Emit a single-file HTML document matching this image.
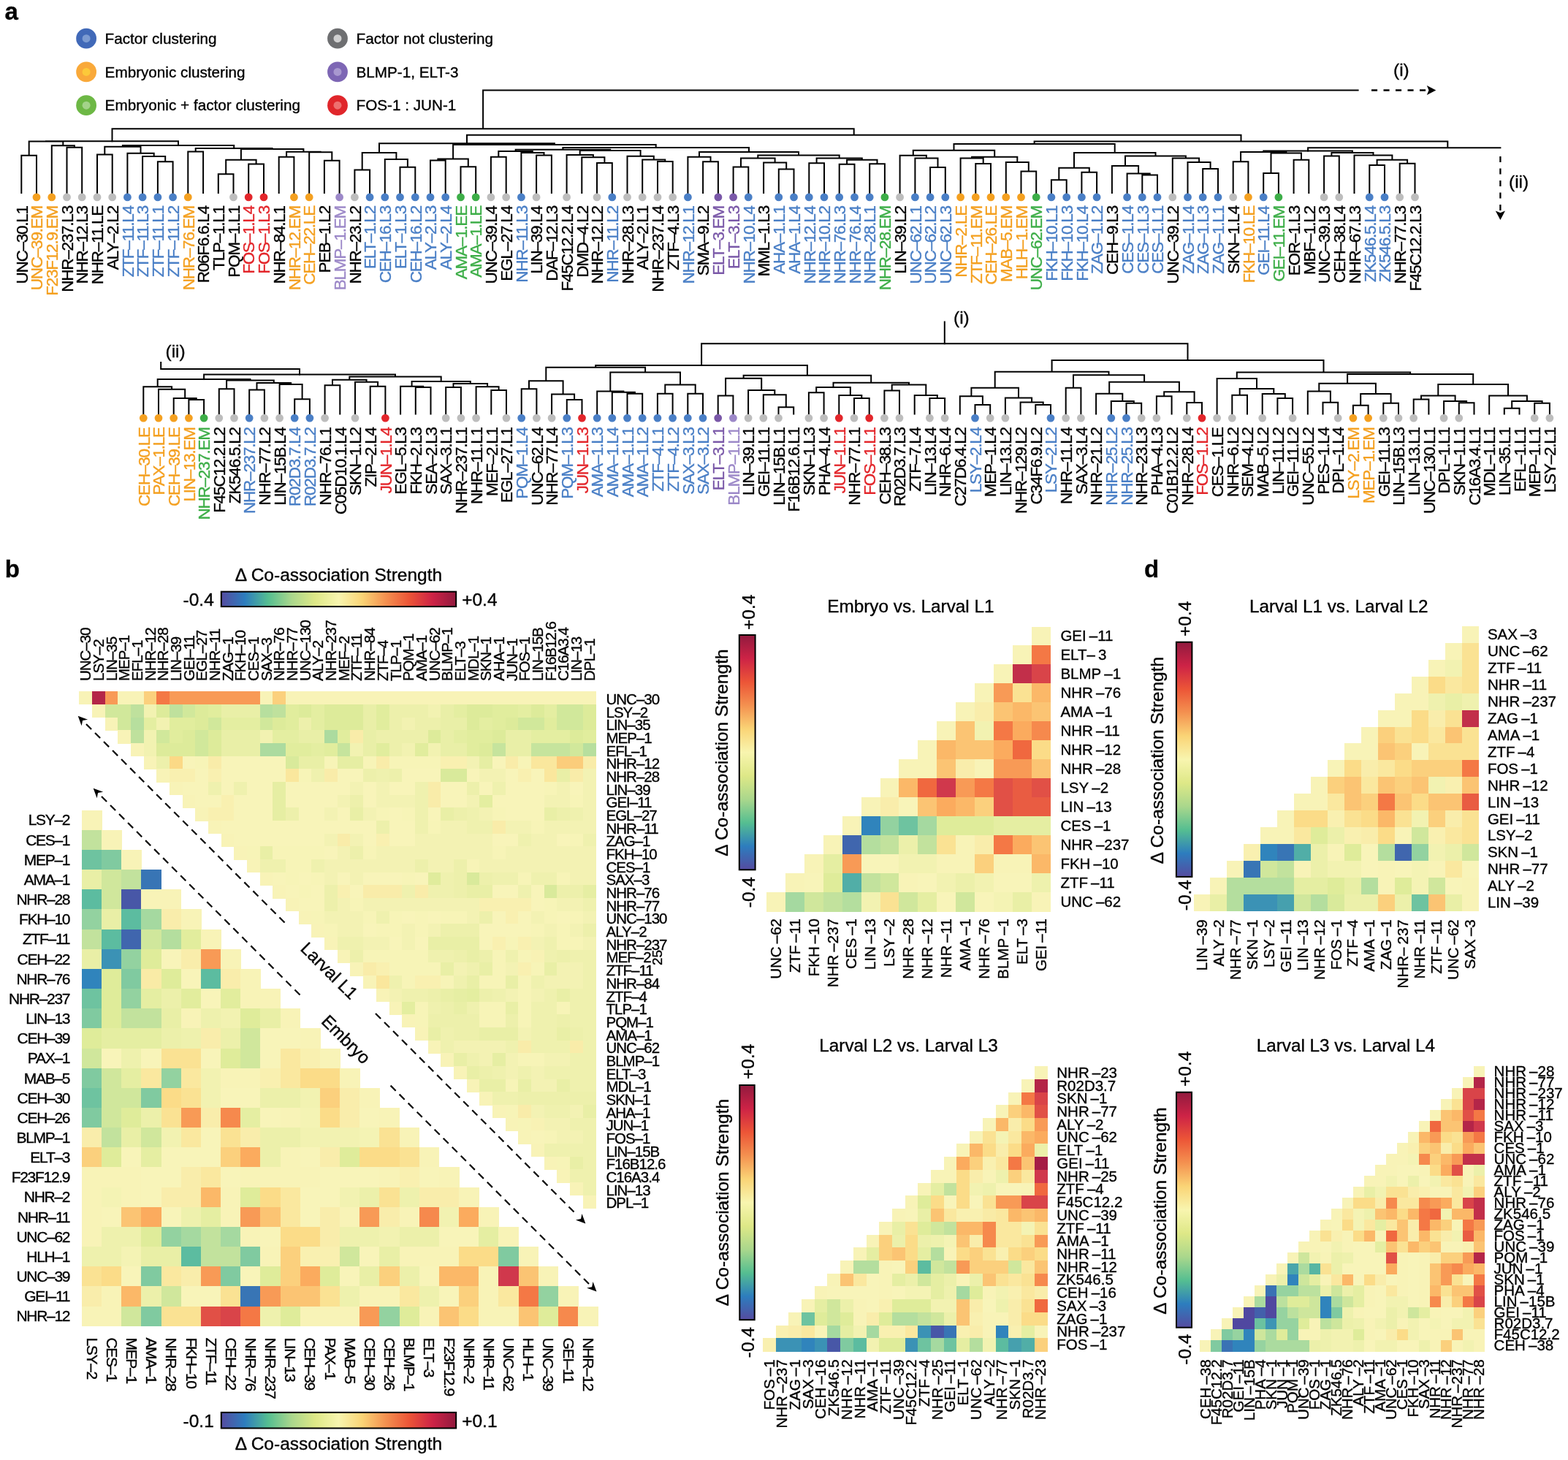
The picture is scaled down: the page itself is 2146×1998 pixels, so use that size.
<!DOCTYPE html>
<html><head><meta charset="utf-8"><title>Figure</title>
<style>html,body{margin:0;padding:0;background:#fff;} svg{display:block;} text{stroke:currentColor;stroke-width:0.35px;}</style>
</head><body>
<svg width="2146" height="1998" viewBox="0 0 2146 1998" font-family="'Liberation Sans', Arial, Helvetica, sans-serif">
<rect width="2146" height="1998" fill="#fff"/>
<defs><linearGradient id="gh" x1="0" x2="1" y1="0" y2="0"><stop offset="0.00" stop-color="#554ba0"/><stop offset="0.10" stop-color="#2d7dbe"/><stop offset="0.20" stop-color="#55be91"/><stop offset="0.30" stop-color="#aad78c"/><stop offset="0.40" stop-color="#dee887"/><stop offset="0.50" stop-color="#f8f5af"/><stop offset="0.60" stop-color="#fad476"/><stop offset="0.70" stop-color="#f49150"/><stop offset="0.80" stop-color="#ec5537"/><stop offset="0.90" stop-color="#cd2346"/><stop offset="1.00" stop-color="#911a3e"/></linearGradient>
<linearGradient id="gv" x1="0" x2="0" y1="1" y2="0"><stop offset="0.00" stop-color="#554ba0"/><stop offset="0.10" stop-color="#2d7dbe"/><stop offset="0.20" stop-color="#55be91"/><stop offset="0.30" stop-color="#aad78c"/><stop offset="0.40" stop-color="#dee887"/><stop offset="0.50" stop-color="#f8f5af"/><stop offset="0.60" stop-color="#fad476"/><stop offset="0.70" stop-color="#f49150"/><stop offset="0.80" stop-color="#ec5537"/><stop offset="0.90" stop-color="#cd2346"/><stop offset="1.00" stop-color="#911a3e"/></linearGradient>
</defs>
<text x="6.5" y="26.6" font-size="33" font-weight="bold">a</text>
<text x="6.8" y="790.4" font-size="33" font-weight="bold">b</text>
<text x="1566" y="790.4" font-size="33" font-weight="bold">d</text>
<circle cx="118.1" cy="52.7" r="13.9" fill="#4169B8"/><circle cx="118.1" cy="52.7" r="5.5" fill="#7C9BD2"/>
<text x="143.6" y="59.900000000000006" font-size="20.7">Factor clustering</text>
<circle cx="118.1" cy="98.4" r="13.9" fill="#F9A93A"/><circle cx="118.1" cy="98.4" r="5.5" fill="#FCC93A"/>
<text x="143.6" y="105.60000000000001" font-size="20.7">Embryonic clustering</text>
<circle cx="118.1" cy="144.2" r="13.9" fill="#6DB845"/><circle cx="118.1" cy="144.2" r="5.5" fill="#A3D38A"/>
<text x="143.6" y="151.39999999999998" font-size="20.7">Embryonic + factor clustering</text>
<circle cx="462" cy="52.7" r="13.9" fill="#6E6F71"/><circle cx="462" cy="52.7" r="5.5" fill="#D0D0D0"/>
<text x="487.5" y="59.900000000000006" font-size="20.7">Factor not clustering</text>
<circle cx="462" cy="98.4" r="13.9" fill="#7D66B4"/><circle cx="462" cy="98.4" r="5.5" fill="#A898CF"/>
<text x="487.5" y="105.60000000000001" font-size="20.7">BLMP-1, ELT-3</text>
<circle cx="462" cy="144.2" r="13.9" fill="#E0262B"/><circle cx="462" cy="144.2" r="5.5" fill="#EE7070"/>
<text x="487.5" y="151.39999999999998" font-size="20.7">FOS-1 : JUN-1</text>
<path d="M29.3,264.1V212.7H50.0V264.1M91.5,264.1V201.7H112.2V264.1M70.8,264.1V199.3H101.9V201.7M39.7,212.7V193.5H86.3V199.3M133.0,264.1V211.6H153.7V264.1M215.9,264.1V221.2H236.6V264.1M195.1,264.1V214.0H226.2V221.2M174.4,264.1V209.8H210.7V214.0M143.3,211.6V200.7H192.5V209.8M257.3,264.1V207.6H278.1V264.1M298.8,264.1V238.2H319.5V264.1M340.2,264.1V224.6H361.0V264.1M309.2,238.2V218.8H350.6V224.6M381.7,264.1V214.8H402.4V264.1M443.9,264.1V219.7H464.6V264.1M423.2,264.1V208.3H454.3V219.7M392.1,214.8V207.8H438.7V208.3M329.9,218.8V204.0H415.4V207.8M267.7,207.6V202.9H372.6V204.0M167.9,200.7V198.9H320.2V202.9M63.0,193.5V193.3H244.0V198.9M485.4,264.1V232.4H506.1V264.1M547.5,264.1V228.8H568.3V264.1M526.8,264.1V217.9H557.9V228.8M495.7,232.4V208.9H542.4V217.9M589.0,264.1V219.4H609.7V264.1M630.5,264.1V228.2H651.2V264.1M599.4,219.4V217.4H640.8V228.2M671.9,264.1V214.8H692.7V264.1M734.1,264.1V212.5H754.9V264.1M713.4,264.1V208.9H744.5V212.5M682.3,214.8V207.0H728.9V208.9M817.0,264.1V223.0H837.8V264.1M796.3,264.1V215.2H827.4V223.0M775.6,264.1V212.1H811.9V215.2M900.0,264.1V221.0H920.7V264.1M879.2,264.1V218.5H910.3V221.0M858.5,264.1V213.7H894.8V218.5M793.7,212.1V206.1H876.6V213.7M705.6,207.0V204.7H835.2V206.1M962.1,264.1V221.2H982.9V264.1M941.4,264.1V214.8H972.5V221.2M1003.6,264.1V228.4H1024.3V264.1M1065.8,264.1V231.5H1086.5V264.1M1045.1,264.1V222.4H1076.2V231.5M1014.0,228.4V216.5H1060.6V222.4M1107.3,264.1V223.3H1128.0V264.1M1148.7,264.1V224.8H1169.5V264.1M1190.2,264.1V224.2H1210.9V264.1M1159.1,224.8V218.8H1200.5V224.2M1117.6,223.3V216.6H1179.8V218.8M1037.3,216.5V212.5H1148.7V216.6M957.0,214.8V208.0H1093.0V212.5M770.4,204.7V202.0H1025.0V208.0M620.1,217.4V198.0H897.7V202.0M519.0,208.9V196.2H758.9V198.0M1273.1,264.1V229.1H1293.8V264.1M1252.4,264.1V216.6H1283.5V229.1M1231.6,264.1V212.8H1267.9V216.6M1335.3,264.1V223.9H1356.0V264.1M1314.6,264.1V216.6H1345.7V223.9M1397.5,264.1V234.4H1418.2V264.1M1376.8,264.1V222.1H1407.8V234.4M1330.1,216.6V214.8H1392.3V222.1M1249.8,212.8V205.8H1361.2V214.8M1438.9,264.1V246.3H1459.7V264.1M1480.4,264.1V235.7H1501.1V264.1M1449.3,246.3V229.7H1490.8V235.7M1563.3,264.1V239.6H1584.0V264.1M1542.6,264.1V237.5H1573.7V239.6M1521.9,264.1V227.0H1558.1V237.5M1646.2,264.1V231.1H1667.0V264.1M1625.5,264.1V222.1H1656.6V231.1M1604.8,264.1V216.6H1641.1V222.1M1540.0,227.0V213.4H1622.9V216.6M1470.0,229.7V208.9H1581.5V213.4M1305.5,205.8V197.1H1525.7V208.9M1687.7,264.1V221.2H1708.4V264.1M1729.2,264.1V236.9H1749.9V264.1M1770.6,264.1V218.8H1791.3V264.1M1739.5,236.9V209.4H1781.0V218.8M1698.1,221.2V208.0H1760.3V209.4M1812.1,264.1V213.4H1832.8V264.1M1874.3,264.1V226.1H1895.0V264.1M1915.7,264.1V223.7H1936.5V264.1M1884.6,226.1V218.8H1926.1V223.7M1853.5,264.1V212.5H1905.4V218.8M1822.4,213.4V208.9H1879.5V212.5M1729.2,208.0V206.5H1850.9V208.9" fill="none" stroke="#000" stroke-width="2.0" stroke-linejoin="miter" stroke-linecap="square"/>
<text transform="translate(37.5,282.1) rotate(-90)" text-anchor="end" font-size="22.5" letter-spacing="-1.25" fill="#000000" color="#000000">UNC–30.L1</text>
<circle cx="50.0" cy="269.9" r="5.4" fill="#F4A020"/>
<text transform="translate(58.2,282.1) rotate(-90)" text-anchor="end" font-size="22.5" letter-spacing="-1.25" fill="#F4A020" color="#F4A020">UNC–39.EM</text>
<circle cx="70.8" cy="269.9" r="5.4" fill="#F4A020"/>
<text transform="translate(79.0,282.1) rotate(-90)" text-anchor="end" font-size="22.5" letter-spacing="-1.25" fill="#F4A020" color="#F4A020">F23F12.9.EM</text>
<circle cx="91.5" cy="269.9" r="5.4" fill="#BDBDBD"/>
<text transform="translate(99.7,282.1) rotate(-90)" text-anchor="end" font-size="22.5" letter-spacing="-1.25" fill="#000000" color="#000000">NHR–237.L3</text>
<circle cx="112.2" cy="269.9" r="5.4" fill="#BDBDBD"/>
<text transform="translate(120.4,282.1) rotate(-90)" text-anchor="end" font-size="22.5" letter-spacing="-1.25" fill="#000000" color="#000000">NHR–12.L3</text>
<circle cx="133.0" cy="269.9" r="5.4" fill="#BDBDBD"/>
<text transform="translate(141.2,282.1) rotate(-90)" text-anchor="end" font-size="22.5" letter-spacing="-1.25" fill="#000000" color="#000000">NHR–11.LE</text>
<circle cx="153.7" cy="269.9" r="5.4" fill="#BDBDBD"/>
<text transform="translate(161.9,282.1) rotate(-90)" text-anchor="end" font-size="22.5" letter-spacing="-1.25" fill="#000000" color="#000000">ALY–2.L2</text>
<circle cx="174.4" cy="269.9" r="5.4" fill="#4A7FC6"/>
<text transform="translate(182.6,282.1) rotate(-90)" text-anchor="end" font-size="22.5" letter-spacing="-1.25" fill="#4A7FC6" color="#4A7FC6">ZTF–11.L4</text>
<circle cx="195.1" cy="269.9" r="5.4" fill="#4A7FC6"/>
<text transform="translate(203.3,282.1) rotate(-90)" text-anchor="end" font-size="22.5" letter-spacing="-1.25" fill="#4A7FC6" color="#4A7FC6">ZTF–11.L3</text>
<circle cx="215.9" cy="269.9" r="5.4" fill="#4A7FC6"/>
<text transform="translate(224.1,282.1) rotate(-90)" text-anchor="end" font-size="22.5" letter-spacing="-1.25" fill="#4A7FC6" color="#4A7FC6">ZTF–11.L1</text>
<circle cx="236.6" cy="269.9" r="5.4" fill="#4A7FC6"/>
<text transform="translate(244.8,282.1) rotate(-90)" text-anchor="end" font-size="22.5" letter-spacing="-1.25" fill="#4A7FC6" color="#4A7FC6">ZTF–11.L2</text>
<circle cx="257.3" cy="269.9" r="5.4" fill="#F4A020"/>
<text transform="translate(265.5,282.1) rotate(-90)" text-anchor="end" font-size="22.5" letter-spacing="-1.25" fill="#F4A020" color="#F4A020">NHR–76.EM</text>
<text transform="translate(286.3,282.1) rotate(-90)" text-anchor="end" font-size="22.5" letter-spacing="-1.25" fill="#000000" color="#000000">R06F6.6.L4</text>
<text transform="translate(307.0,282.1) rotate(-90)" text-anchor="end" font-size="22.5" letter-spacing="-1.25" fill="#000000" color="#000000">TLP–1.L1</text>
<circle cx="319.5" cy="269.9" r="5.4" fill="#BDBDBD"/>
<text transform="translate(327.7,282.1) rotate(-90)" text-anchor="end" font-size="22.5" letter-spacing="-1.25" fill="#000000" color="#000000">PQM–1.L1</text>
<circle cx="340.2" cy="269.9" r="5.4" fill="#E3262B"/>
<text transform="translate(348.4,282.1) rotate(-90)" text-anchor="end" font-size="22.5" letter-spacing="-1.25" fill="#E3262B" color="#E3262B">FOS–1.L4</text>
<circle cx="361.0" cy="269.9" r="5.4" fill="#E3262B"/>
<text transform="translate(369.2,282.1) rotate(-90)" text-anchor="end" font-size="22.5" letter-spacing="-1.25" fill="#E3262B" color="#E3262B">FOS–1.L3</text>
<text transform="translate(389.9,282.1) rotate(-90)" text-anchor="end" font-size="22.5" letter-spacing="-1.25" fill="#000000" color="#000000">NHR–84.L1</text>
<circle cx="402.4" cy="269.9" r="5.4" fill="#F4A020"/>
<text transform="translate(410.6,282.1) rotate(-90)" text-anchor="end" font-size="22.5" letter-spacing="-1.25" fill="#F4A020" color="#F4A020">NHR–12.EM</text>
<circle cx="423.2" cy="269.9" r="5.4" fill="#F4A020"/>
<text transform="translate(431.4,282.1) rotate(-90)" text-anchor="end" font-size="22.5" letter-spacing="-1.25" fill="#F4A020" color="#F4A020">CEH–22.LE</text>
<text transform="translate(452.1,282.1) rotate(-90)" text-anchor="end" font-size="22.5" letter-spacing="-1.25" fill="#000000" color="#000000">PEB–1.L2</text>
<circle cx="464.6" cy="269.9" r="5.4" fill="#9C88C8"/>
<text transform="translate(472.8,282.1) rotate(-90)" text-anchor="end" font-size="22.5" letter-spacing="-1.25" fill="#9C88C8" color="#9C88C8">BLMP–1.EM</text>
<circle cx="485.4" cy="269.9" r="5.4" fill="#BDBDBD"/>
<text transform="translate(493.6,282.1) rotate(-90)" text-anchor="end" font-size="22.5" letter-spacing="-1.25" fill="#000000" color="#000000">NHR–23.L2</text>
<circle cx="506.1" cy="269.9" r="5.4" fill="#4A7FC6"/>
<text transform="translate(514.3,282.1) rotate(-90)" text-anchor="end" font-size="22.5" letter-spacing="-1.25" fill="#4A7FC6" color="#4A7FC6">ELT–1.L2</text>
<circle cx="526.8" cy="269.9" r="5.4" fill="#4A7FC6"/>
<text transform="translate(535.0,282.1) rotate(-90)" text-anchor="end" font-size="22.5" letter-spacing="-1.25" fill="#4A7FC6" color="#4A7FC6">CEH–16.L3</text>
<circle cx="547.5" cy="269.9" r="5.4" fill="#4A7FC6"/>
<text transform="translate(555.8,282.1) rotate(-90)" text-anchor="end" font-size="22.5" letter-spacing="-1.25" fill="#4A7FC6" color="#4A7FC6">ELT–1.L3</text>
<circle cx="568.3" cy="269.9" r="5.4" fill="#4A7FC6"/>
<text transform="translate(576.5,282.1) rotate(-90)" text-anchor="end" font-size="22.5" letter-spacing="-1.25" fill="#4A7FC6" color="#4A7FC6">CEH–16.L2</text>
<circle cx="589.0" cy="269.9" r="5.4" fill="#4A7FC6"/>
<text transform="translate(597.2,282.1) rotate(-90)" text-anchor="end" font-size="22.5" letter-spacing="-1.25" fill="#4A7FC6" color="#4A7FC6">ALY–2.L3</text>
<circle cx="609.7" cy="269.9" r="5.4" fill="#4A7FC6"/>
<text transform="translate(617.9,282.1) rotate(-90)" text-anchor="end" font-size="22.5" letter-spacing="-1.25" fill="#4A7FC6" color="#4A7FC6">ALY–2.L4</text>
<circle cx="630.5" cy="269.9" r="5.4" fill="#3DAE48"/>
<text transform="translate(638.7,282.1) rotate(-90)" text-anchor="end" font-size="22.5" letter-spacing="-1.25" fill="#3DAE48" color="#3DAE48">AMA–1.EE</text>
<circle cx="651.2" cy="269.9" r="5.4" fill="#3DAE48"/>
<text transform="translate(659.4,282.1) rotate(-90)" text-anchor="end" font-size="22.5" letter-spacing="-1.25" fill="#3DAE48" color="#3DAE48">AMA–1.LE</text>
<circle cx="671.9" cy="269.9" r="5.4" fill="#BDBDBD"/>
<text transform="translate(680.1,282.1) rotate(-90)" text-anchor="end" font-size="22.5" letter-spacing="-1.25" fill="#000000" color="#000000">UNC–39.L4</text>
<circle cx="692.7" cy="269.9" r="5.4" fill="#BDBDBD"/>
<text transform="translate(700.9,282.1) rotate(-90)" text-anchor="end" font-size="22.5" letter-spacing="-1.25" fill="#000000" color="#000000">EGL–27.L4</text>
<circle cx="713.4" cy="269.9" r="5.4" fill="#4A7FC6"/>
<text transform="translate(721.6,282.1) rotate(-90)" text-anchor="end" font-size="22.5" letter-spacing="-1.25" fill="#4A7FC6" color="#4A7FC6">NHR–11.L3</text>
<circle cx="734.1" cy="269.9" r="5.4" fill="#BDBDBD"/>
<text transform="translate(742.3,282.1) rotate(-90)" text-anchor="end" font-size="22.5" letter-spacing="-1.25" fill="#000000" color="#000000">LIN–39.L4</text>
<text transform="translate(763.1,282.1) rotate(-90)" text-anchor="end" font-size="22.5" letter-spacing="-1.25" fill="#000000" color="#000000">DAF–12.L3</text>
<circle cx="775.6" cy="269.9" r="5.4" fill="#BDBDBD"/>
<text transform="translate(783.8,282.1) rotate(-90)" text-anchor="end" font-size="22.5" letter-spacing="-1.25" fill="#000000" color="#000000">F45C12.2.L4</text>
<text transform="translate(804.5,282.1) rotate(-90)" text-anchor="end" font-size="22.5" letter-spacing="-1.25" fill="#000000" color="#000000">DMD–4.L2</text>
<circle cx="817.0" cy="269.9" r="5.4" fill="#BDBDBD"/>
<text transform="translate(825.2,282.1) rotate(-90)" text-anchor="end" font-size="22.5" letter-spacing="-1.25" fill="#000000" color="#000000">NHR–12.L2</text>
<circle cx="837.8" cy="269.9" r="5.4" fill="#4A7FC6"/>
<text transform="translate(846.0,282.1) rotate(-90)" text-anchor="end" font-size="22.5" letter-spacing="-1.25" fill="#4A7FC6" color="#4A7FC6">NHR–11.L2</text>
<circle cx="858.5" cy="269.9" r="5.4" fill="#BDBDBD"/>
<text transform="translate(866.7,282.1) rotate(-90)" text-anchor="end" font-size="22.5" letter-spacing="-1.25" fill="#000000" color="#000000">NHR–28.L3</text>
<circle cx="879.2" cy="269.9" r="5.4" fill="#BDBDBD"/>
<text transform="translate(887.4,282.1) rotate(-90)" text-anchor="end" font-size="22.5" letter-spacing="-1.25" fill="#000000" color="#000000">ALY–2.L1</text>
<circle cx="900.0" cy="269.9" r="5.4" fill="#BDBDBD"/>
<text transform="translate(908.2,282.1) rotate(-90)" text-anchor="end" font-size="22.5" letter-spacing="-1.25" fill="#000000" color="#000000">NHR–237.L4</text>
<circle cx="920.7" cy="269.9" r="5.4" fill="#BDBDBD"/>
<text transform="translate(928.9,282.1) rotate(-90)" text-anchor="end" font-size="22.5" letter-spacing="-1.25" fill="#000000" color="#000000">ZTF–4.L3</text>
<circle cx="941.4" cy="269.9" r="5.4" fill="#4A7FC6"/>
<text transform="translate(949.6,282.1) rotate(-90)" text-anchor="end" font-size="22.5" letter-spacing="-1.25" fill="#4A7FC6" color="#4A7FC6">NHR–12.L1</text>
<text transform="translate(970.4,282.1) rotate(-90)" text-anchor="end" font-size="22.5" letter-spacing="-1.25" fill="#000000" color="#000000">SMA–9.L2</text>
<circle cx="982.9" cy="269.9" r="5.4" fill="#7A58A8"/>
<text transform="translate(991.1,282.1) rotate(-90)" text-anchor="end" font-size="22.5" letter-spacing="-1.25" fill="#7A58A8" color="#7A58A8">ELT–3.EM</text>
<circle cx="1003.6" cy="269.9" r="5.4" fill="#7A58A8"/>
<text transform="translate(1011.8,282.1) rotate(-90)" text-anchor="end" font-size="22.5" letter-spacing="-1.25" fill="#7A58A8" color="#7A58A8">ELT–3.L3</text>
<circle cx="1024.3" cy="269.9" r="5.4" fill="#4A7FC6"/>
<text transform="translate(1032.5,282.1) rotate(-90)" text-anchor="end" font-size="22.5" letter-spacing="-1.25" fill="#4A7FC6" color="#4A7FC6">NHR–10.L4</text>
<text transform="translate(1053.3,282.1) rotate(-90)" text-anchor="end" font-size="22.5" letter-spacing="-1.25" fill="#000000" color="#000000">MML–1.L3</text>
<circle cx="1065.8" cy="269.9" r="5.4" fill="#4A7FC6"/>
<text transform="translate(1074.0,282.1) rotate(-90)" text-anchor="end" font-size="22.5" letter-spacing="-1.25" fill="#4A7FC6" color="#4A7FC6">AHA–1.L1</text>
<circle cx="1086.5" cy="269.9" r="5.4" fill="#4A7FC6"/>
<text transform="translate(1094.7,282.1) rotate(-90)" text-anchor="end" font-size="22.5" letter-spacing="-1.25" fill="#4A7FC6" color="#4A7FC6">AHA–1.L4</text>
<circle cx="1107.3" cy="269.9" r="5.4" fill="#4A7FC6"/>
<text transform="translate(1115.5,282.1) rotate(-90)" text-anchor="end" font-size="22.5" letter-spacing="-1.25" fill="#4A7FC6" color="#4A7FC6">NHR–12.L4</text>
<circle cx="1128.0" cy="269.9" r="5.4" fill="#4A7FC6"/>
<text transform="translate(1136.2,282.1) rotate(-90)" text-anchor="end" font-size="22.5" letter-spacing="-1.25" fill="#4A7FC6" color="#4A7FC6">NHR–10.L2</text>
<circle cx="1148.7" cy="269.9" r="5.4" fill="#4A7FC6"/>
<text transform="translate(1156.9,282.1) rotate(-90)" text-anchor="end" font-size="22.5" letter-spacing="-1.25" fill="#4A7FC6" color="#4A7FC6">NHR–76.L3</text>
<circle cx="1169.5" cy="269.9" r="5.4" fill="#4A7FC6"/>
<text transform="translate(1177.7,282.1) rotate(-90)" text-anchor="end" font-size="22.5" letter-spacing="-1.25" fill="#4A7FC6" color="#4A7FC6">NHR–76.L4</text>
<circle cx="1190.2" cy="269.9" r="5.4" fill="#4A7FC6"/>
<text transform="translate(1198.4,282.1) rotate(-90)" text-anchor="end" font-size="22.5" letter-spacing="-1.25" fill="#4A7FC6" color="#4A7FC6">NHR–28.L1</text>
<circle cx="1210.9" cy="269.9" r="5.4" fill="#3DAE48"/>
<text transform="translate(1219.1,282.1) rotate(-90)" text-anchor="end" font-size="22.5" letter-spacing="-1.25" fill="#3DAE48" color="#3DAE48">NHR–28.EM</text>
<circle cx="1231.6" cy="269.9" r="5.4" fill="#BDBDBD"/>
<text transform="translate(1239.8,282.1) rotate(-90)" text-anchor="end" font-size="22.5" letter-spacing="-1.25" fill="#000000" color="#000000">LIN–39.L2</text>
<circle cx="1252.4" cy="269.9" r="5.4" fill="#4A7FC6"/>
<text transform="translate(1260.6,282.1) rotate(-90)" text-anchor="end" font-size="22.5" letter-spacing="-1.25" fill="#4A7FC6" color="#4A7FC6">UNC–62.L1</text>
<circle cx="1273.1" cy="269.9" r="5.4" fill="#4A7FC6"/>
<text transform="translate(1281.3,282.1) rotate(-90)" text-anchor="end" font-size="22.5" letter-spacing="-1.25" fill="#4A7FC6" color="#4A7FC6">UNC–62.L2</text>
<circle cx="1293.8" cy="269.9" r="5.4" fill="#4A7FC6"/>
<text transform="translate(1302.0,282.1) rotate(-90)" text-anchor="end" font-size="22.5" letter-spacing="-1.25" fill="#4A7FC6" color="#4A7FC6">UNC–62.L3</text>
<circle cx="1314.6" cy="269.9" r="5.4" fill="#F4A020"/>
<text transform="translate(1322.8,282.1) rotate(-90)" text-anchor="end" font-size="22.5" letter-spacing="-1.25" fill="#F4A020" color="#F4A020">NHR–2.LE</text>
<circle cx="1335.3" cy="269.9" r="5.4" fill="#F4A020"/>
<text transform="translate(1343.5,282.1) rotate(-90)" text-anchor="end" font-size="22.5" letter-spacing="-1.25" fill="#F4A020" color="#F4A020">ZTF–11.EM</text>
<circle cx="1356.0" cy="269.9" r="5.4" fill="#F4A020"/>
<text transform="translate(1364.2,282.1) rotate(-90)" text-anchor="end" font-size="22.5" letter-spacing="-1.25" fill="#F4A020" color="#F4A020">CEH–26.LE</text>
<circle cx="1376.8" cy="269.9" r="5.4" fill="#F4A020"/>
<text transform="translate(1385.0,282.1) rotate(-90)" text-anchor="end" font-size="22.5" letter-spacing="-1.25" fill="#F4A020" color="#F4A020">MAB–5.EM</text>
<circle cx="1397.5" cy="269.9" r="5.4" fill="#F4A020"/>
<text transform="translate(1405.7,282.1) rotate(-90)" text-anchor="end" font-size="22.5" letter-spacing="-1.25" fill="#F4A020" color="#F4A020">HLH–1.EM</text>
<circle cx="1418.2" cy="269.9" r="5.4" fill="#3DAE48"/>
<text transform="translate(1426.4,282.1) rotate(-90)" text-anchor="end" font-size="22.5" letter-spacing="-1.25" fill="#3DAE48" color="#3DAE48">UNC–62.EM</text>
<circle cx="1438.9" cy="269.9" r="5.4" fill="#4A7FC6"/>
<text transform="translate(1447.1,282.1) rotate(-90)" text-anchor="end" font-size="22.5" letter-spacing="-1.25" fill="#4A7FC6" color="#4A7FC6">FKH–10.L1</text>
<circle cx="1459.7" cy="269.9" r="5.4" fill="#4A7FC6"/>
<text transform="translate(1467.9,282.1) rotate(-90)" text-anchor="end" font-size="22.5" letter-spacing="-1.25" fill="#4A7FC6" color="#4A7FC6">FKH–10.L3</text>
<circle cx="1480.4" cy="269.9" r="5.4" fill="#4A7FC6"/>
<text transform="translate(1488.6,282.1) rotate(-90)" text-anchor="end" font-size="22.5" letter-spacing="-1.25" fill="#4A7FC6" color="#4A7FC6">FKH–10.L4</text>
<circle cx="1501.1" cy="269.9" r="5.4" fill="#4A7FC6"/>
<text transform="translate(1509.3,282.1) rotate(-90)" text-anchor="end" font-size="22.5" letter-spacing="-1.25" fill="#4A7FC6" color="#4A7FC6">ZAG–1.L2</text>
<text transform="translate(1530.1,282.1) rotate(-90)" text-anchor="end" font-size="22.5" letter-spacing="-1.25" fill="#000000" color="#000000">CEH–9.L3</text>
<circle cx="1542.6" cy="269.9" r="5.4" fill="#4A7FC6"/>
<text transform="translate(1550.8,282.1) rotate(-90)" text-anchor="end" font-size="22.5" letter-spacing="-1.25" fill="#4A7FC6" color="#4A7FC6">CES–1.L4</text>
<circle cx="1563.3" cy="269.9" r="5.4" fill="#4A7FC6"/>
<text transform="translate(1571.5,282.1) rotate(-90)" text-anchor="end" font-size="22.5" letter-spacing="-1.25" fill="#4A7FC6" color="#4A7FC6">CES–1.L3</text>
<circle cx="1584.0" cy="269.9" r="5.4" fill="#4A7FC6"/>
<text transform="translate(1592.2,282.1) rotate(-90)" text-anchor="end" font-size="22.5" letter-spacing="-1.25" fill="#4A7FC6" color="#4A7FC6">CES–1.L1</text>
<circle cx="1604.8" cy="269.9" r="5.4" fill="#BDBDBD"/>
<text transform="translate(1613.0,282.1) rotate(-90)" text-anchor="end" font-size="22.5" letter-spacing="-1.25" fill="#000000" color="#000000">UNC–39.L2</text>
<circle cx="1625.5" cy="269.9" r="5.4" fill="#4A7FC6"/>
<text transform="translate(1633.7,282.1) rotate(-90)" text-anchor="end" font-size="22.5" letter-spacing="-1.25" fill="#4A7FC6" color="#4A7FC6">ZAG–1.L4</text>
<circle cx="1646.2" cy="269.9" r="5.4" fill="#4A7FC6"/>
<text transform="translate(1654.4,282.1) rotate(-90)" text-anchor="end" font-size="22.5" letter-spacing="-1.25" fill="#4A7FC6" color="#4A7FC6">ZAG–1.L3</text>
<circle cx="1667.0" cy="269.9" r="5.4" fill="#4A7FC6"/>
<text transform="translate(1675.2,282.1) rotate(-90)" text-anchor="end" font-size="22.5" letter-spacing="-1.25" fill="#4A7FC6" color="#4A7FC6">ZAG–1.L1</text>
<circle cx="1687.7" cy="269.9" r="5.4" fill="#BDBDBD"/>
<text transform="translate(1695.9,282.1) rotate(-90)" text-anchor="end" font-size="22.5" letter-spacing="-1.25" fill="#000000" color="#000000">SKN–1.L4</text>
<circle cx="1708.4" cy="269.9" r="5.4" fill="#F4A020"/>
<text transform="translate(1716.6,282.1) rotate(-90)" text-anchor="end" font-size="22.5" letter-spacing="-1.25" fill="#F4A020" color="#F4A020">FKH–10.LE</text>
<circle cx="1729.2" cy="269.9" r="5.4" fill="#4A7FC6"/>
<text transform="translate(1737.4,282.1) rotate(-90)" text-anchor="end" font-size="22.5" letter-spacing="-1.25" fill="#4A7FC6" color="#4A7FC6">GEI–11.L4</text>
<circle cx="1749.9" cy="269.9" r="5.4" fill="#3DAE48"/>
<text transform="translate(1758.1,282.1) rotate(-90)" text-anchor="end" font-size="22.5" letter-spacing="-1.25" fill="#3DAE48" color="#3DAE48">GEI–11.EM</text>
<text transform="translate(1778.8,282.1) rotate(-90)" text-anchor="end" font-size="22.5" letter-spacing="-1.25" fill="#000000" color="#000000">EOR–1.L3</text>
<text transform="translate(1799.5,282.1) rotate(-90)" text-anchor="end" font-size="22.5" letter-spacing="-1.25" fill="#000000" color="#000000">MBF–1.L2</text>
<circle cx="1812.1" cy="269.9" r="5.4" fill="#BDBDBD"/>
<text transform="translate(1820.3,282.1) rotate(-90)" text-anchor="end" font-size="22.5" letter-spacing="-1.25" fill="#000000" color="#000000">UNC–39.L3</text>
<circle cx="1832.8" cy="269.9" r="5.4" fill="#BDBDBD"/>
<text transform="translate(1841.0,282.1) rotate(-90)" text-anchor="end" font-size="22.5" letter-spacing="-1.25" fill="#000000" color="#000000">CEH–38.L4</text>
<text transform="translate(1861.7,282.1) rotate(-90)" text-anchor="end" font-size="22.5" letter-spacing="-1.25" fill="#000000" color="#000000">NHR–67.L3</text>
<circle cx="1874.3" cy="269.9" r="5.4" fill="#4A7FC6"/>
<text transform="translate(1882.5,282.1) rotate(-90)" text-anchor="end" font-size="22.5" letter-spacing="-1.25" fill="#4A7FC6" color="#4A7FC6">ZK546.5.L4</text>
<circle cx="1895.0" cy="269.9" r="5.4" fill="#4A7FC6"/>
<text transform="translate(1903.2,282.1) rotate(-90)" text-anchor="end" font-size="22.5" letter-spacing="-1.25" fill="#4A7FC6" color="#4A7FC6">ZK546.5.L3</text>
<circle cx="1915.7" cy="269.9" r="5.4" fill="#BDBDBD"/>
<text transform="translate(1923.9,282.1) rotate(-90)" text-anchor="end" font-size="22.5" letter-spacing="-1.25" fill="#000000" color="#000000">NHR–77.L3</text>
<circle cx="1936.5" cy="269.9" r="5.4" fill="#BDBDBD"/>
<text transform="translate(1944.7,282.1) rotate(-90)" text-anchor="end" font-size="22.5" letter-spacing="-1.25" fill="#000000" color="#000000">F45C12.2.L3</text>
<path d="M1790.1,206.5V202.2M1790.8,202.2H2053.4M1415.6,197.1V193.5H1981.3V202.2M639.0,196.2V184.8H1698.5V193.5M153.5,193.3V176.3H1168.7V184.8M661.1,176.3V123.5H1858.6" fill="none" stroke="#000" stroke-width="2.0" stroke-linecap="square"/>
<path d="M1877,123.5H1953" stroke="#000" stroke-width="2.3" stroke-dasharray="8.1,8.4" fill="none"/>
<path d="M0,0 L-12.5,-6.6 L-9.8,0 L-12.5,6.6 Z" transform="translate(1965.3,123.5)" fill="#000"/>
<path d="M2053.4,214V289" stroke="#000" stroke-width="2.3" stroke-dasharray="8.1,8.4" fill="none"/>
<path d="M0,0 L-12.5,-6.6 L-9.8,0 L-12.5,6.6 Z" transform="translate(2053.4,301) rotate(90)" fill="#000"/>
<text x="1907" y="104" font-size="24.5">(i)</text>
<text x="2065" y="256.5" font-size="24.5">(ii)</text>
<path d="M258.4,566.5V547.1H279.1V566.5M237.7,566.5V545.0H268.7V547.1M217.0,566.5V532.7H253.2V545.0M196.3,566.5V529.2H235.1V532.7M299.8,566.5V532.2H320.5V566.5M341.2,566.5V533.5H361.9V566.5M403.2,566.5V546.3H423.9V566.5M382.6,566.5V525.9H413.6V546.3M351.5,533.5V524.0H398.1V525.9M310.1,532.2V520.5H374.8V524.0M215.7,529.2V519.1H342.5V520.5M444.6,566.5V527.3H465.3V566.5M506.7,566.5V528.7H527.4V566.5M486.0,566.5V522.7H517.1V528.7M455.0,527.3V519.7H501.6V522.7M568.8,566.5V530.0H589.5V566.5M548.1,566.5V528.7H579.2V530.0M610.2,566.5V530.0H630.9V566.5M672.3,566.5V534.1H693.0V566.5M651.6,566.5V529.2H682.6V534.1M620.5,530.0V525.1H667.1V529.2M563.6,528.7V521.9H643.8V525.1M478.3,519.7V515.6H603.7V521.9M279.1,519.1V512.4H541.0V515.6M713.7,566.5V532.2H734.4V566.5M775.8,566.5V546.9H796.5V566.5M755.1,566.5V539.5H786.1V546.9M724.0,532.2V521.3H770.6V539.5M858.5,566.5V538.7H879.2V566.5M837.8,566.5V536.8H868.9V538.7M817.2,566.5V535.4H853.4V536.8M899.9,566.5V538.7H920.6V566.5M941.3,566.5V538.7H962.0V566.5M910.3,538.7V526.5H951.7V538.7M835.3,535.4V509.6H931.0V526.5M747.3,521.3V502.8H883.1V509.6M982.7,566.5V541.4H1003.4V566.5M1065.5,566.5V557.2H1086.2V566.5M1044.8,566.5V540.3H1075.8V557.2M1024.1,566.5V534.1H1060.3V540.3M993.1,541.4V517.8H1042.2V534.1M1106.9,566.5V537.3H1127.6V566.5M1169.0,566.5V545.0H1189.7V566.5M1148.3,566.5V540.9H1179.3V545.0M1117.2,537.3V530.0H1163.8V540.9M1210.4,566.5V534.6H1231.0V566.5M1272.4,566.5V545.0H1293.1V566.5M1251.7,566.5V540.9H1282.8V545.0M1220.7,534.6V526.5H1267.3V540.9M1140.5,530.0V523.8H1244.0V526.5M1017.6,517.8V513.7H1192.2V523.8M815.2,502.8V500.1H1104.9V513.7M1334.5,566.5V553.9H1355.2V566.5M1313.8,566.5V542.2H1344.9V553.9M1417.3,566.5V553.9H1438.0V566.5M1396.6,566.5V550.4H1427.7V553.9M1375.9,566.5V544.4H1412.1V550.4M1329.4,542.2V530.8H1394.0V544.4M1458.7,566.5V530.8H1479.4V566.5M1541.5,566.5V551.7H1562.2V566.5M1520.8,566.5V549.0H1551.8V551.7M1500.1,566.5V538.7H1536.3V549.0M1624.3,566.5V550.9H1645.0V566.5M1582.9,566.5V542.2H1603.6V566.5M1593.2,542.2V536.3H1634.6V550.9M1518.2,538.7V522.7H1613.9V536.3M1469.0,530.8V513.2H1566.1V522.7M1361.7,530.8V508.8H1517.5V513.2M1686.3,566.5V540.7H1707.0V566.5M1748.4,566.5V544.9H1769.1V566.5M1727.7,566.5V539.1H1758.8V544.9M1696.7,540.7V532.0H1743.3V539.1M1665.6,566.5V518.0H1720.0V532.0M1810.5,566.5V550.8H1831.2V566.5M1789.8,566.5V535.6H1820.9V550.8M1851.9,566.5V554.8H1872.6V566.5M1893.3,566.5V551.7H1914.0V566.5M1862.2,554.8V539.1H1903.6V551.7M1805.3,535.6V524.8H1882.9V539.1M1934.7,566.5V546.6H1955.4V566.5M1996.8,566.5V551.3H2017.5V566.5M1976.1,566.5V548.9H2007.1V551.3M1945.0,546.6V541.4H1991.6V548.9M2058.8,566.5V558.8H2079.5V566.5M2100.2,566.5V551.7H2120.9V566.5M2069.2,558.8V548.9H2110.6V551.7M2038.2,566.5V541.4H2089.9V548.9M1968.3,541.4V526.0H2064.0V541.4M1844.1,524.8V511.9H2016.2V526.0M1692.8,518.0V509.5H1930.2V511.9M1439.6,508.8V493.0H1811.5V509.5M960.1,500.1V470.3H1625.5V493.0" fill="none" stroke="#000" stroke-width="2.0" stroke-linejoin="miter" stroke-linecap="square"/>
<circle cx="196.3" cy="572.1" r="5.4" fill="#F4A020"/>
<text transform="translate(204.5,585.3) rotate(-90)" text-anchor="end" font-size="22.5" letter-spacing="-1.25" fill="#F4A020" color="#F4A020">CEH–30.LE</text>
<circle cx="217.0" cy="572.1" r="5.4" fill="#F4A020"/>
<text transform="translate(225.2,585.3) rotate(-90)" text-anchor="end" font-size="22.5" letter-spacing="-1.25" fill="#F4A020" color="#F4A020">PAX–1.LE</text>
<circle cx="237.7" cy="572.1" r="5.4" fill="#F4A020"/>
<text transform="translate(245.9,585.3) rotate(-90)" text-anchor="end" font-size="22.5" letter-spacing="-1.25" fill="#F4A020" color="#F4A020">CEH–39.LE</text>
<circle cx="258.4" cy="572.1" r="5.4" fill="#F4A020"/>
<text transform="translate(266.6,585.3) rotate(-90)" text-anchor="end" font-size="22.5" letter-spacing="-1.25" fill="#F4A020" color="#F4A020">LIN–13.EM</text>
<circle cx="279.1" cy="572.1" r="5.4" fill="#3DAE48"/>
<text transform="translate(287.3,585.3) rotate(-90)" text-anchor="end" font-size="22.5" letter-spacing="-1.25" fill="#3DAE48" color="#3DAE48">NHR–237.EM</text>
<circle cx="299.8" cy="572.1" r="5.4" fill="#BDBDBD"/>
<text transform="translate(308.0,585.3) rotate(-90)" text-anchor="end" font-size="22.5" letter-spacing="-1.25" fill="#000000" color="#000000">F45C12.2.L2</text>
<circle cx="320.5" cy="572.1" r="5.4" fill="#BDBDBD"/>
<text transform="translate(328.7,585.3) rotate(-90)" text-anchor="end" font-size="22.5" letter-spacing="-1.25" fill="#000000" color="#000000">ZK546.5.L2</text>
<circle cx="341.2" cy="572.1" r="5.4" fill="#4A7FC6"/>
<text transform="translate(349.4,585.3) rotate(-90)" text-anchor="end" font-size="22.5" letter-spacing="-1.25" fill="#4A7FC6" color="#4A7FC6">NHR–237.L2</text>
<circle cx="361.9" cy="572.1" r="5.4" fill="#BDBDBD"/>
<text transform="translate(370.1,585.3) rotate(-90)" text-anchor="end" font-size="22.5" letter-spacing="-1.25" fill="#000000" color="#000000">NHR–77.L2</text>
<circle cx="382.6" cy="572.1" r="5.4" fill="#BDBDBD"/>
<text transform="translate(390.8,585.3) rotate(-90)" text-anchor="end" font-size="22.5" letter-spacing="-1.25" fill="#000000" color="#000000">LIN–15B.L4</text>
<circle cx="403.2" cy="572.1" r="5.4" fill="#4A7FC6"/>
<text transform="translate(411.4,585.3) rotate(-90)" text-anchor="end" font-size="22.5" letter-spacing="-1.25" fill="#4A7FC6" color="#4A7FC6">R02D3.7.L4</text>
<circle cx="423.9" cy="572.1" r="5.4" fill="#4A7FC6"/>
<text transform="translate(432.1,585.3) rotate(-90)" text-anchor="end" font-size="22.5" letter-spacing="-1.25" fill="#4A7FC6" color="#4A7FC6">R02D3.7.L2</text>
<circle cx="444.6" cy="572.1" r="5.4" fill="#BDBDBD"/>
<text transform="translate(452.8,585.3) rotate(-90)" text-anchor="end" font-size="22.5" letter-spacing="-1.25" fill="#000000" color="#000000">NHR–76.L1</text>
<text transform="translate(473.5,585.3) rotate(-90)" text-anchor="end" font-size="22.5" letter-spacing="-1.25" fill="#000000" color="#000000">C05D10.1.L4</text>
<circle cx="486.0" cy="572.1" r="5.4" fill="#BDBDBD"/>
<text transform="translate(494.2,585.3) rotate(-90)" text-anchor="end" font-size="22.5" letter-spacing="-1.25" fill="#000000" color="#000000">SKN–1.L2</text>
<text transform="translate(514.9,585.3) rotate(-90)" text-anchor="end" font-size="22.5" letter-spacing="-1.25" fill="#000000" color="#000000">ZIP–2.L4</text>
<circle cx="527.4" cy="572.1" r="5.4" fill="#E3262B"/>
<text transform="translate(535.6,585.3) rotate(-90)" text-anchor="end" font-size="22.5" letter-spacing="-1.25" fill="#E3262B" color="#E3262B">JUN–1.L4</text>
<text transform="translate(556.3,585.3) rotate(-90)" text-anchor="end" font-size="22.5" letter-spacing="-1.25" fill="#000000" color="#000000">EGL–5.L3</text>
<text transform="translate(577.0,585.3) rotate(-90)" text-anchor="end" font-size="22.5" letter-spacing="-1.25" fill="#000000" color="#000000">FKH–2.L3</text>
<text transform="translate(597.7,585.3) rotate(-90)" text-anchor="end" font-size="22.5" letter-spacing="-1.25" fill="#000000" color="#000000">SEA–2.L3</text>
<circle cx="610.2" cy="572.1" r="5.4" fill="#BDBDBD"/>
<text transform="translate(618.4,585.3) rotate(-90)" text-anchor="end" font-size="22.5" letter-spacing="-1.25" fill="#000000" color="#000000">SAX–3.L1</text>
<circle cx="630.9" cy="572.1" r="5.4" fill="#BDBDBD"/>
<text transform="translate(639.1,585.3) rotate(-90)" text-anchor="end" font-size="22.5" letter-spacing="-1.25" fill="#000000" color="#000000">NHR–237.L1</text>
<circle cx="651.6" cy="572.1" r="5.4" fill="#BDBDBD"/>
<text transform="translate(659.8,585.3) rotate(-90)" text-anchor="end" font-size="22.5" letter-spacing="-1.25" fill="#000000" color="#000000">NHR–11.L1</text>
<text transform="translate(680.5,585.3) rotate(-90)" text-anchor="end" font-size="22.5" letter-spacing="-1.25" fill="#000000" color="#000000">MEF–2.L1</text>
<circle cx="693.0" cy="572.1" r="5.4" fill="#BDBDBD"/>
<text transform="translate(701.2,585.3) rotate(-90)" text-anchor="end" font-size="22.5" letter-spacing="-1.25" fill="#000000" color="#000000">EGL–27.L1</text>
<circle cx="713.7" cy="572.1" r="5.4" fill="#4A7FC6"/>
<text transform="translate(721.9,585.3) rotate(-90)" text-anchor="end" font-size="22.5" letter-spacing="-1.25" fill="#4A7FC6" color="#4A7FC6">PQM–1.L4</text>
<circle cx="734.4" cy="572.1" r="5.4" fill="#BDBDBD"/>
<text transform="translate(742.6,585.3) rotate(-90)" text-anchor="end" font-size="22.5" letter-spacing="-1.25" fill="#000000" color="#000000">UNC–62.L4</text>
<circle cx="755.1" cy="572.1" r="5.4" fill="#BDBDBD"/>
<text transform="translate(763.3,585.3) rotate(-90)" text-anchor="end" font-size="22.5" letter-spacing="-1.25" fill="#000000" color="#000000">NHR–77.L4</text>
<circle cx="775.8" cy="572.1" r="5.4" fill="#4A7FC6"/>
<text transform="translate(784.0,585.3) rotate(-90)" text-anchor="end" font-size="22.5" letter-spacing="-1.25" fill="#4A7FC6" color="#4A7FC6">PQM–1.L3</text>
<circle cx="796.5" cy="572.1" r="5.4" fill="#E3262B"/>
<text transform="translate(804.7,585.3) rotate(-90)" text-anchor="end" font-size="22.5" letter-spacing="-1.25" fill="#E3262B" color="#E3262B">JUN–1.L3</text>
<circle cx="817.2" cy="572.1" r="5.4" fill="#4A7FC6"/>
<text transform="translate(825.4,585.3) rotate(-90)" text-anchor="end" font-size="22.5" letter-spacing="-1.25" fill="#4A7FC6" color="#4A7FC6">AMA–1.L3</text>
<circle cx="837.8" cy="572.1" r="5.4" fill="#4A7FC6"/>
<text transform="translate(846.0,585.3) rotate(-90)" text-anchor="end" font-size="22.5" letter-spacing="-1.25" fill="#4A7FC6" color="#4A7FC6">AMA–1.L4</text>
<circle cx="858.5" cy="572.1" r="5.4" fill="#4A7FC6"/>
<text transform="translate(866.7,585.3) rotate(-90)" text-anchor="end" font-size="22.5" letter-spacing="-1.25" fill="#4A7FC6" color="#4A7FC6">AMA–1.L1</text>
<circle cx="879.2" cy="572.1" r="5.4" fill="#4A7FC6"/>
<text transform="translate(887.4,585.3) rotate(-90)" text-anchor="end" font-size="22.5" letter-spacing="-1.25" fill="#4A7FC6" color="#4A7FC6">AMA–1.L2</text>
<circle cx="899.9" cy="572.1" r="5.4" fill="#4A7FC6"/>
<text transform="translate(908.1,585.3) rotate(-90)" text-anchor="end" font-size="22.5" letter-spacing="-1.25" fill="#4A7FC6" color="#4A7FC6">ZTF–4.L1</text>
<circle cx="920.6" cy="572.1" r="5.4" fill="#4A7FC6"/>
<text transform="translate(928.8,585.3) rotate(-90)" text-anchor="end" font-size="22.5" letter-spacing="-1.25" fill="#4A7FC6" color="#4A7FC6">ZTF–4.L2</text>
<circle cx="941.3" cy="572.1" r="5.4" fill="#4A7FC6"/>
<text transform="translate(949.5,585.3) rotate(-90)" text-anchor="end" font-size="22.5" letter-spacing="-1.25" fill="#4A7FC6" color="#4A7FC6">SAX–3.L3</text>
<circle cx="962.0" cy="572.1" r="5.4" fill="#4A7FC6"/>
<text transform="translate(970.2,585.3) rotate(-90)" text-anchor="end" font-size="22.5" letter-spacing="-1.25" fill="#4A7FC6" color="#4A7FC6">SAX–3.L2</text>
<circle cx="982.7" cy="572.1" r="5.4" fill="#7A58A8"/>
<text transform="translate(990.9,585.3) rotate(-90)" text-anchor="end" font-size="22.5" letter-spacing="-1.25" fill="#7A58A8" color="#7A58A8">ELT–3.L1</text>
<circle cx="1003.4" cy="572.1" r="5.4" fill="#9C88C8"/>
<text transform="translate(1011.6,585.3) rotate(-90)" text-anchor="end" font-size="22.5" letter-spacing="-1.25" fill="#9C88C8" color="#9C88C8">BLMP–1.L1</text>
<circle cx="1024.1" cy="572.1" r="5.4" fill="#BDBDBD"/>
<text transform="translate(1032.3,585.3) rotate(-90)" text-anchor="end" font-size="22.5" letter-spacing="-1.25" fill="#000000" color="#000000">LIN–39.L1</text>
<circle cx="1044.8" cy="572.1" r="5.4" fill="#BDBDBD"/>
<text transform="translate(1053.0,585.3) rotate(-90)" text-anchor="end" font-size="22.5" letter-spacing="-1.25" fill="#000000" color="#000000">GEI–11.L1</text>
<circle cx="1065.5" cy="572.1" r="5.4" fill="#BDBDBD"/>
<text transform="translate(1073.7,585.3) rotate(-90)" text-anchor="end" font-size="22.5" letter-spacing="-1.25" fill="#000000" color="#000000">LIN–15B.L1</text>
<text transform="translate(1094.4,585.3) rotate(-90)" text-anchor="end" font-size="22.5" letter-spacing="-1.25" fill="#000000" color="#000000">F16B12.6.L1</text>
<circle cx="1106.9" cy="572.1" r="5.4" fill="#BDBDBD"/>
<text transform="translate(1115.1,585.3) rotate(-90)" text-anchor="end" font-size="22.5" letter-spacing="-1.25" fill="#000000" color="#000000">SKN–1.L3</text>
<circle cx="1127.6" cy="572.1" r="5.4" fill="#BDBDBD"/>
<text transform="translate(1135.8,585.3) rotate(-90)" text-anchor="end" font-size="22.5" letter-spacing="-1.25" fill="#000000" color="#000000">PHA–4.L4</text>
<circle cx="1148.3" cy="572.1" r="5.4" fill="#E3262B"/>
<text transform="translate(1156.5,585.3) rotate(-90)" text-anchor="end" font-size="22.5" letter-spacing="-1.25" fill="#E3262B" color="#E3262B">JUN–1.L1</text>
<circle cx="1169.0" cy="572.1" r="5.4" fill="#BDBDBD"/>
<text transform="translate(1177.2,585.3) rotate(-90)" text-anchor="end" font-size="22.5" letter-spacing="-1.25" fill="#000000" color="#000000">NHR–77.L1</text>
<circle cx="1189.7" cy="572.1" r="5.4" fill="#E3262B"/>
<text transform="translate(1197.9,585.3) rotate(-90)" text-anchor="end" font-size="22.5" letter-spacing="-1.25" fill="#E3262B" color="#E3262B">FOS–1.L1</text>
<circle cx="1210.4" cy="572.1" r="5.4" fill="#BDBDBD"/>
<text transform="translate(1218.6,585.3) rotate(-90)" text-anchor="end" font-size="22.5" letter-spacing="-1.25" fill="#000000" color="#000000">CEH–38.L3</text>
<circle cx="1231.0" cy="572.1" r="5.4" fill="#BDBDBD"/>
<text transform="translate(1239.2,585.3) rotate(-90)" text-anchor="end" font-size="22.5" letter-spacing="-1.25" fill="#000000" color="#000000">R02D3.7.L3</text>
<text transform="translate(1259.9,585.3) rotate(-90)" text-anchor="end" font-size="22.5" letter-spacing="-1.25" fill="#000000" color="#000000">ZTF–7.L4</text>
<circle cx="1272.4" cy="572.1" r="5.4" fill="#BDBDBD"/>
<text transform="translate(1280.6,585.3) rotate(-90)" text-anchor="end" font-size="22.5" letter-spacing="-1.25" fill="#000000" color="#000000">LIN–13.L4</text>
<circle cx="1293.1" cy="572.1" r="5.4" fill="#BDBDBD"/>
<text transform="translate(1301.3,585.3) rotate(-90)" text-anchor="end" font-size="22.5" letter-spacing="-1.25" fill="#000000" color="#000000">NHR–6.L4</text>
<text transform="translate(1322.0,585.3) rotate(-90)" text-anchor="end" font-size="22.5" letter-spacing="-1.25" fill="#000000" color="#000000">C27D6.4.L2</text>
<circle cx="1334.5" cy="572.1" r="5.4" fill="#4A7FC6"/>
<text transform="translate(1342.7,585.3) rotate(-90)" text-anchor="end" font-size="22.5" letter-spacing="-1.25" fill="#4A7FC6" color="#4A7FC6">LSY–2.L4</text>
<circle cx="1355.2" cy="572.1" r="5.4" fill="#BDBDBD"/>
<text transform="translate(1363.4,585.3) rotate(-90)" text-anchor="end" font-size="22.5" letter-spacing="-1.25" fill="#000000" color="#000000">MEP–1.L4</text>
<circle cx="1375.9" cy="572.1" r="5.4" fill="#BDBDBD"/>
<text transform="translate(1384.1,585.3) rotate(-90)" text-anchor="end" font-size="22.5" letter-spacing="-1.25" fill="#000000" color="#000000">LIN–13.L2</text>
<text transform="translate(1404.8,585.3) rotate(-90)" text-anchor="end" font-size="22.5" letter-spacing="-1.25" fill="#000000" color="#000000">NHR–129.L2</text>
<text transform="translate(1425.5,585.3) rotate(-90)" text-anchor="end" font-size="22.5" letter-spacing="-1.25" fill="#000000" color="#000000">C34F6.9.L2</text>
<circle cx="1438.0" cy="572.1" r="5.4" fill="#4A7FC6"/>
<text transform="translate(1446.2,585.3) rotate(-90)" text-anchor="end" font-size="22.5" letter-spacing="-1.25" fill="#4A7FC6" color="#4A7FC6">LSY–2.L2</text>
<circle cx="1458.7" cy="572.1" r="5.4" fill="#BDBDBD"/>
<text transform="translate(1466.9,585.3) rotate(-90)" text-anchor="end" font-size="22.5" letter-spacing="-1.25" fill="#000000" color="#000000">NHR–11.L4</text>
<circle cx="1479.4" cy="572.1" r="5.4" fill="#BDBDBD"/>
<text transform="translate(1487.6,585.3) rotate(-90)" text-anchor="end" font-size="22.5" letter-spacing="-1.25" fill="#000000" color="#000000">SAX–3.L4</text>
<text transform="translate(1508.3,585.3) rotate(-90)" text-anchor="end" font-size="22.5" letter-spacing="-1.25" fill="#000000" color="#000000">NHR–21.L2</text>
<circle cx="1520.8" cy="572.1" r="5.4" fill="#4A7FC6"/>
<text transform="translate(1529.0,585.3) rotate(-90)" text-anchor="end" font-size="22.5" letter-spacing="-1.25" fill="#4A7FC6" color="#4A7FC6">NHR–25.L2</text>
<circle cx="1541.5" cy="572.1" r="5.4" fill="#4A7FC6"/>
<text transform="translate(1549.7,585.3) rotate(-90)" text-anchor="end" font-size="22.5" letter-spacing="-1.25" fill="#4A7FC6" color="#4A7FC6">NHR–25.L3</text>
<circle cx="1562.2" cy="572.1" r="5.4" fill="#BDBDBD"/>
<text transform="translate(1570.4,585.3) rotate(-90)" text-anchor="end" font-size="22.5" letter-spacing="-1.25" fill="#000000" color="#000000">NHR–23.L3</text>
<circle cx="1582.9" cy="572.1" r="5.4" fill="#BDBDBD"/>
<text transform="translate(1591.1,585.3) rotate(-90)" text-anchor="end" font-size="22.5" letter-spacing="-1.25" fill="#000000" color="#000000">PHA–4.L3</text>
<text transform="translate(1611.8,585.3) rotate(-90)" text-anchor="end" font-size="22.5" letter-spacing="-1.25" fill="#000000" color="#000000">C01B12.2.L2</text>
<circle cx="1624.3" cy="572.1" r="5.4" fill="#BDBDBD"/>
<text transform="translate(1632.5,585.3) rotate(-90)" text-anchor="end" font-size="22.5" letter-spacing="-1.25" fill="#000000" color="#000000">NHR–28.L4</text>
<circle cx="1645.0" cy="572.1" r="5.4" fill="#E3262B"/>
<text transform="translate(1653.2,585.3) rotate(-90)" text-anchor="end" font-size="22.5" letter-spacing="-1.25" fill="#E3262B" color="#E3262B">FOS–1.L2</text>
<circle cx="1665.6" cy="572.1" r="5.4" fill="#BDBDBD"/>
<text transform="translate(1673.8,585.3) rotate(-90)" text-anchor="end" font-size="22.5" letter-spacing="-1.25" fill="#000000" color="#000000">CES–1.LE</text>
<circle cx="1686.3" cy="572.1" r="5.4" fill="#BDBDBD"/>
<text transform="translate(1694.5,585.3) rotate(-90)" text-anchor="end" font-size="22.5" letter-spacing="-1.25" fill="#000000" color="#000000">NHR–6.L2</text>
<text transform="translate(1715.2,585.3) rotate(-90)" text-anchor="end" font-size="22.5" letter-spacing="-1.25" fill="#000000" color="#000000">SEM–4.L2</text>
<circle cx="1727.7" cy="572.1" r="5.4" fill="#BDBDBD"/>
<text transform="translate(1735.9,585.3) rotate(-90)" text-anchor="end" font-size="22.5" letter-spacing="-1.25" fill="#000000" color="#000000">MAB–5.L2</text>
<text transform="translate(1756.6,585.3) rotate(-90)" text-anchor="end" font-size="22.5" letter-spacing="-1.25" fill="#000000" color="#000000">LIN–11.L2</text>
<circle cx="1769.1" cy="572.1" r="5.4" fill="#BDBDBD"/>
<text transform="translate(1777.3,585.3) rotate(-90)" text-anchor="end" font-size="22.5" letter-spacing="-1.25" fill="#000000" color="#000000">GEI–11.L2</text>
<text transform="translate(1798.0,585.3) rotate(-90)" text-anchor="end" font-size="22.5" letter-spacing="-1.25" fill="#000000" color="#000000">UNC–55.L2</text>
<text transform="translate(1818.7,585.3) rotate(-90)" text-anchor="end" font-size="22.5" letter-spacing="-1.25" fill="#000000" color="#000000">PES–1.L4</text>
<circle cx="1831.2" cy="572.1" r="5.4" fill="#BDBDBD"/>
<text transform="translate(1839.4,585.3) rotate(-90)" text-anchor="end" font-size="22.5" letter-spacing="-1.25" fill="#000000" color="#000000">DPL–1.L4</text>
<circle cx="1851.9" cy="572.1" r="5.4" fill="#F4A020"/>
<text transform="translate(1860.1,585.3) rotate(-90)" text-anchor="end" font-size="22.5" letter-spacing="-1.25" fill="#F4A020" color="#F4A020">LSY–2.EM</text>
<circle cx="1872.6" cy="572.1" r="5.4" fill="#F4A020"/>
<text transform="translate(1880.8,585.3) rotate(-90)" text-anchor="end" font-size="22.5" letter-spacing="-1.25" fill="#F4A020" color="#F4A020">MEP–1.EM</text>
<circle cx="1893.3" cy="572.1" r="5.4" fill="#BDBDBD"/>
<text transform="translate(1901.5,585.3) rotate(-90)" text-anchor="end" font-size="22.5" letter-spacing="-1.25" fill="#000000" color="#000000">GEI–11.L3</text>
<circle cx="1914.0" cy="572.1" r="5.4" fill="#BDBDBD"/>
<text transform="translate(1922.2,585.3) rotate(-90)" text-anchor="end" font-size="22.5" letter-spacing="-1.25" fill="#000000" color="#000000">LIN–15B.L3</text>
<circle cx="1934.7" cy="572.1" r="5.4" fill="#BDBDBD"/>
<text transform="translate(1942.9,585.3) rotate(-90)" text-anchor="end" font-size="22.5" letter-spacing="-1.25" fill="#000000" color="#000000">LIN–13.L1</text>
<text transform="translate(1963.6,585.3) rotate(-90)" text-anchor="end" font-size="22.5" letter-spacing="-1.25" fill="#000000" color="#000000">UNC–130.L1</text>
<circle cx="1976.1" cy="572.1" r="5.4" fill="#BDBDBD"/>
<text transform="translate(1984.3,585.3) rotate(-90)" text-anchor="end" font-size="22.5" letter-spacing="-1.25" fill="#000000" color="#000000">DPL–1.L1</text>
<circle cx="1996.8" cy="572.1" r="5.4" fill="#BDBDBD"/>
<text transform="translate(2005.0,585.3) rotate(-90)" text-anchor="end" font-size="22.5" letter-spacing="-1.25" fill="#000000" color="#000000">SKN–1.L1</text>
<text transform="translate(2025.7,585.3) rotate(-90)" text-anchor="end" font-size="22.5" letter-spacing="-1.25" fill="#000000" color="#000000">C16A3.4.L1</text>
<text transform="translate(2046.4,585.3) rotate(-90)" text-anchor="end" font-size="22.5" letter-spacing="-1.25" fill="#000000" color="#000000">MDL–1.L1</text>
<text transform="translate(2067.0,585.3) rotate(-90)" text-anchor="end" font-size="22.5" letter-spacing="-1.25" fill="#000000" color="#000000">LIN–35.L1</text>
<text transform="translate(2087.7,585.3) rotate(-90)" text-anchor="end" font-size="22.5" letter-spacing="-1.25" fill="#000000" color="#000000">EFL–1.L1</text>
<circle cx="2100.2" cy="572.1" r="5.4" fill="#BDBDBD"/>
<text transform="translate(2108.4,585.3) rotate(-90)" text-anchor="end" font-size="22.5" letter-spacing="-1.25" fill="#000000" color="#000000">MEP–1.L1</text>
<circle cx="2120.9" cy="572.1" r="5.4" fill="#BDBDBD"/>
<text transform="translate(2129.1,585.3) rotate(-90)" text-anchor="end" font-size="22.5" letter-spacing="-1.25" fill="#000000" color="#000000">LSY–2.L1</text>
<path d="M410.0,512.4V505H220.2V496M1292.8,470.3V440.4" fill="none" stroke="#000" stroke-width="2.0" stroke-linecap="square"/>
<text x="226.5" y="488.5" font-size="24.5">(ii)</text>
<text x="1305" y="443" font-size="24.5">(i)</text>
<g shape-rendering="crispEdges"><rect x="108.20" y="946.20" width="18.28" height="18.28" fill="#f8f3b7"/><rect x="125.88" y="946.20" width="18.28" height="18.28" fill="#b42548"/><rect x="143.56" y="946.20" width="18.28" height="18.28" fill="#f89a56"/><rect x="161.24" y="946.20" width="18.28" height="18.28" fill="#f8f3b7"/><rect x="178.92" y="946.20" width="18.28" height="18.28" fill="#f8f3b7"/><rect x="196.60" y="946.20" width="18.28" height="18.28" fill="#fbd07d"/><rect x="214.28" y="946.20" width="18.28" height="18.28" fill="#f47845"/><rect x="231.96" y="946.20" width="18.28" height="18.28" fill="#f89a56"/><rect x="249.64" y="946.20" width="18.28" height="18.28" fill="#f89a56"/><rect x="267.32" y="946.20" width="18.28" height="18.28" fill="#f89a56"/><rect x="285.00" y="946.20" width="18.28" height="18.28" fill="#f89a56"/><rect x="302.68" y="946.20" width="18.28" height="18.28" fill="#f89a56"/><rect x="320.36" y="946.20" width="18.28" height="18.28" fill="#f89a56"/><rect x="338.04" y="946.20" width="18.28" height="18.28" fill="#f89a56"/><rect x="355.72" y="946.20" width="18.28" height="18.28" fill="#f8f3b7"/><rect x="373.40" y="946.20" width="18.28" height="18.28" fill="#fbd07d"/><rect x="391.08" y="946.20" width="18.28" height="18.28" fill="#f8f3b7"/><rect x="408.76" y="946.20" width="18.28" height="18.28" fill="#f8f3b7"/><rect x="426.44" y="946.20" width="18.28" height="18.28" fill="#f8f3b7"/><rect x="444.12" y="946.20" width="18.28" height="18.28" fill="#f8f3b7"/><rect x="461.80" y="946.20" width="18.28" height="18.28" fill="#f8f3b7"/><rect x="479.48" y="946.20" width="18.28" height="18.28" fill="#f8f3b7"/><rect x="497.16" y="946.20" width="18.28" height="18.28" fill="#f8f3b7"/><rect x="514.84" y="946.20" width="18.28" height="18.28" fill="#f8f3b7"/><rect x="532.52" y="946.20" width="18.28" height="18.28" fill="#f8f3b7"/><rect x="550.20" y="946.20" width="18.28" height="18.28" fill="#f8f3b7"/><rect x="567.88" y="946.20" width="18.28" height="18.28" fill="#f8f3b7"/><rect x="585.56" y="946.20" width="18.28" height="18.28" fill="#f8f3b7"/><rect x="603.24" y="946.20" width="18.28" height="18.28" fill="#f8f3b7"/><rect x="620.92" y="946.20" width="18.28" height="18.28" fill="#f8f3b7"/><rect x="638.60" y="946.20" width="18.28" height="18.28" fill="#f8f3b7"/><rect x="656.28" y="946.20" width="18.28" height="18.28" fill="#f8f3b7"/><rect x="673.96" y="946.20" width="18.28" height="18.28" fill="#f8f3b7"/><rect x="691.64" y="946.20" width="18.28" height="18.28" fill="#f8f3b7"/><rect x="709.32" y="946.20" width="18.28" height="18.28" fill="#f8f3b7"/><rect x="727.00" y="946.20" width="18.28" height="18.28" fill="#f8f3b7"/><rect x="744.68" y="946.20" width="18.28" height="18.28" fill="#f8f3b7"/><rect x="762.36" y="946.20" width="18.28" height="18.28" fill="#f8f3b7"/><rect x="780.04" y="946.20" width="18.28" height="18.28" fill="#f8f3b7"/><rect x="797.72" y="946.20" width="18.28" height="18.28" fill="#f8f3b7"/><rect x="125.88" y="963.88" width="18.28" height="18.28" fill="#f8f3b7"/><rect x="143.56" y="963.88" width="18.28" height="18.28" fill="#d1e89b"/><rect x="161.24" y="963.88" width="18.28" height="18.28" fill="#d1e89b"/><rect x="178.92" y="963.88" width="18.28" height="18.28" fill="#bfe19d"/><rect x="196.60" y="963.88" width="18.28" height="18.28" fill="#f2f2b1"/><rect x="214.28" y="963.88" width="18.28" height="18.28" fill="#ddeb9a"/><rect x="231.96" y="963.88" width="18.28" height="18.28" fill="#bfe19d"/><rect x="249.64" y="963.88" width="18.28" height="18.28" fill="#d1e89b"/><rect x="267.32" y="963.88" width="18.28" height="18.28" fill="#ddeb9a"/><rect x="285.00" y="963.88" width="18.28" height="18.28" fill="#e1ed9d"/><rect x="302.68" y="963.88" width="18.28" height="18.28" fill="#e9efa7"/><rect x="320.36" y="963.88" width="18.28" height="18.28" fill="#e9efa7"/><rect x="338.04" y="963.88" width="18.28" height="18.28" fill="#e9efa7"/><rect x="355.72" y="963.88" width="18.28" height="18.28" fill="#b7df9e"/><rect x="373.40" y="963.88" width="18.28" height="18.28" fill="#bfe19d"/><rect x="391.08" y="963.88" width="18.28" height="18.28" fill="#e1ed9d"/><rect x="408.76" y="963.88" width="18.28" height="18.28" fill="#ddeb9a"/><rect x="426.44" y="963.88" width="18.28" height="18.28" fill="#e4eea1"/><rect x="444.12" y="963.88" width="18.28" height="18.28" fill="#ddeb9a"/><rect x="461.80" y="963.88" width="18.28" height="18.28" fill="#ddeb9a"/><rect x="479.48" y="963.88" width="18.28" height="18.28" fill="#ddeb9a"/><rect x="497.16" y="963.88" width="18.28" height="18.28" fill="#e9efa7"/><rect x="514.84" y="963.88" width="18.28" height="18.28" fill="#e1ed9d"/><rect x="532.52" y="963.88" width="18.28" height="18.28" fill="#edf0ab"/><rect x="550.20" y="963.88" width="18.28" height="18.28" fill="#edf0ab"/><rect x="567.88" y="963.88" width="18.28" height="18.28" fill="#edf0ab"/><rect x="585.56" y="963.88" width="18.28" height="18.28" fill="#f2f2b1"/><rect x="603.24" y="963.88" width="18.28" height="18.28" fill="#e9efa7"/><rect x="620.92" y="963.88" width="18.28" height="18.28" fill="#e4eea1"/><rect x="638.60" y="963.88" width="18.28" height="18.28" fill="#ddeb9a"/><rect x="656.28" y="963.88" width="18.28" height="18.28" fill="#ddeb9a"/><rect x="673.96" y="963.88" width="18.28" height="18.28" fill="#e1ed9d"/><rect x="691.64" y="963.88" width="18.28" height="18.28" fill="#e1ed9d"/><rect x="709.32" y="963.88" width="18.28" height="18.28" fill="#e4eea1"/><rect x="727.00" y="963.88" width="18.28" height="18.28" fill="#ddeb9a"/><rect x="744.68" y="963.88" width="18.28" height="18.28" fill="#e4eea1"/><rect x="762.36" y="963.88" width="18.28" height="18.28" fill="#d1e89b"/><rect x="780.04" y="963.88" width="18.28" height="18.28" fill="#d1e89b"/><rect x="797.72" y="963.88" width="18.28" height="18.28" fill="#ddeb9a"/><rect x="143.56" y="981.56" width="18.28" height="18.28" fill="#f8f3b7"/><rect x="161.24" y="981.56" width="18.28" height="18.28" fill="#d1e89b"/><rect x="178.92" y="981.56" width="18.28" height="18.28" fill="#b7df9e"/><rect x="196.60" y="981.56" width="18.28" height="18.28" fill="#e4eea1"/><rect x="214.28" y="981.56" width="18.28" height="18.28" fill="#f2f2b1"/><rect x="231.96" y="981.56" width="18.28" height="18.28" fill="#e1ed9d"/><rect x="249.64" y="981.56" width="18.28" height="18.28" fill="#e1ed9d"/><rect x="267.32" y="981.56" width="18.28" height="18.28" fill="#ddeb9a"/><rect x="285.00" y="981.56" width="18.28" height="18.28" fill="#d1e89b"/><rect x="302.68" y="981.56" width="18.28" height="18.28" fill="#e4eea1"/><rect x="320.36" y="981.56" width="18.28" height="18.28" fill="#e4eea1"/><rect x="338.04" y="981.56" width="18.28" height="18.28" fill="#e4eea1"/><rect x="355.72" y="981.56" width="18.28" height="18.28" fill="#d1e89b"/><rect x="373.40" y="981.56" width="18.28" height="18.28" fill="#ddeb9a"/><rect x="391.08" y="981.56" width="18.28" height="18.28" fill="#e1ed9d"/><rect x="408.76" y="981.56" width="18.28" height="18.28" fill="#edf0ab"/><rect x="426.44" y="981.56" width="18.28" height="18.28" fill="#e4eea1"/><rect x="444.12" y="981.56" width="18.28" height="18.28" fill="#ddeb9a"/><rect x="461.80" y="981.56" width="18.28" height="18.28" fill="#ddeb9a"/><rect x="479.48" y="981.56" width="18.28" height="18.28" fill="#ddeb9a"/><rect x="497.16" y="981.56" width="18.28" height="18.28" fill="#e9efa7"/><rect x="514.84" y="981.56" width="18.28" height="18.28" fill="#e1ed9d"/><rect x="532.52" y="981.56" width="18.28" height="18.28" fill="#edf0ab"/><rect x="550.20" y="981.56" width="18.28" height="18.28" fill="#f2f2b1"/><rect x="567.88" y="981.56" width="18.28" height="18.28" fill="#edf0ab"/><rect x="585.56" y="981.56" width="18.28" height="18.28" fill="#edf0ab"/><rect x="603.24" y="981.56" width="18.28" height="18.28" fill="#e9efa7"/><rect x="620.92" y="981.56" width="18.28" height="18.28" fill="#e9efa7"/><rect x="638.60" y="981.56" width="18.28" height="18.28" fill="#ddeb9a"/><rect x="656.28" y="981.56" width="18.28" height="18.28" fill="#e4eea1"/><rect x="673.96" y="981.56" width="18.28" height="18.28" fill="#e1ed9d"/><rect x="691.64" y="981.56" width="18.28" height="18.28" fill="#ddeb9a"/><rect x="709.32" y="981.56" width="18.28" height="18.28" fill="#d1e89b"/><rect x="727.00" y="981.56" width="18.28" height="18.28" fill="#d1e89b"/><rect x="744.68" y="981.56" width="18.28" height="18.28" fill="#e1ed9d"/><rect x="762.36" y="981.56" width="18.28" height="18.28" fill="#d1e89b"/><rect x="780.04" y="981.56" width="18.28" height="18.28" fill="#d1e89b"/><rect x="797.72" y="981.56" width="18.28" height="18.28" fill="#ddeb9a"/><rect x="161.24" y="999.24" width="18.28" height="18.28" fill="#f8f3b7"/><rect x="178.92" y="999.24" width="18.28" height="18.28" fill="#bfe19d"/><rect x="196.60" y="999.24" width="18.28" height="18.28" fill="#f2f2b1"/><rect x="214.28" y="999.24" width="18.28" height="18.28" fill="#d1e89b"/><rect x="231.96" y="999.24" width="18.28" height="18.28" fill="#e1ed9d"/><rect x="249.64" y="999.24" width="18.28" height="18.28" fill="#ddeb9a"/><rect x="267.32" y="999.24" width="18.28" height="18.28" fill="#d1e89b"/><rect x="285.00" y="999.24" width="18.28" height="18.28" fill="#ddeb9a"/><rect x="302.68" y="999.24" width="18.28" height="18.28" fill="#e9efa7"/><rect x="320.36" y="999.24" width="18.28" height="18.28" fill="#e9efa7"/><rect x="338.04" y="999.24" width="18.28" height="18.28" fill="#e9efa7"/><rect x="355.72" y="999.24" width="18.28" height="18.28" fill="#f2f2b1"/><rect x="373.40" y="999.24" width="18.28" height="18.28" fill="#e4eea1"/><rect x="391.08" y="999.24" width="18.28" height="18.28" fill="#e4eea1"/><rect x="408.76" y="999.24" width="18.28" height="18.28" fill="#e9efa7"/><rect x="426.44" y="999.24" width="18.28" height="18.28" fill="#e9efa7"/><rect x="444.12" y="999.24" width="18.28" height="18.28" fill="#acdb9f"/><rect x="461.80" y="999.24" width="18.28" height="18.28" fill="#e1ed9d"/><rect x="479.48" y="999.24" width="18.28" height="18.28" fill="#f9eca9"/><rect x="497.16" y="999.24" width="18.28" height="18.28" fill="#e9efa7"/><rect x="514.84" y="999.24" width="18.28" height="18.28" fill="#edf0ab"/><rect x="532.52" y="999.24" width="18.28" height="18.28" fill="#edf0ab"/><rect x="550.20" y="999.24" width="18.28" height="18.28" fill="#edf0ab"/><rect x="567.88" y="999.24" width="18.28" height="18.28" fill="#edf0ab"/><rect x="585.56" y="999.24" width="18.28" height="18.28" fill="#ddeb9a"/><rect x="603.24" y="999.24" width="18.28" height="18.28" fill="#e9efa7"/><rect x="620.92" y="999.24" width="18.28" height="18.28" fill="#e4eea1"/><rect x="638.60" y="999.24" width="18.28" height="18.28" fill="#e1ed9d"/><rect x="656.28" y="999.24" width="18.28" height="18.28" fill="#e1ed9d"/><rect x="673.96" y="999.24" width="18.28" height="18.28" fill="#ddeb9a"/><rect x="691.64" y="999.24" width="18.28" height="18.28" fill="#e9efa7"/><rect x="709.32" y="999.24" width="18.28" height="18.28" fill="#e9efa7"/><rect x="727.00" y="999.24" width="18.28" height="18.28" fill="#e4eea1"/><rect x="744.68" y="999.24" width="18.28" height="18.28" fill="#e4eea1"/><rect x="762.36" y="999.24" width="18.28" height="18.28" fill="#e4eea1"/><rect x="780.04" y="999.24" width="18.28" height="18.28" fill="#ddeb9a"/><rect x="797.72" y="999.24" width="18.28" height="18.28" fill="#e1ed9d"/><rect x="178.92" y="1016.92" width="18.28" height="18.28" fill="#f8f3b7"/><rect x="196.60" y="1016.92" width="18.28" height="18.28" fill="#f2f2b1"/><rect x="214.28" y="1016.92" width="18.28" height="18.28" fill="#ddeb9a"/><rect x="231.96" y="1016.92" width="18.28" height="18.28" fill="#ddeb9a"/><rect x="249.64" y="1016.92" width="18.28" height="18.28" fill="#ddeb9a"/><rect x="267.32" y="1016.92" width="18.28" height="18.28" fill="#d1e89b"/><rect x="285.00" y="1016.92" width="18.28" height="18.28" fill="#ddeb9a"/><rect x="302.68" y="1016.92" width="18.28" height="18.28" fill="#e9efa7"/><rect x="320.36" y="1016.92" width="18.28" height="18.28" fill="#e9efa7"/><rect x="338.04" y="1016.92" width="18.28" height="18.28" fill="#e9efa7"/><rect x="355.72" y="1016.92" width="18.28" height="18.28" fill="#acdb9f"/><rect x="373.40" y="1016.92" width="18.28" height="18.28" fill="#acdb9f"/><rect x="391.08" y="1016.92" width="18.28" height="18.28" fill="#e1ed9d"/><rect x="408.76" y="1016.92" width="18.28" height="18.28" fill="#e1ed9d"/><rect x="426.44" y="1016.92" width="18.28" height="18.28" fill="#e4eea1"/><rect x="444.12" y="1016.92" width="18.28" height="18.28" fill="#e1ed9d"/><rect x="461.80" y="1016.92" width="18.28" height="18.28" fill="#c6e49d"/><rect x="479.48" y="1016.92" width="18.28" height="18.28" fill="#f2f2b1"/><rect x="497.16" y="1016.92" width="18.28" height="18.28" fill="#e9efa7"/><rect x="514.84" y="1016.92" width="18.28" height="18.28" fill="#e1ed9d"/><rect x="532.52" y="1016.92" width="18.28" height="18.28" fill="#edf0ab"/><rect x="550.20" y="1016.92" width="18.28" height="18.28" fill="#f2f2b1"/><rect x="567.88" y="1016.92" width="18.28" height="18.28" fill="#e1ed9d"/><rect x="585.56" y="1016.92" width="18.28" height="18.28" fill="#f2f2b1"/><rect x="603.24" y="1016.92" width="18.28" height="18.28" fill="#e9efa7"/><rect x="620.92" y="1016.92" width="18.28" height="18.28" fill="#e9efa7"/><rect x="638.60" y="1016.92" width="18.28" height="18.28" fill="#e1ed9d"/><rect x="656.28" y="1016.92" width="18.28" height="18.28" fill="#ddeb9a"/><rect x="673.96" y="1016.92" width="18.28" height="18.28" fill="#c6e49d"/><rect x="691.64" y="1016.92" width="18.28" height="18.28" fill="#e9efa7"/><rect x="709.32" y="1016.92" width="18.28" height="18.28" fill="#e9efa7"/><rect x="727.00" y="1016.92" width="18.28" height="18.28" fill="#c6e49d"/><rect x="744.68" y="1016.92" width="18.28" height="18.28" fill="#c6e49d"/><rect x="762.36" y="1016.92" width="18.28" height="18.28" fill="#c6e49d"/><rect x="780.04" y="1016.92" width="18.28" height="18.28" fill="#d1e89b"/><rect x="797.72" y="1016.92" width="18.28" height="18.28" fill="#b7df9e"/><rect x="196.60" y="1034.60" width="18.28" height="18.28" fill="#f8f3b7"/><rect x="214.28" y="1034.60" width="18.28" height="18.28" fill="#edf0ab"/><rect x="231.96" y="1034.60" width="18.28" height="18.28" fill="#fbd986"/><rect x="249.64" y="1034.60" width="18.28" height="18.28" fill="#f8f4b9"/><rect x="267.32" y="1034.60" width="18.28" height="18.28" fill="#f7f4b7"/><rect x="285.00" y="1034.60" width="18.28" height="18.28" fill="#f9eca9"/><rect x="302.68" y="1034.60" width="18.28" height="18.28" fill="#f8f4b9"/><rect x="320.36" y="1034.60" width="18.28" height="18.28" fill="#f8f4b9"/><rect x="338.04" y="1034.60" width="18.28" height="18.28" fill="#f8f4b9"/><rect x="355.72" y="1034.60" width="18.28" height="18.28" fill="#f8f4b9"/><rect x="373.40" y="1034.60" width="18.28" height="18.28" fill="#f8f4b9"/><rect x="391.08" y="1034.60" width="18.28" height="18.28" fill="#d9ea9b"/><rect x="408.76" y="1034.60" width="18.28" height="18.28" fill="#e9efa6"/><rect x="426.44" y="1034.60" width="18.28" height="18.28" fill="#e9efa6"/><rect x="444.12" y="1034.60" width="18.28" height="18.28" fill="#f7f4b7"/><rect x="461.80" y="1034.60" width="18.28" height="18.28" fill="#e6eea3"/><rect x="479.48" y="1034.60" width="18.28" height="18.28" fill="#e6eea3"/><rect x="497.16" y="1034.60" width="18.28" height="18.28" fill="#f7f4b7"/><rect x="514.84" y="1034.60" width="18.28" height="18.28" fill="#f9eca9"/><rect x="532.52" y="1034.60" width="18.28" height="18.28" fill="#f7f4b7"/><rect x="550.20" y="1034.60" width="18.28" height="18.28" fill="#f7f4b7"/><rect x="567.88" y="1034.60" width="18.28" height="18.28" fill="#f7f4b7"/><rect x="585.56" y="1034.60" width="18.28" height="18.28" fill="#f7f4b7"/><rect x="603.24" y="1034.60" width="18.28" height="18.28" fill="#f9f0b0"/><rect x="620.92" y="1034.60" width="18.28" height="18.28" fill="#f9f0b0"/><rect x="638.60" y="1034.60" width="18.28" height="18.28" fill="#f3f2b3"/><rect x="656.28" y="1034.60" width="18.28" height="18.28" fill="#e6eea3"/><rect x="673.96" y="1034.60" width="18.28" height="18.28" fill="#f8f4b9"/><rect x="691.64" y="1034.60" width="18.28" height="18.28" fill="#f9eca9"/><rect x="709.32" y="1034.60" width="18.28" height="18.28" fill="#f7f4b7"/><rect x="727.00" y="1034.60" width="18.28" height="18.28" fill="#fae79d"/><rect x="744.68" y="1034.60" width="18.28" height="18.28" fill="#fae79d"/><rect x="762.36" y="1034.60" width="18.28" height="18.28" fill="#fbcd7b"/><rect x="780.04" y="1034.60" width="18.28" height="18.28" fill="#fbcd7b"/><rect x="797.72" y="1034.60" width="18.28" height="18.28" fill="#f9eca9"/><rect x="214.28" y="1052.28" width="18.28" height="18.28" fill="#f8f3b7"/><rect x="231.96" y="1052.28" width="18.28" height="18.28" fill="#f9f0b0"/><rect x="249.64" y="1052.28" width="18.28" height="18.28" fill="#f9f0b0"/><rect x="267.32" y="1052.28" width="18.28" height="18.28" fill="#f8f4b9"/><rect x="285.00" y="1052.28" width="18.28" height="18.28" fill="#f9f0b0"/><rect x="302.68" y="1052.28" width="18.28" height="18.28" fill="#f8f4b9"/><rect x="320.36" y="1052.28" width="18.28" height="18.28" fill="#f8f4b9"/><rect x="338.04" y="1052.28" width="18.28" height="18.28" fill="#f8f4b9"/><rect x="355.72" y="1052.28" width="18.28" height="18.28" fill="#f8f4b9"/><rect x="373.40" y="1052.28" width="18.28" height="18.28" fill="#f8f4b9"/><rect x="391.08" y="1052.28" width="18.28" height="18.28" fill="#fae79d"/><rect x="408.76" y="1052.28" width="18.28" height="18.28" fill="#f7f4b7"/><rect x="426.44" y="1052.28" width="18.28" height="18.28" fill="#eff1ae"/><rect x="444.12" y="1052.28" width="18.28" height="18.28" fill="#f9eca9"/><rect x="461.80" y="1052.28" width="18.28" height="18.28" fill="#f8f4b9"/><rect x="479.48" y="1052.28" width="18.28" height="18.28" fill="#f8f4b9"/><rect x="497.16" y="1052.28" width="18.28" height="18.28" fill="#edf0ab"/><rect x="514.84" y="1052.28" width="18.28" height="18.28" fill="#eff1ae"/><rect x="532.52" y="1052.28" width="18.28" height="18.28" fill="#edf0ab"/><rect x="550.20" y="1052.28" width="18.28" height="18.28" fill="#f8f4b9"/><rect x="567.88" y="1052.28" width="18.28" height="18.28" fill="#f8f4b9"/><rect x="585.56" y="1052.28" width="18.28" height="18.28" fill="#f8f4b9"/><rect x="603.24" y="1052.28" width="18.28" height="18.28" fill="#d9ea9b"/><rect x="620.92" y="1052.28" width="18.28" height="18.28" fill="#d9ea9b"/><rect x="638.60" y="1052.28" width="18.28" height="18.28" fill="#f8f4b9"/><rect x="656.28" y="1052.28" width="18.28" height="18.28" fill="#f3f2b3"/><rect x="673.96" y="1052.28" width="18.28" height="18.28" fill="#f3f2b3"/><rect x="691.64" y="1052.28" width="18.28" height="18.28" fill="#f8f4b9"/><rect x="709.32" y="1052.28" width="18.28" height="18.28" fill="#f9f0b0"/><rect x="727.00" y="1052.28" width="18.28" height="18.28" fill="#f8f4b9"/><rect x="744.68" y="1052.28" width="18.28" height="18.28" fill="#fae79d"/><rect x="762.36" y="1052.28" width="18.28" height="18.28" fill="#e9efa6"/><rect x="780.04" y="1052.28" width="18.28" height="18.28" fill="#f9eca9"/><rect x="797.72" y="1052.28" width="18.28" height="18.28" fill="#f3f2b3"/><rect x="231.96" y="1069.96" width="18.28" height="18.28" fill="#f8f3b7"/><rect x="249.64" y="1069.96" width="18.28" height="18.28" fill="#f8f4b9"/><rect x="267.32" y="1069.96" width="18.28" height="18.28" fill="#f8f4b9"/><rect x="285.00" y="1069.96" width="18.28" height="18.28" fill="#eff1ae"/><rect x="302.68" y="1069.96" width="18.28" height="18.28" fill="#f8f4b9"/><rect x="320.36" y="1069.96" width="18.28" height="18.28" fill="#eff1ae"/><rect x="338.04" y="1069.96" width="18.28" height="18.28" fill="#f8f4b9"/><rect x="355.72" y="1069.96" width="18.28" height="18.28" fill="#f8f4b9"/><rect x="373.40" y="1069.96" width="18.28" height="18.28" fill="#e6eea3"/><rect x="391.08" y="1069.96" width="18.28" height="18.28" fill="#f8f4b9"/><rect x="408.76" y="1069.96" width="18.28" height="18.28" fill="#f8f4b9"/><rect x="426.44" y="1069.96" width="18.28" height="18.28" fill="#f8f4b9"/><rect x="444.12" y="1069.96" width="18.28" height="18.28" fill="#f8f4b9"/><rect x="461.80" y="1069.96" width="18.28" height="18.28" fill="#f8f4b9"/><rect x="479.48" y="1069.96" width="18.28" height="18.28" fill="#f3f2b3"/><rect x="497.16" y="1069.96" width="18.28" height="18.28" fill="#f8f4b9"/><rect x="514.84" y="1069.96" width="18.28" height="18.28" fill="#f3f2b3"/><rect x="532.52" y="1069.96" width="18.28" height="18.28" fill="#f8f4b9"/><rect x="550.20" y="1069.96" width="18.28" height="18.28" fill="#f8f4b9"/><rect x="567.88" y="1069.96" width="18.28" height="18.28" fill="#eff1ae"/><rect x="585.56" y="1069.96" width="18.28" height="18.28" fill="#f9eca9"/><rect x="603.24" y="1069.96" width="18.28" height="18.28" fill="#f8f4b9"/><rect x="620.92" y="1069.96" width="18.28" height="18.28" fill="#f8f4b9"/><rect x="638.60" y="1069.96" width="18.28" height="18.28" fill="#edf0ab"/><rect x="656.28" y="1069.96" width="18.28" height="18.28" fill="#f8f4b9"/><rect x="673.96" y="1069.96" width="18.28" height="18.28" fill="#eff1ae"/><rect x="691.64" y="1069.96" width="18.28" height="18.28" fill="#f8f4b9"/><rect x="709.32" y="1069.96" width="18.28" height="18.28" fill="#f8f4b9"/><rect x="727.00" y="1069.96" width="18.28" height="18.28" fill="#f8f4b9"/><rect x="744.68" y="1069.96" width="18.28" height="18.28" fill="#f7f4b7"/><rect x="762.36" y="1069.96" width="18.28" height="18.28" fill="#f3f2b3"/><rect x="780.04" y="1069.96" width="18.28" height="18.28" fill="#f8f4b9"/><rect x="797.72" y="1069.96" width="18.28" height="18.28" fill="#f3f2b3"/><rect x="249.64" y="1087.64" width="18.28" height="18.28" fill="#f8f3b7"/><rect x="267.32" y="1087.64" width="18.28" height="18.28" fill="#f8f4b9"/><rect x="285.00" y="1087.64" width="18.28" height="18.28" fill="#f8f4b9"/><rect x="302.68" y="1087.64" width="18.28" height="18.28" fill="#f9f0b0"/><rect x="320.36" y="1087.64" width="18.28" height="18.28" fill="#f8f4b9"/><rect x="338.04" y="1087.64" width="18.28" height="18.28" fill="#f8f4b9"/><rect x="355.72" y="1087.64" width="18.28" height="18.28" fill="#f8f4b9"/><rect x="373.40" y="1087.64" width="18.28" height="18.28" fill="#e6eea3"/><rect x="391.08" y="1087.64" width="18.28" height="18.28" fill="#f8f4b9"/><rect x="408.76" y="1087.64" width="18.28" height="18.28" fill="#f8f4b9"/><rect x="426.44" y="1087.64" width="18.28" height="18.28" fill="#f8f4b9"/><rect x="444.12" y="1087.64" width="18.28" height="18.28" fill="#f8f4b9"/><rect x="461.80" y="1087.64" width="18.28" height="18.28" fill="#f3f2b3"/><rect x="479.48" y="1087.64" width="18.28" height="18.28" fill="#edf0ab"/><rect x="497.16" y="1087.64" width="18.28" height="18.28" fill="#f8f4b9"/><rect x="514.84" y="1087.64" width="18.28" height="18.28" fill="#f3f2b3"/><rect x="532.52" y="1087.64" width="18.28" height="18.28" fill="#f3f2b3"/><rect x="550.20" y="1087.64" width="18.28" height="18.28" fill="#f3f2b3"/><rect x="567.88" y="1087.64" width="18.28" height="18.28" fill="#eff1ae"/><rect x="585.56" y="1087.64" width="18.28" height="18.28" fill="#f9eca9"/><rect x="603.24" y="1087.64" width="18.28" height="18.28" fill="#f8f4b9"/><rect x="620.92" y="1087.64" width="18.28" height="18.28" fill="#f8f4b9"/><rect x="638.60" y="1087.64" width="18.28" height="18.28" fill="#f3f2b3"/><rect x="656.28" y="1087.64" width="18.28" height="18.28" fill="#e4eea0"/><rect x="673.96" y="1087.64" width="18.28" height="18.28" fill="#f8f4b9"/><rect x="691.64" y="1087.64" width="18.28" height="18.28" fill="#f8f4b9"/><rect x="709.32" y="1087.64" width="18.28" height="18.28" fill="#f8f4b9"/><rect x="727.00" y="1087.64" width="18.28" height="18.28" fill="#f8f4b9"/><rect x="744.68" y="1087.64" width="18.28" height="18.28" fill="#f3f2b3"/><rect x="762.36" y="1087.64" width="18.28" height="18.28" fill="#f3f2b3"/><rect x="780.04" y="1087.64" width="18.28" height="18.28" fill="#f7f4b7"/><rect x="797.72" y="1087.64" width="18.28" height="18.28" fill="#f3f2b3"/><rect x="267.32" y="1105.32" width="18.28" height="18.28" fill="#f8f3b7"/><rect x="285.00" y="1105.32" width="18.28" height="18.28" fill="#f9f0b0"/><rect x="302.68" y="1105.32" width="18.28" height="18.28" fill="#f9f0b0"/><rect x="320.36" y="1105.32" width="18.28" height="18.28" fill="#f8f4b9"/><rect x="338.04" y="1105.32" width="18.28" height="18.28" fill="#f8f4b9"/><rect x="355.72" y="1105.32" width="18.28" height="18.28" fill="#f8f4b9"/><rect x="373.40" y="1105.32" width="18.28" height="18.28" fill="#e6eea3"/><rect x="391.08" y="1105.32" width="18.28" height="18.28" fill="#edf0ab"/><rect x="408.76" y="1105.32" width="18.28" height="18.28" fill="#f8f4b9"/><rect x="426.44" y="1105.32" width="18.28" height="18.28" fill="#f8f4b9"/><rect x="444.12" y="1105.32" width="18.28" height="18.28" fill="#f3f2b3"/><rect x="461.80" y="1105.32" width="18.28" height="18.28" fill="#f8f4b9"/><rect x="479.48" y="1105.32" width="18.28" height="18.28" fill="#e9efa6"/><rect x="497.16" y="1105.32" width="18.28" height="18.28" fill="#f3f2b3"/><rect x="514.84" y="1105.32" width="18.28" height="18.28" fill="#f7f4b7"/><rect x="532.52" y="1105.32" width="18.28" height="18.28" fill="#f8f4b9"/><rect x="550.20" y="1105.32" width="18.28" height="18.28" fill="#f7f4b7"/><rect x="567.88" y="1105.32" width="18.28" height="18.28" fill="#eff1ae"/><rect x="585.56" y="1105.32" width="18.28" height="18.28" fill="#f8f4b9"/><rect x="603.24" y="1105.32" width="18.28" height="18.28" fill="#e9efa6"/><rect x="620.92" y="1105.32" width="18.28" height="18.28" fill="#edf0ab"/><rect x="638.60" y="1105.32" width="18.28" height="18.28" fill="#eff1ae"/><rect x="656.28" y="1105.32" width="18.28" height="18.28" fill="#f3f2b3"/><rect x="673.96" y="1105.32" width="18.28" height="18.28" fill="#f7f4b7"/><rect x="691.64" y="1105.32" width="18.28" height="18.28" fill="#f8f4b9"/><rect x="709.32" y="1105.32" width="18.28" height="18.28" fill="#f8f4b9"/><rect x="727.00" y="1105.32" width="18.28" height="18.28" fill="#f8f4b9"/><rect x="744.68" y="1105.32" width="18.28" height="18.28" fill="#e9efa6"/><rect x="762.36" y="1105.32" width="18.28" height="18.28" fill="#edf0ab"/><rect x="780.04" y="1105.32" width="18.28" height="18.28" fill="#eff1ae"/><rect x="797.72" y="1105.32" width="18.28" height="18.28" fill="#f3f2b3"/><rect x="285.00" y="1123.00" width="18.28" height="18.28" fill="#f8f3b7"/><rect x="302.68" y="1123.00" width="18.28" height="18.28" fill="#f8f4b9"/><rect x="320.36" y="1123.00" width="18.28" height="18.28" fill="#f8f4b9"/><rect x="338.04" y="1123.00" width="18.28" height="18.28" fill="#f8f4b9"/><rect x="355.72" y="1123.00" width="18.28" height="18.28" fill="#f8f4b9"/><rect x="373.40" y="1123.00" width="18.28" height="18.28" fill="#f8f4b9"/><rect x="391.08" y="1123.00" width="18.28" height="18.28" fill="#f8f4b9"/><rect x="408.76" y="1123.00" width="18.28" height="18.28" fill="#f8f4b9"/><rect x="426.44" y="1123.00" width="18.28" height="18.28" fill="#f8f4b9"/><rect x="444.12" y="1123.00" width="18.28" height="18.28" fill="#f8f4b9"/><rect x="461.80" y="1123.00" width="18.28" height="18.28" fill="#f8f4b9"/><rect x="479.48" y="1123.00" width="18.28" height="18.28" fill="#f8f4b9"/><rect x="497.16" y="1123.00" width="18.28" height="18.28" fill="#f8f4b9"/><rect x="514.84" y="1123.00" width="18.28" height="18.28" fill="#edf0ab"/><rect x="532.52" y="1123.00" width="18.28" height="18.28" fill="#f8f4b9"/><rect x="550.20" y="1123.00" width="18.28" height="18.28" fill="#f8f4b9"/><rect x="567.88" y="1123.00" width="18.28" height="18.28" fill="#eff1ae"/><rect x="585.56" y="1123.00" width="18.28" height="18.28" fill="#f7f4b7"/><rect x="603.24" y="1123.00" width="18.28" height="18.28" fill="#f3f2b3"/><rect x="620.92" y="1123.00" width="18.28" height="18.28" fill="#f3f2b3"/><rect x="638.60" y="1123.00" width="18.28" height="18.28" fill="#eff1ae"/><rect x="656.28" y="1123.00" width="18.28" height="18.28" fill="#eff1ae"/><rect x="673.96" y="1123.00" width="18.28" height="18.28" fill="#f9eca9"/><rect x="691.64" y="1123.00" width="18.28" height="18.28" fill="#f3f2b3"/><rect x="709.32" y="1123.00" width="18.28" height="18.28" fill="#f3f2b3"/><rect x="727.00" y="1123.00" width="18.28" height="18.28" fill="#f7f4b7"/><rect x="744.68" y="1123.00" width="18.28" height="18.28" fill="#f3f2b3"/><rect x="762.36" y="1123.00" width="18.28" height="18.28" fill="#f3f2b3"/><rect x="780.04" y="1123.00" width="18.28" height="18.28" fill="#f3f2b3"/><rect x="797.72" y="1123.00" width="18.28" height="18.28" fill="#f3f2b3"/><rect x="302.68" y="1140.68" width="18.28" height="18.28" fill="#f8f3b7"/><rect x="320.36" y="1140.68" width="18.28" height="18.28" fill="#f8f4b9"/><rect x="338.04" y="1140.68" width="18.28" height="18.28" fill="#f8f4b9"/><rect x="355.72" y="1140.68" width="18.28" height="18.28" fill="#f8f4b9"/><rect x="373.40" y="1140.68" width="18.28" height="18.28" fill="#f8f4b9"/><rect x="391.08" y="1140.68" width="18.28" height="18.28" fill="#f8f4b9"/><rect x="408.76" y="1140.68" width="18.28" height="18.28" fill="#f8f4b9"/><rect x="426.44" y="1140.68" width="18.28" height="18.28" fill="#f8f4b9"/><rect x="444.12" y="1140.68" width="18.28" height="18.28" fill="#f3f2b3"/><rect x="461.80" y="1140.68" width="18.28" height="18.28" fill="#f9eca9"/><rect x="479.48" y="1140.68" width="18.28" height="18.28" fill="#f3f2b3"/><rect x="497.16" y="1140.68" width="18.28" height="18.28" fill="#f8f4b9"/><rect x="514.84" y="1140.68" width="18.28" height="18.28" fill="#f9f0b0"/><rect x="532.52" y="1140.68" width="18.28" height="18.28" fill="#f8f4b9"/><rect x="550.20" y="1140.68" width="18.28" height="18.28" fill="#f8f4b9"/><rect x="567.88" y="1140.68" width="18.28" height="18.28" fill="#f3f2b3"/><rect x="585.56" y="1140.68" width="18.28" height="18.28" fill="#f3f2b3"/><rect x="603.24" y="1140.68" width="18.28" height="18.28" fill="#f3f2b3"/><rect x="620.92" y="1140.68" width="18.28" height="18.28" fill="#f3f2b3"/><rect x="638.60" y="1140.68" width="18.28" height="18.28" fill="#f3f2b3"/><rect x="656.28" y="1140.68" width="18.28" height="18.28" fill="#f3f2b3"/><rect x="673.96" y="1140.68" width="18.28" height="18.28" fill="#f8f4b9"/><rect x="691.64" y="1140.68" width="18.28" height="18.28" fill="#f8f4b9"/><rect x="709.32" y="1140.68" width="18.28" height="18.28" fill="#eff1ae"/><rect x="727.00" y="1140.68" width="18.28" height="18.28" fill="#f3f2b3"/><rect x="744.68" y="1140.68" width="18.28" height="18.28" fill="#f3f2b3"/><rect x="762.36" y="1140.68" width="18.28" height="18.28" fill="#f8f4b9"/><rect x="780.04" y="1140.68" width="18.28" height="18.28" fill="#f7f4b7"/><rect x="797.72" y="1140.68" width="18.28" height="18.28" fill="#eff1ae"/><rect x="320.36" y="1158.36" width="18.28" height="18.28" fill="#f8f3b7"/><rect x="338.04" y="1158.36" width="18.28" height="18.28" fill="#f7f4b7"/><rect x="355.72" y="1158.36" width="18.28" height="18.28" fill="#e9efa6"/><rect x="373.40" y="1158.36" width="18.28" height="18.28" fill="#f7f4b7"/><rect x="391.08" y="1158.36" width="18.28" height="18.28" fill="#f7f4b7"/><rect x="408.76" y="1158.36" width="18.28" height="18.28" fill="#f7f4b7"/><rect x="426.44" y="1158.36" width="18.28" height="18.28" fill="#f7f4b7"/><rect x="444.12" y="1158.36" width="18.28" height="18.28" fill="#f8f4b9"/><rect x="461.80" y="1158.36" width="18.28" height="18.28" fill="#f3f2b3"/><rect x="479.48" y="1158.36" width="18.28" height="18.28" fill="#edf0ab"/><rect x="497.16" y="1158.36" width="18.28" height="18.28" fill="#f7f4b7"/><rect x="514.84" y="1158.36" width="18.28" height="18.28" fill="#f3f2b3"/><rect x="532.52" y="1158.36" width="18.28" height="18.28" fill="#f3f2b3"/><rect x="550.20" y="1158.36" width="18.28" height="18.28" fill="#f3f2b3"/><rect x="567.88" y="1158.36" width="18.28" height="18.28" fill="#f3f2b3"/><rect x="585.56" y="1158.36" width="18.28" height="18.28" fill="#f3f2b3"/><rect x="603.24" y="1158.36" width="18.28" height="18.28" fill="#f3f2b3"/><rect x="620.92" y="1158.36" width="18.28" height="18.28" fill="#f3f2b3"/><rect x="638.60" y="1158.36" width="18.28" height="18.28" fill="#f3f2b3"/><rect x="656.28" y="1158.36" width="18.28" height="18.28" fill="#f3f2b3"/><rect x="673.96" y="1158.36" width="18.28" height="18.28" fill="#f7f4b7"/><rect x="691.64" y="1158.36" width="18.28" height="18.28" fill="#f3f2b3"/><rect x="709.32" y="1158.36" width="18.28" height="18.28" fill="#f3f2b3"/><rect x="727.00" y="1158.36" width="18.28" height="18.28" fill="#f3f2b3"/><rect x="744.68" y="1158.36" width="18.28" height="18.28" fill="#f3f2b3"/><rect x="762.36" y="1158.36" width="18.28" height="18.28" fill="#f3f2b3"/><rect x="780.04" y="1158.36" width="18.28" height="18.28" fill="#f3f2b3"/><rect x="797.72" y="1158.36" width="18.28" height="18.28" fill="#f3f2b3"/><rect x="338.04" y="1176.04" width="18.28" height="18.28" fill="#f8f3b7"/><rect x="355.72" y="1176.04" width="18.28" height="18.28" fill="#eff1ae"/><rect x="373.40" y="1176.04" width="18.28" height="18.28" fill="#eff1ae"/><rect x="391.08" y="1176.04" width="18.28" height="18.28" fill="#f7f4b7"/><rect x="408.76" y="1176.04" width="18.28" height="18.28" fill="#f7f4b7"/><rect x="426.44" y="1176.04" width="18.28" height="18.28" fill="#eff1ae"/><rect x="444.12" y="1176.04" width="18.28" height="18.28" fill="#f3f2b3"/><rect x="461.80" y="1176.04" width="18.28" height="18.28" fill="#f3f2b3"/><rect x="479.48" y="1176.04" width="18.28" height="18.28" fill="#f3f2b3"/><rect x="497.16" y="1176.04" width="18.28" height="18.28" fill="#f3f2b3"/><rect x="514.84" y="1176.04" width="18.28" height="18.28" fill="#f3f2b3"/><rect x="532.52" y="1176.04" width="18.28" height="18.28" fill="#f3f2b3"/><rect x="550.20" y="1176.04" width="18.28" height="18.28" fill="#f3f2b3"/><rect x="567.88" y="1176.04" width="18.28" height="18.28" fill="#edf0ab"/><rect x="585.56" y="1176.04" width="18.28" height="18.28" fill="#f3f2b3"/><rect x="603.24" y="1176.04" width="18.28" height="18.28" fill="#f3f2b3"/><rect x="620.92" y="1176.04" width="18.28" height="18.28" fill="#edf0ab"/><rect x="638.60" y="1176.04" width="18.28" height="18.28" fill="#f7f4b7"/><rect x="656.28" y="1176.04" width="18.28" height="18.28" fill="#f3f2b3"/><rect x="673.96" y="1176.04" width="18.28" height="18.28" fill="#f3f2b3"/><rect x="691.64" y="1176.04" width="18.28" height="18.28" fill="#f3f2b3"/><rect x="709.32" y="1176.04" width="18.28" height="18.28" fill="#f3f2b3"/><rect x="727.00" y="1176.04" width="18.28" height="18.28" fill="#f3f2b3"/><rect x="744.68" y="1176.04" width="18.28" height="18.28" fill="#f3f2b3"/><rect x="762.36" y="1176.04" width="18.28" height="18.28" fill="#f3f2b3"/><rect x="780.04" y="1176.04" width="18.28" height="18.28" fill="#f3f2b3"/><rect x="797.72" y="1176.04" width="18.28" height="18.28" fill="#f3f2b3"/><rect x="355.72" y="1193.72" width="18.28" height="18.28" fill="#f8f3b7"/><rect x="373.40" y="1193.72" width="18.28" height="18.28" fill="#f8f4b9"/><rect x="391.08" y="1193.72" width="18.28" height="18.28" fill="#f7f4b7"/><rect x="408.76" y="1193.72" width="18.28" height="18.28" fill="#f8f4b9"/><rect x="426.44" y="1193.72" width="18.28" height="18.28" fill="#f7f4b7"/><rect x="444.12" y="1193.72" width="18.28" height="18.28" fill="#f3f2b3"/><rect x="461.80" y="1193.72" width="18.28" height="18.28" fill="#f8f4b9"/><rect x="479.48" y="1193.72" width="18.28" height="18.28" fill="#f3f2b3"/><rect x="497.16" y="1193.72" width="18.28" height="18.28" fill="#f8f4b9"/><rect x="514.84" y="1193.72" width="18.28" height="18.28" fill="#f8f4b9"/><rect x="532.52" y="1193.72" width="18.28" height="18.28" fill="#f8f4b9"/><rect x="550.20" y="1193.72" width="18.28" height="18.28" fill="#f7f4b7"/><rect x="567.88" y="1193.72" width="18.28" height="18.28" fill="#f8f4b9"/><rect x="585.56" y="1193.72" width="18.28" height="18.28" fill="#e0ec9c"/><rect x="603.24" y="1193.72" width="18.28" height="18.28" fill="#eff1ae"/><rect x="620.92" y="1193.72" width="18.28" height="18.28" fill="#edf0ab"/><rect x="638.60" y="1193.72" width="18.28" height="18.28" fill="#d9ea9b"/><rect x="656.28" y="1193.72" width="18.28" height="18.28" fill="#edf0ab"/><rect x="673.96" y="1193.72" width="18.28" height="18.28" fill="#eff1ae"/><rect x="691.64" y="1193.72" width="18.28" height="18.28" fill="#eff1ae"/><rect x="709.32" y="1193.72" width="18.28" height="18.28" fill="#f7f4b7"/><rect x="727.00" y="1193.72" width="18.28" height="18.28" fill="#eff1ae"/><rect x="744.68" y="1193.72" width="18.28" height="18.28" fill="#eff1ae"/><rect x="762.36" y="1193.72" width="18.28" height="18.28" fill="#f7f4b7"/><rect x="780.04" y="1193.72" width="18.28" height="18.28" fill="#f3f2b3"/><rect x="797.72" y="1193.72" width="18.28" height="18.28" fill="#f3f2b3"/><rect x="373.40" y="1211.40" width="18.28" height="18.28" fill="#f8f3b7"/><rect x="391.08" y="1211.40" width="18.28" height="18.28" fill="#f8f4b9"/><rect x="408.76" y="1211.40" width="18.28" height="18.28" fill="#f7f4b7"/><rect x="426.44" y="1211.40" width="18.28" height="18.28" fill="#f8f4b9"/><rect x="444.12" y="1211.40" width="18.28" height="18.28" fill="#edf0ab"/><rect x="461.80" y="1211.40" width="18.28" height="18.28" fill="#f9f0b0"/><rect x="479.48" y="1211.40" width="18.28" height="18.28" fill="#f8f4b9"/><rect x="497.16" y="1211.40" width="18.28" height="18.28" fill="#f9eca9"/><rect x="514.84" y="1211.40" width="18.28" height="18.28" fill="#f9eca9"/><rect x="532.52" y="1211.40" width="18.28" height="18.28" fill="#f9eca9"/><rect x="550.20" y="1211.40" width="18.28" height="18.28" fill="#eff1ae"/><rect x="567.88" y="1211.40" width="18.28" height="18.28" fill="#f9eca9"/><rect x="585.56" y="1211.40" width="18.28" height="18.28" fill="#eff1ae"/><rect x="603.24" y="1211.40" width="18.28" height="18.28" fill="#eff1ae"/><rect x="620.92" y="1211.40" width="18.28" height="18.28" fill="#edf0ab"/><rect x="638.60" y="1211.40" width="18.28" height="18.28" fill="#e9efa6"/><rect x="656.28" y="1211.40" width="18.28" height="18.28" fill="#e9efa6"/><rect x="673.96" y="1211.40" width="18.28" height="18.28" fill="#f8f4b9"/><rect x="691.64" y="1211.40" width="18.28" height="18.28" fill="#f8f4b9"/><rect x="709.32" y="1211.40" width="18.28" height="18.28" fill="#eff1ae"/><rect x="727.00" y="1211.40" width="18.28" height="18.28" fill="#f8f4b9"/><rect x="744.68" y="1211.40" width="18.28" height="18.28" fill="#d9ea9b"/><rect x="762.36" y="1211.40" width="18.28" height="18.28" fill="#edf0ab"/><rect x="780.04" y="1211.40" width="18.28" height="18.28" fill="#edf0ab"/><rect x="797.72" y="1211.40" width="18.28" height="18.28" fill="#e6eea3"/><rect x="391.08" y="1229.08" width="18.28" height="18.28" fill="#f8f3b7"/><rect x="408.76" y="1229.08" width="18.28" height="18.28" fill="#f8f4b9"/><rect x="426.44" y="1229.08" width="18.28" height="18.28" fill="#f8f4b9"/><rect x="444.12" y="1229.08" width="18.28" height="18.28" fill="#edf0ab"/><rect x="461.80" y="1229.08" width="18.28" height="18.28" fill="#f3f2b3"/><rect x="479.48" y="1229.08" width="18.28" height="18.28" fill="#f7f4b7"/><rect x="497.16" y="1229.08" width="18.28" height="18.28" fill="#f3f2b3"/><rect x="514.84" y="1229.08" width="18.28" height="18.28" fill="#f3f2b3"/><rect x="532.52" y="1229.08" width="18.28" height="18.28" fill="#f3f2b3"/><rect x="550.20" y="1229.08" width="18.28" height="18.28" fill="#f3f2b3"/><rect x="567.88" y="1229.08" width="18.28" height="18.28" fill="#f3f2b3"/><rect x="585.56" y="1229.08" width="18.28" height="18.28" fill="#f3f2b3"/><rect x="603.24" y="1229.08" width="18.28" height="18.28" fill="#f3f2b3"/><rect x="620.92" y="1229.08" width="18.28" height="18.28" fill="#f3f2b3"/><rect x="638.60" y="1229.08" width="18.28" height="18.28" fill="#f3f2b3"/><rect x="656.28" y="1229.08" width="18.28" height="18.28" fill="#f9f0b0"/><rect x="673.96" y="1229.08" width="18.28" height="18.28" fill="#f9f0b0"/><rect x="691.64" y="1229.08" width="18.28" height="18.28" fill="#f9f0b0"/><rect x="709.32" y="1229.08" width="18.28" height="18.28" fill="#f9f0b0"/><rect x="727.00" y="1229.08" width="18.28" height="18.28" fill="#f8f4b9"/><rect x="744.68" y="1229.08" width="18.28" height="18.28" fill="#f7f4b7"/><rect x="762.36" y="1229.08" width="18.28" height="18.28" fill="#f3f2b3"/><rect x="780.04" y="1229.08" width="18.28" height="18.28" fill="#f3f2b3"/><rect x="797.72" y="1229.08" width="18.28" height="18.28" fill="#eff1ae"/><rect x="408.76" y="1246.76" width="18.28" height="18.28" fill="#f8f3b7"/><rect x="426.44" y="1246.76" width="18.28" height="18.28" fill="#f7f4b7"/><rect x="444.12" y="1246.76" width="18.28" height="18.28" fill="#f3f2b3"/><rect x="461.80" y="1246.76" width="18.28" height="18.28" fill="#f3f2b3"/><rect x="479.48" y="1246.76" width="18.28" height="18.28" fill="#f3f2b3"/><rect x="497.16" y="1246.76" width="18.28" height="18.28" fill="#f7f4b7"/><rect x="514.84" y="1246.76" width="18.28" height="18.28" fill="#eff1ae"/><rect x="532.52" y="1246.76" width="18.28" height="18.28" fill="#f7f4b7"/><rect x="550.20" y="1246.76" width="18.28" height="18.28" fill="#f8f4b9"/><rect x="567.88" y="1246.76" width="18.28" height="18.28" fill="#f7f4b7"/><rect x="585.56" y="1246.76" width="18.28" height="18.28" fill="#f8f4b9"/><rect x="603.24" y="1246.76" width="18.28" height="18.28" fill="#f7f4b7"/><rect x="620.92" y="1246.76" width="18.28" height="18.28" fill="#f7f4b7"/><rect x="638.60" y="1246.76" width="18.28" height="18.28" fill="#f3f2b3"/><rect x="656.28" y="1246.76" width="18.28" height="18.28" fill="#edf0ab"/><rect x="673.96" y="1246.76" width="18.28" height="18.28" fill="#f8f4b9"/><rect x="691.64" y="1246.76" width="18.28" height="18.28" fill="#f9f0b0"/><rect x="709.32" y="1246.76" width="18.28" height="18.28" fill="#f8f4b9"/><rect x="727.00" y="1246.76" width="18.28" height="18.28" fill="#f3f2b3"/><rect x="744.68" y="1246.76" width="18.28" height="18.28" fill="#f7f4b7"/><rect x="762.36" y="1246.76" width="18.28" height="18.28" fill="#f8f4b9"/><rect x="780.04" y="1246.76" width="18.28" height="18.28" fill="#f7f4b7"/><rect x="797.72" y="1246.76" width="18.28" height="18.28" fill="#f3f2b3"/><rect x="426.44" y="1264.44" width="18.28" height="18.28" fill="#f8f3b7"/><rect x="444.12" y="1264.44" width="18.28" height="18.28" fill="#f7f4b7"/><rect x="461.80" y="1264.44" width="18.28" height="18.28" fill="#f3f2b3"/><rect x="479.48" y="1264.44" width="18.28" height="18.28" fill="#f3f2b3"/><rect x="497.16" y="1264.44" width="18.28" height="18.28" fill="#f8f4b9"/><rect x="514.84" y="1264.44" width="18.28" height="18.28" fill="#f7f4b7"/><rect x="532.52" y="1264.44" width="18.28" height="18.28" fill="#f7f4b7"/><rect x="550.20" y="1264.44" width="18.28" height="18.28" fill="#f3f2b3"/><rect x="567.88" y="1264.44" width="18.28" height="18.28" fill="#f7f4b7"/><rect x="585.56" y="1264.44" width="18.28" height="18.28" fill="#f3f2b3"/><rect x="603.24" y="1264.44" width="18.28" height="18.28" fill="#edf0ab"/><rect x="620.92" y="1264.44" width="18.28" height="18.28" fill="#edf0ab"/><rect x="638.60" y="1264.44" width="18.28" height="18.28" fill="#edf0ab"/><rect x="656.28" y="1264.44" width="18.28" height="18.28" fill="#f8f4b9"/><rect x="673.96" y="1264.44" width="18.28" height="18.28" fill="#f8f4b9"/><rect x="691.64" y="1264.44" width="18.28" height="18.28" fill="#f8f4b9"/><rect x="709.32" y="1264.44" width="18.28" height="18.28" fill="#f8f4b9"/><rect x="727.00" y="1264.44" width="18.28" height="18.28" fill="#f7f4b7"/><rect x="744.68" y="1264.44" width="18.28" height="18.28" fill="#f3f2b3"/><rect x="762.36" y="1264.44" width="18.28" height="18.28" fill="#f7f4b7"/><rect x="780.04" y="1264.44" width="18.28" height="18.28" fill="#f3f2b3"/><rect x="797.72" y="1264.44" width="18.28" height="18.28" fill="#edf0ab"/><rect x="444.12" y="1282.12" width="18.28" height="18.28" fill="#f8f3b7"/><rect x="461.80" y="1282.12" width="18.28" height="18.28" fill="#eff1ae"/><rect x="479.48" y="1282.12" width="18.28" height="18.28" fill="#eff1ae"/><rect x="497.16" y="1282.12" width="18.28" height="18.28" fill="#f3f2b3"/><rect x="514.84" y="1282.12" width="18.28" height="18.28" fill="#f3f2b3"/><rect x="532.52" y="1282.12" width="18.28" height="18.28" fill="#f8f4b9"/><rect x="550.20" y="1282.12" width="18.28" height="18.28" fill="#f3f2b3"/><rect x="567.88" y="1282.12" width="18.28" height="18.28" fill="#f8f4b9"/><rect x="585.56" y="1282.12" width="18.28" height="18.28" fill="#e9efa6"/><rect x="603.24" y="1282.12" width="18.28" height="18.28" fill="#e9efa6"/><rect x="620.92" y="1282.12" width="18.28" height="18.28" fill="#e9efa6"/><rect x="638.60" y="1282.12" width="18.28" height="18.28" fill="#e9efa6"/><rect x="656.28" y="1282.12" width="18.28" height="18.28" fill="#f8f4b9"/><rect x="673.96" y="1282.12" width="18.28" height="18.28" fill="#f9f0b0"/><rect x="691.64" y="1282.12" width="18.28" height="18.28" fill="#f7f4b7"/><rect x="709.32" y="1282.12" width="18.28" height="18.28" fill="#f9f0b0"/><rect x="727.00" y="1282.12" width="18.28" height="18.28" fill="#f3f2b3"/><rect x="744.68" y="1282.12" width="18.28" height="18.28" fill="#eff1ae"/><rect x="762.36" y="1282.12" width="18.28" height="18.28" fill="#f7f4b7"/><rect x="780.04" y="1282.12" width="18.28" height="18.28" fill="#f7f4b7"/><rect x="797.72" y="1282.12" width="18.28" height="18.28" fill="#f3f2b3"/><rect x="461.80" y="1299.80" width="18.28" height="18.28" fill="#f8f3b7"/><rect x="479.48" y="1299.80" width="18.28" height="18.28" fill="#edf0ab"/><rect x="497.16" y="1299.80" width="18.28" height="18.28" fill="#f7f4b7"/><rect x="514.84" y="1299.80" width="18.28" height="18.28" fill="#f7f4b7"/><rect x="532.52" y="1299.80" width="18.28" height="18.28" fill="#f7f4b7"/><rect x="550.20" y="1299.80" width="18.28" height="18.28" fill="#f7f4b7"/><rect x="567.88" y="1299.80" width="18.28" height="18.28" fill="#f7f4b7"/><rect x="585.56" y="1299.80" width="18.28" height="18.28" fill="#eff1ae"/><rect x="603.24" y="1299.80" width="18.28" height="18.28" fill="#eff1ae"/><rect x="620.92" y="1299.80" width="18.28" height="18.28" fill="#edf0ab"/><rect x="638.60" y="1299.80" width="18.28" height="18.28" fill="#e9efa6"/><rect x="656.28" y="1299.80" width="18.28" height="18.28" fill="#edf0ab"/><rect x="673.96" y="1299.80" width="18.28" height="18.28" fill="#f7f4b7"/><rect x="691.64" y="1299.80" width="18.28" height="18.28" fill="#eff1ae"/><rect x="709.32" y="1299.80" width="18.28" height="18.28" fill="#f7f4b7"/><rect x="727.00" y="1299.80" width="18.28" height="18.28" fill="#f8f2b4"/><rect x="744.68" y="1299.80" width="18.28" height="18.28" fill="#eff1ae"/><rect x="762.36" y="1299.80" width="18.28" height="18.28" fill="#edf0ab"/><rect x="780.04" y="1299.80" width="18.28" height="18.28" fill="#eff1ae"/><rect x="797.72" y="1299.80" width="18.28" height="18.28" fill="#eff1ae"/><rect x="479.48" y="1317.48" width="18.28" height="18.28" fill="#f8f3b7"/><rect x="497.16" y="1317.48" width="18.28" height="18.28" fill="#f9eca9"/><rect x="514.84" y="1317.48" width="18.28" height="18.28" fill="#f9f0b0"/><rect x="532.52" y="1317.48" width="18.28" height="18.28" fill="#f7f4b7"/><rect x="550.20" y="1317.48" width="18.28" height="18.28" fill="#f7f4b7"/><rect x="567.88" y="1317.48" width="18.28" height="18.28" fill="#f7f4b7"/><rect x="585.56" y="1317.48" width="18.28" height="18.28" fill="#f7f4b7"/><rect x="603.24" y="1317.48" width="18.28" height="18.28" fill="#e9efa6"/><rect x="620.92" y="1317.48" width="18.28" height="18.28" fill="#f3f2b3"/><rect x="638.60" y="1317.48" width="18.28" height="18.28" fill="#eff1ae"/><rect x="656.28" y="1317.48" width="18.28" height="18.28" fill="#e9efa6"/><rect x="673.96" y="1317.48" width="18.28" height="18.28" fill="#f7f4b7"/><rect x="691.64" y="1317.48" width="18.28" height="18.28" fill="#f3f2b3"/><rect x="709.32" y="1317.48" width="18.28" height="18.28" fill="#f9f0b0"/><rect x="727.00" y="1317.48" width="18.28" height="18.28" fill="#f7f4b7"/><rect x="744.68" y="1317.48" width="18.28" height="18.28" fill="#e9efa6"/><rect x="762.36" y="1317.48" width="18.28" height="18.28" fill="#f3f2b3"/><rect x="780.04" y="1317.48" width="18.28" height="18.28" fill="#f3f2b3"/><rect x="797.72" y="1317.48" width="18.28" height="18.28" fill="#eff1ae"/><rect x="497.16" y="1335.16" width="18.28" height="18.28" fill="#f8f3b7"/><rect x="514.84" y="1335.16" width="18.28" height="18.28" fill="#fae79d"/><rect x="532.52" y="1335.16" width="18.28" height="18.28" fill="#eff1ae"/><rect x="550.20" y="1335.16" width="18.28" height="18.28" fill="#f7f4b7"/><rect x="567.88" y="1335.16" width="18.28" height="18.28" fill="#f9f0b0"/><rect x="585.56" y="1335.16" width="18.28" height="18.28" fill="#f9f0b0"/><rect x="603.24" y="1335.16" width="18.28" height="18.28" fill="#f7f4b7"/><rect x="620.92" y="1335.16" width="18.28" height="18.28" fill="#eff1ae"/><rect x="638.60" y="1335.16" width="18.28" height="18.28" fill="#e9efa6"/><rect x="656.28" y="1335.16" width="18.28" height="18.28" fill="#f7f4b7"/><rect x="673.96" y="1335.16" width="18.28" height="18.28" fill="#f7f4b7"/><rect x="691.64" y="1335.16" width="18.28" height="18.28" fill="#e9efa6"/><rect x="709.32" y="1335.16" width="18.28" height="18.28" fill="#f7f4b7"/><rect x="727.00" y="1335.16" width="18.28" height="18.28" fill="#eff1ae"/><rect x="744.68" y="1335.16" width="18.28" height="18.28" fill="#f3f2b3"/><rect x="762.36" y="1335.16" width="18.28" height="18.28" fill="#f3f2b3"/><rect x="780.04" y="1335.16" width="18.28" height="18.28" fill="#f3f2b3"/><rect x="797.72" y="1335.16" width="18.28" height="18.28" fill="#eff1ae"/><rect x="514.84" y="1352.84" width="18.28" height="18.28" fill="#f8f3b7"/><rect x="532.52" y="1352.84" width="18.28" height="18.28" fill="#f3f2b3"/><rect x="550.20" y="1352.84" width="18.28" height="18.28" fill="#eff1ae"/><rect x="567.88" y="1352.84" width="18.28" height="18.28" fill="#eff1ae"/><rect x="585.56" y="1352.84" width="18.28" height="18.28" fill="#edf0ab"/><rect x="603.24" y="1352.84" width="18.28" height="18.28" fill="#e9efa6"/><rect x="620.92" y="1352.84" width="18.28" height="18.28" fill="#e6eea3"/><rect x="638.60" y="1352.84" width="18.28" height="18.28" fill="#e4eea0"/><rect x="656.28" y="1352.84" width="18.28" height="18.28" fill="#edf0ab"/><rect x="673.96" y="1352.84" width="18.28" height="18.28" fill="#eff1ae"/><rect x="691.64" y="1352.84" width="18.28" height="18.28" fill="#f3f2b3"/><rect x="709.32" y="1352.84" width="18.28" height="18.28" fill="#f7f4b7"/><rect x="727.00" y="1352.84" width="18.28" height="18.28" fill="#f3f2b3"/><rect x="744.68" y="1352.84" width="18.28" height="18.28" fill="#eff1ae"/><rect x="762.36" y="1352.84" width="18.28" height="18.28" fill="#e9efa6"/><rect x="780.04" y="1352.84" width="18.28" height="18.28" fill="#eff1ae"/><rect x="797.72" y="1352.84" width="18.28" height="18.28" fill="#eff1ae"/><rect x="532.52" y="1370.52" width="18.28" height="18.28" fill="#f8f3b7"/><rect x="550.20" y="1370.52" width="18.28" height="18.28" fill="#e4eea0"/><rect x="567.88" y="1370.52" width="18.28" height="18.28" fill="#f7f4b7"/><rect x="585.56" y="1370.52" width="18.28" height="18.28" fill="#eff1ae"/><rect x="603.24" y="1370.52" width="18.28" height="18.28" fill="#edf0ab"/><rect x="620.92" y="1370.52" width="18.28" height="18.28" fill="#e9efa6"/><rect x="638.60" y="1370.52" width="18.28" height="18.28" fill="#eff1ae"/><rect x="656.28" y="1370.52" width="18.28" height="18.28" fill="#f7f4b7"/><rect x="673.96" y="1370.52" width="18.28" height="18.28" fill="#f7f4b7"/><rect x="691.64" y="1370.52" width="18.28" height="18.28" fill="#e9efa6"/><rect x="709.32" y="1370.52" width="18.28" height="18.28" fill="#f7f4b7"/><rect x="727.00" y="1370.52" width="18.28" height="18.28" fill="#eff1ae"/><rect x="744.68" y="1370.52" width="18.28" height="18.28" fill="#eff1ae"/><rect x="762.36" y="1370.52" width="18.28" height="18.28" fill="#f7f4b7"/><rect x="780.04" y="1370.52" width="18.28" height="18.28" fill="#eff1ae"/><rect x="797.72" y="1370.52" width="18.28" height="18.28" fill="#eff1ae"/><rect x="550.20" y="1388.20" width="18.28" height="18.28" fill="#f8f3b7"/><rect x="567.88" y="1388.20" width="18.28" height="18.28" fill="#f7f4b7"/><rect x="585.56" y="1388.20" width="18.28" height="18.28" fill="#edf0ab"/><rect x="603.24" y="1388.20" width="18.28" height="18.28" fill="#edf0ab"/><rect x="620.92" y="1388.20" width="18.28" height="18.28" fill="#edf0ab"/><rect x="638.60" y="1388.20" width="18.28" height="18.28" fill="#edf0ab"/><rect x="656.28" y="1388.20" width="18.28" height="18.28" fill="#f7f4b7"/><rect x="673.96" y="1388.20" width="18.28" height="18.28" fill="#f7f4b7"/><rect x="691.64" y="1388.20" width="18.28" height="18.28" fill="#edf0ab"/><rect x="709.32" y="1388.20" width="18.28" height="18.28" fill="#f7f4b7"/><rect x="727.00" y="1388.20" width="18.28" height="18.28" fill="#eff1ae"/><rect x="744.68" y="1388.20" width="18.28" height="18.28" fill="#eff1ae"/><rect x="762.36" y="1388.20" width="18.28" height="18.28" fill="#edf0ab"/><rect x="780.04" y="1388.20" width="18.28" height="18.28" fill="#eff1ae"/><rect x="797.72" y="1388.20" width="18.28" height="18.28" fill="#eff1ae"/><rect x="567.88" y="1405.88" width="18.28" height="18.28" fill="#f8f3b7"/><rect x="585.56" y="1405.88" width="18.28" height="18.28" fill="#e9efa6"/><rect x="603.24" y="1405.88" width="18.28" height="18.28" fill="#eff1ae"/><rect x="620.92" y="1405.88" width="18.28" height="18.28" fill="#edf0ab"/><rect x="638.60" y="1405.88" width="18.28" height="18.28" fill="#edf0ab"/><rect x="656.28" y="1405.88" width="18.28" height="18.28" fill="#e9efa6"/><rect x="673.96" y="1405.88" width="18.28" height="18.28" fill="#e9efa6"/><rect x="691.64" y="1405.88" width="18.28" height="18.28" fill="#e9efa6"/><rect x="709.32" y="1405.88" width="18.28" height="18.28" fill="#f3f2b3"/><rect x="727.00" y="1405.88" width="18.28" height="18.28" fill="#eff1ae"/><rect x="744.68" y="1405.88" width="18.28" height="18.28" fill="#eff1ae"/><rect x="762.36" y="1405.88" width="18.28" height="18.28" fill="#e9efa6"/><rect x="780.04" y="1405.88" width="18.28" height="18.28" fill="#edf0ab"/><rect x="797.72" y="1405.88" width="18.28" height="18.28" fill="#eff1ae"/><rect x="585.56" y="1423.56" width="18.28" height="18.28" fill="#f8f3b7"/><rect x="603.24" y="1423.56" width="18.28" height="18.28" fill="#eff1ae"/><rect x="620.92" y="1423.56" width="18.28" height="18.28" fill="#f3f2b3"/><rect x="638.60" y="1423.56" width="18.28" height="18.28" fill="#f3f2b3"/><rect x="656.28" y="1423.56" width="18.28" height="18.28" fill="#f3f2b3"/><rect x="673.96" y="1423.56" width="18.28" height="18.28" fill="#f3f2b3"/><rect x="691.64" y="1423.56" width="18.28" height="18.28" fill="#eff1ae"/><rect x="709.32" y="1423.56" width="18.28" height="18.28" fill="#f9eca9"/><rect x="727.00" y="1423.56" width="18.28" height="18.28" fill="#eff1ae"/><rect x="744.68" y="1423.56" width="18.28" height="18.28" fill="#eff1ae"/><rect x="762.36" y="1423.56" width="18.28" height="18.28" fill="#eff1ae"/><rect x="780.04" y="1423.56" width="18.28" height="18.28" fill="#f9eca9"/><rect x="797.72" y="1423.56" width="18.28" height="18.28" fill="#eff1ae"/><rect x="603.24" y="1441.24" width="18.28" height="18.28" fill="#f8f3b7"/><rect x="620.92" y="1441.24" width="18.28" height="18.28" fill="#e9efa6"/><rect x="638.60" y="1441.24" width="18.28" height="18.28" fill="#eff1ae"/><rect x="656.28" y="1441.24" width="18.28" height="18.28" fill="#f3f2b3"/><rect x="673.96" y="1441.24" width="18.28" height="18.28" fill="#e6eea3"/><rect x="691.64" y="1441.24" width="18.28" height="18.28" fill="#f3f2b3"/><rect x="709.32" y="1441.24" width="18.28" height="18.28" fill="#f7f4b7"/><rect x="727.00" y="1441.24" width="18.28" height="18.28" fill="#f7f4b7"/><rect x="744.68" y="1441.24" width="18.28" height="18.28" fill="#f3f2b3"/><rect x="762.36" y="1441.24" width="18.28" height="18.28" fill="#f3f2b3"/><rect x="780.04" y="1441.24" width="18.28" height="18.28" fill="#eff1ae"/><rect x="797.72" y="1441.24" width="18.28" height="18.28" fill="#eff1ae"/><rect x="620.92" y="1458.92" width="18.28" height="18.28" fill="#f8f3b7"/><rect x="638.60" y="1458.92" width="18.28" height="18.28" fill="#e9efa6"/><rect x="656.28" y="1458.92" width="18.28" height="18.28" fill="#edf0ab"/><rect x="673.96" y="1458.92" width="18.28" height="18.28" fill="#eff1ae"/><rect x="691.64" y="1458.92" width="18.28" height="18.28" fill="#f3f2b3"/><rect x="709.32" y="1458.92" width="18.28" height="18.28" fill="#eff1ae"/><rect x="727.00" y="1458.92" width="18.28" height="18.28" fill="#f3f2b3"/><rect x="744.68" y="1458.92" width="18.28" height="18.28" fill="#eff1ae"/><rect x="762.36" y="1458.92" width="18.28" height="18.28" fill="#eff1ae"/><rect x="780.04" y="1458.92" width="18.28" height="18.28" fill="#eff1ae"/><rect x="797.72" y="1458.92" width="18.28" height="18.28" fill="#eff1ae"/><rect x="638.60" y="1476.60" width="18.28" height="18.28" fill="#f8f3b7"/><rect x="656.28" y="1476.60" width="18.28" height="18.28" fill="#e9efa6"/><rect x="673.96" y="1476.60" width="18.28" height="18.28" fill="#e9efa6"/><rect x="691.64" y="1476.60" width="18.28" height="18.28" fill="#f7f4b7"/><rect x="709.32" y="1476.60" width="18.28" height="18.28" fill="#e9efa6"/><rect x="727.00" y="1476.60" width="18.28" height="18.28" fill="#f3f2b3"/><rect x="744.68" y="1476.60" width="18.28" height="18.28" fill="#f3f2b3"/><rect x="762.36" y="1476.60" width="18.28" height="18.28" fill="#e9efa6"/><rect x="780.04" y="1476.60" width="18.28" height="18.28" fill="#eff1ae"/><rect x="797.72" y="1476.60" width="18.28" height="18.28" fill="#eff1ae"/><rect x="656.28" y="1494.28" width="18.28" height="18.28" fill="#f8f3b7"/><rect x="673.96" y="1494.28" width="18.28" height="18.28" fill="#eff1ae"/><rect x="691.64" y="1494.28" width="18.28" height="18.28" fill="#eff1ae"/><rect x="709.32" y="1494.28" width="18.28" height="18.28" fill="#edf0ab"/><rect x="727.00" y="1494.28" width="18.28" height="18.28" fill="#edf0ab"/><rect x="744.68" y="1494.28" width="18.28" height="18.28" fill="#edf0ab"/><rect x="762.36" y="1494.28" width="18.28" height="18.28" fill="#edf0ab"/><rect x="780.04" y="1494.28" width="18.28" height="18.28" fill="#edf0ab"/><rect x="797.72" y="1494.28" width="18.28" height="18.28" fill="#edf0ab"/><rect x="673.96" y="1511.96" width="18.28" height="18.28" fill="#f8f3b7"/><rect x="691.64" y="1511.96" width="18.28" height="18.28" fill="#f7f4b7"/><rect x="709.32" y="1511.96" width="18.28" height="18.28" fill="#f9eca9"/><rect x="727.00" y="1511.96" width="18.28" height="18.28" fill="#f3f2b3"/><rect x="744.68" y="1511.96" width="18.28" height="18.28" fill="#eff1ae"/><rect x="762.36" y="1511.96" width="18.28" height="18.28" fill="#eff1ae"/><rect x="780.04" y="1511.96" width="18.28" height="18.28" fill="#f3f2b3"/><rect x="797.72" y="1511.96" width="18.28" height="18.28" fill="#e9efa6"/><rect x="691.64" y="1529.64" width="18.28" height="18.28" fill="#f8f3b7"/><rect x="709.32" y="1529.64" width="18.28" height="18.28" fill="#f7f4b7"/><rect x="727.00" y="1529.64" width="18.28" height="18.28" fill="#f8f2b4"/><rect x="744.68" y="1529.64" width="18.28" height="18.28" fill="#f3f2b3"/><rect x="762.36" y="1529.64" width="18.28" height="18.28" fill="#f3f2b3"/><rect x="780.04" y="1529.64" width="18.28" height="18.28" fill="#eff1ae"/><rect x="797.72" y="1529.64" width="18.28" height="18.28" fill="#eff1ae"/><rect x="709.32" y="1547.32" width="18.28" height="18.28" fill="#f8f3b7"/><rect x="727.00" y="1547.32" width="18.28" height="18.28" fill="#f8f4b9"/><rect x="744.68" y="1547.32" width="18.28" height="18.28" fill="#f7f4b7"/><rect x="762.36" y="1547.32" width="18.28" height="18.28" fill="#f3f2b3"/><rect x="780.04" y="1547.32" width="18.28" height="18.28" fill="#f3f2b3"/><rect x="797.72" y="1547.32" width="18.28" height="18.28" fill="#eff1ae"/><rect x="727.00" y="1565.00" width="18.28" height="18.28" fill="#f8f3b7"/><rect x="744.68" y="1565.00" width="18.28" height="18.28" fill="#eff1ae"/><rect x="762.36" y="1565.00" width="18.28" height="18.28" fill="#eff1ae"/><rect x="780.04" y="1565.00" width="18.28" height="18.28" fill="#eff1ae"/><rect x="797.72" y="1565.00" width="18.28" height="18.28" fill="#eff1ae"/><rect x="744.68" y="1582.68" width="18.28" height="18.28" fill="#f8f3b7"/><rect x="762.36" y="1582.68" width="18.28" height="18.28" fill="#f7f4b7"/><rect x="780.04" y="1582.68" width="18.28" height="18.28" fill="#e9efa6"/><rect x="797.72" y="1582.68" width="18.28" height="18.28" fill="#eff1ae"/><rect x="762.36" y="1600.36" width="18.28" height="18.28" fill="#f8f3b7"/><rect x="780.04" y="1600.36" width="18.28" height="18.28" fill="#eff1ae"/><rect x="797.72" y="1600.36" width="18.28" height="18.28" fill="#eff1ae"/><rect x="780.04" y="1618.04" width="18.28" height="18.28" fill="#f8f3b7"/><rect x="797.72" y="1618.04" width="18.28" height="18.28" fill="#eff1ae"/><rect x="797.72" y="1635.72" width="18.28" height="18.28" fill="#f8f3b7"/></g>
<text x="829.5" y="963.8" font-size="20.5" letter-spacing="-1">UNC–30</text>
<text transform="translate(124.1,932) rotate(-90)" font-size="20.5" letter-spacing="-1">UNC–30</text>
<text x="829.5" y="981.5" font-size="20.5" letter-spacing="-1">LSY–2</text>
<text transform="translate(141.8,932) rotate(-90)" font-size="20.5" letter-spacing="-1">LSY–2</text>
<text x="829.5" y="999.2" font-size="20.5" letter-spacing="-1">LIN–35</text>
<text transform="translate(159.5,932) rotate(-90)" font-size="20.5" letter-spacing="-1">LIN–35</text>
<text x="829.5" y="1016.9" font-size="20.5" letter-spacing="-1">MEP–1</text>
<text transform="translate(177.2,932) rotate(-90)" font-size="20.5" letter-spacing="-1">MEP–1</text>
<text x="829.5" y="1034.6" font-size="20.5" letter-spacing="-1">EFL–1</text>
<text transform="translate(194.9,932) rotate(-90)" font-size="20.5" letter-spacing="-1">EFL–1</text>
<text x="829.5" y="1052.2" font-size="20.5" letter-spacing="-1">NHR–12</text>
<text transform="translate(212.5,932) rotate(-90)" font-size="20.5" letter-spacing="-1">NHR–12</text>
<text x="829.5" y="1069.9" font-size="20.5" letter-spacing="-1">NHR–28</text>
<text transform="translate(230.2,932) rotate(-90)" font-size="20.5" letter-spacing="-1">NHR–28</text>
<text x="829.5" y="1087.6" font-size="20.5" letter-spacing="-1">LIN–39</text>
<text transform="translate(247.9,932) rotate(-90)" font-size="20.5" letter-spacing="-1">LIN–39</text>
<text x="829.5" y="1105.3" font-size="20.5" letter-spacing="-1">GEI–11</text>
<text transform="translate(265.6,932) rotate(-90)" font-size="20.5" letter-spacing="-1">GEI–11</text>
<text x="829.5" y="1123.0" font-size="20.5" letter-spacing="-1">EGL–27</text>
<text transform="translate(283.3,932) rotate(-90)" font-size="20.5" letter-spacing="-1">EGL–27</text>
<text x="829.5" y="1140.6" font-size="20.5" letter-spacing="-1">NHR–11</text>
<text transform="translate(300.9,932) rotate(-90)" font-size="20.5" letter-spacing="-1">NHR–11</text>
<text x="829.5" y="1158.3" font-size="20.5" letter-spacing="-1">ZAG–1</text>
<text transform="translate(318.6,932) rotate(-90)" font-size="20.5" letter-spacing="-1">ZAG–1</text>
<text x="829.5" y="1176.0" font-size="20.5" letter-spacing="-1">FKH–10</text>
<text transform="translate(336.3,932) rotate(-90)" font-size="20.5" letter-spacing="-1">FKH–10</text>
<text x="829.5" y="1193.7" font-size="20.5" letter-spacing="-1">CES–1</text>
<text transform="translate(354.0,932) rotate(-90)" font-size="20.5" letter-spacing="-1">CES–1</text>
<text x="829.5" y="1211.4" font-size="20.5" letter-spacing="-1">SAX–3</text>
<text transform="translate(371.7,932) rotate(-90)" font-size="20.5" letter-spacing="-1">SAX–3</text>
<text x="829.5" y="1229.0" font-size="20.5" letter-spacing="-1">NHR–76</text>
<text transform="translate(389.3,932) rotate(-90)" font-size="20.5" letter-spacing="-1">NHR–76</text>
<text x="829.5" y="1246.7" font-size="20.5" letter-spacing="-1">NHR–77</text>
<text transform="translate(407.0,932) rotate(-90)" font-size="20.5" letter-spacing="-1">NHR–77</text>
<text x="829.5" y="1264.4" font-size="20.5" letter-spacing="-1">UNC–130</text>
<text transform="translate(424.7,932) rotate(-90)" font-size="20.5" letter-spacing="-1">UNC–130</text>
<text x="829.5" y="1282.1" font-size="20.5" letter-spacing="-1">ALY–2</text>
<text transform="translate(442.4,932) rotate(-90)" font-size="20.5" letter-spacing="-1">ALY–2</text>
<text x="829.5" y="1299.8" font-size="20.5" letter-spacing="-1">NHR–237</text>
<text transform="translate(460.1,932) rotate(-90)" font-size="20.5" letter-spacing="-1">NHR–237</text>
<text x="829.5" y="1317.4" font-size="20.5" letter-spacing="-1">MEF–2</text>
<text transform="translate(477.7,932) rotate(-90)" font-size="20.5" letter-spacing="-1">MEF–2</text>
<text x="829.5" y="1335.1" font-size="20.5" letter-spacing="-1">ZTF–11</text>
<text transform="translate(495.4,932) rotate(-90)" font-size="20.5" letter-spacing="-1">ZTF–11</text>
<text x="829.5" y="1352.8" font-size="20.5" letter-spacing="-1">NHR–84</text>
<text transform="translate(513.1,932) rotate(-90)" font-size="20.5" letter-spacing="-1">NHR–84</text>
<text x="829.5" y="1370.5" font-size="20.5" letter-spacing="-1">ZTF–4</text>
<text transform="translate(530.8,932) rotate(-90)" font-size="20.5" letter-spacing="-1">ZTF–4</text>
<text x="829.5" y="1388.2" font-size="20.5" letter-spacing="-1">TLP–1</text>
<text transform="translate(548.5,932) rotate(-90)" font-size="20.5" letter-spacing="-1">TLP–1</text>
<text x="829.5" y="1405.8" font-size="20.5" letter-spacing="-1">PQM–1</text>
<text transform="translate(566.1,932) rotate(-90)" font-size="20.5" letter-spacing="-1">PQM–1</text>
<text x="829.5" y="1423.5" font-size="20.5" letter-spacing="-1">AMA–1</text>
<text transform="translate(583.8,932) rotate(-90)" font-size="20.5" letter-spacing="-1">AMA–1</text>
<text x="829.5" y="1441.2" font-size="20.5" letter-spacing="-1">UNC–62</text>
<text transform="translate(601.5,932) rotate(-90)" font-size="20.5" letter-spacing="-1">UNC–62</text>
<text x="829.5" y="1458.9" font-size="20.5" letter-spacing="-1">BLMP–1</text>
<text transform="translate(619.2,932) rotate(-90)" font-size="20.5" letter-spacing="-1">BLMP–1</text>
<text x="829.5" y="1476.6" font-size="20.5" letter-spacing="-1">ELT–3</text>
<text transform="translate(636.9,932) rotate(-90)" font-size="20.5" letter-spacing="-1">ELT–3</text>
<text x="829.5" y="1494.2" font-size="20.5" letter-spacing="-1">MDL–1</text>
<text transform="translate(654.5,932) rotate(-90)" font-size="20.5" letter-spacing="-1">MDL–1</text>
<text x="829.5" y="1511.9" font-size="20.5" letter-spacing="-1">SKN–1</text>
<text transform="translate(672.2,932) rotate(-90)" font-size="20.5" letter-spacing="-1">SKN–1</text>
<text x="829.5" y="1529.6" font-size="20.5" letter-spacing="-1">AHA–1</text>
<text transform="translate(689.9,932) rotate(-90)" font-size="20.5" letter-spacing="-1">AHA–1</text>
<text x="829.5" y="1547.3" font-size="20.5" letter-spacing="-1">JUN–1</text>
<text transform="translate(707.6,932) rotate(-90)" font-size="20.5" letter-spacing="-1">JUN–1</text>
<text x="829.5" y="1565.0" font-size="20.5" letter-spacing="-1">FOS–1</text>
<text transform="translate(725.3,932) rotate(-90)" font-size="20.5" letter-spacing="-1">FOS–1</text>
<text x="829.5" y="1582.6" font-size="20.5" letter-spacing="-1">LIN–15B</text>
<text transform="translate(742.9,932) rotate(-90)" font-size="20.5" letter-spacing="-1">LIN–15B</text>
<text x="829.5" y="1600.3" font-size="20.5" letter-spacing="-1">F16B12.6</text>
<text transform="translate(760.6,932) rotate(-90)" font-size="20.5" letter-spacing="-1">F16B12.6</text>
<text x="829.5" y="1618.0" font-size="20.5" letter-spacing="-1">C16A3.4</text>
<text transform="translate(778.3,932) rotate(-90)" font-size="20.5" letter-spacing="-1">C16A3.4</text>
<text x="829.5" y="1635.7" font-size="20.5" letter-spacing="-1">LIN–13</text>
<text transform="translate(796.0,932) rotate(-90)" font-size="20.5" letter-spacing="-1">LIN–13</text>
<text x="829.5" y="1653.4" font-size="20.5" letter-spacing="-1">DPL–1</text>
<text transform="translate(813.7,932) rotate(-90)" font-size="20.5" letter-spacing="-1">DPL–1</text>
<text transform="translate(905.8,1321) rotate(-90)" font-size="19">25</text>
<g shape-rendering="crispEdges"><rect x="112.00" y="1108.60" width="27.76" height="27.76" fill="#f8f3b7"/><rect x="112.00" y="1135.76" width="27.76" height="27.76" fill="#c2e29d"/><rect x="139.16" y="1135.76" width="27.76" height="27.76" fill="#f8f3b7"/><rect x="112.00" y="1162.92" width="27.76" height="27.76" fill="#6ec3a0"/><rect x="139.16" y="1162.92" width="27.76" height="27.76" fill="#80caa0"/><rect x="166.32" y="1162.92" width="27.76" height="27.76" fill="#f8f3b7"/><rect x="112.00" y="1190.08" width="27.76" height="27.76" fill="#e9efa6"/><rect x="139.16" y="1190.08" width="27.76" height="27.76" fill="#d0e79c"/><rect x="166.32" y="1190.08" width="27.76" height="27.76" fill="#c2e29d"/><rect x="193.48" y="1190.08" width="27.76" height="27.76" fill="#3875b5"/><rect x="112.00" y="1217.24" width="27.76" height="27.76" fill="#5cbca0"/><rect x="139.16" y="1217.24" width="27.76" height="27.76" fill="#d0e79c"/><rect x="166.32" y="1217.24" width="27.76" height="27.76" fill="#4857a7"/><rect x="193.48" y="1217.24" width="27.76" height="27.76" fill="#f8f3b7"/><rect x="220.64" y="1217.24" width="27.76" height="27.76" fill="#f8f3b7"/><rect x="112.00" y="1244.40" width="27.76" height="27.76" fill="#93d2a0"/><rect x="139.16" y="1244.40" width="27.76" height="27.76" fill="#e9efa6"/><rect x="166.32" y="1244.40" width="27.76" height="27.76" fill="#5cbca0"/><rect x="193.48" y="1244.40" width="27.76" height="27.76" fill="#a5d9a0"/><rect x="220.64" y="1244.40" width="27.76" height="27.76" fill="#f9edab"/><rect x="247.80" y="1244.40" width="27.76" height="27.76" fill="#f8f3b7"/><rect x="112.00" y="1271.56" width="27.76" height="27.76" fill="#c2e29d"/><rect x="139.16" y="1271.56" width="27.76" height="27.76" fill="#5cbca0"/><rect x="166.32" y="1271.56" width="27.76" height="27.76" fill="#4066ae"/><rect x="193.48" y="1271.56" width="27.76" height="27.76" fill="#d0e79c"/><rect x="220.64" y="1271.56" width="27.76" height="27.76" fill="#b4de9e"/><rect x="247.80" y="1271.56" width="27.76" height="27.76" fill="#e2ed9d"/><rect x="274.96" y="1271.56" width="27.76" height="27.76" fill="#f8f3b7"/><rect x="112.00" y="1298.72" width="27.76" height="27.76" fill="#e9efa6"/><rect x="139.16" y="1298.72" width="27.76" height="27.76" fill="#3b92b5"/><rect x="166.32" y="1298.72" width="27.76" height="27.76" fill="#93d2a0"/><rect x="193.48" y="1298.72" width="27.76" height="27.76" fill="#dfec9a"/><rect x="220.64" y="1298.72" width="27.76" height="27.76" fill="#f8f4b9"/><rect x="247.80" y="1298.72" width="27.76" height="27.76" fill="#f9edab"/><rect x="274.96" y="1298.72" width="27.76" height="27.76" fill="#f89a56"/><rect x="302.12" y="1298.72" width="27.76" height="27.76" fill="#f8f3b7"/><rect x="112.00" y="1325.88" width="27.76" height="27.76" fill="#3084bc"/><rect x="139.16" y="1325.88" width="27.76" height="27.76" fill="#dfec9a"/><rect x="166.32" y="1325.88" width="27.76" height="27.76" fill="#80caa0"/><rect x="193.48" y="1325.88" width="27.76" height="27.76" fill="#f9eba6"/><rect x="220.64" y="1325.88" width="27.76" height="27.76" fill="#dfec9a"/><rect x="247.80" y="1325.88" width="27.76" height="27.76" fill="#f8f4b9"/><rect x="274.96" y="1325.88" width="27.76" height="27.76" fill="#5cbca0"/><rect x="302.12" y="1325.88" width="27.76" height="27.76" fill="#f9edab"/><rect x="329.28" y="1325.88" width="27.76" height="27.76" fill="#f8f3b7"/><rect x="112.00" y="1353.04" width="27.76" height="27.76" fill="#6ec3a0"/><rect x="139.16" y="1353.04" width="27.76" height="27.76" fill="#dfec9a"/><rect x="166.32" y="1353.04" width="27.76" height="27.76" fill="#93d2a0"/><rect x="193.48" y="1353.04" width="27.76" height="27.76" fill="#e5eea2"/><rect x="220.64" y="1353.04" width="27.76" height="27.76" fill="#ecf0aa"/><rect x="247.80" y="1353.04" width="27.76" height="27.76" fill="#e2ed9d"/><rect x="274.96" y="1353.04" width="27.76" height="27.76" fill="#f8f4b9"/><rect x="302.12" y="1353.04" width="27.76" height="27.76" fill="#e2ed9d"/><rect x="329.28" y="1353.04" width="27.76" height="27.76" fill="#f8f3b7"/><rect x="356.44" y="1353.04" width="27.76" height="27.76" fill="#f8f3b7"/><rect x="112.00" y="1380.20" width="27.76" height="27.76" fill="#80caa0"/><rect x="139.16" y="1380.20" width="27.76" height="27.76" fill="#dfec9a"/><rect x="166.32" y="1380.20" width="27.76" height="27.76" fill="#c2e29d"/><rect x="193.48" y="1380.20" width="27.76" height="27.76" fill="#c2e29d"/><rect x="220.64" y="1380.20" width="27.76" height="27.76" fill="#e9efa6"/><rect x="247.80" y="1380.20" width="27.76" height="27.76" fill="#f8f3b7"/><rect x="274.96" y="1380.20" width="27.76" height="27.76" fill="#eef1ad"/><rect x="302.12" y="1380.20" width="27.76" height="27.76" fill="#f2f2b1"/><rect x="329.28" y="1380.20" width="27.76" height="27.76" fill="#dfec9a"/><rect x="356.44" y="1380.20" width="27.76" height="27.76" fill="#e9efa6"/><rect x="383.60" y="1380.20" width="27.76" height="27.76" fill="#f8f3b7"/><rect x="112.00" y="1407.36" width="27.76" height="27.76" fill="#dfec9a"/><rect x="139.16" y="1407.36" width="27.76" height="27.76" fill="#e5eea2"/><rect x="166.32" y="1407.36" width="27.76" height="27.76" fill="#e5eea2"/><rect x="193.48" y="1407.36" width="27.76" height="27.76" fill="#e5eea2"/><rect x="220.64" y="1407.36" width="27.76" height="27.76" fill="#ecf0aa"/><rect x="247.80" y="1407.36" width="27.76" height="27.76" fill="#eef1ad"/><rect x="274.96" y="1407.36" width="27.76" height="27.76" fill="#f9edab"/><rect x="302.12" y="1407.36" width="27.76" height="27.76" fill="#ecf0aa"/><rect x="329.28" y="1407.36" width="27.76" height="27.76" fill="#d0e79c"/><rect x="356.44" y="1407.36" width="27.76" height="27.76" fill="#f8f4b9"/><rect x="383.60" y="1407.36" width="27.76" height="27.76" fill="#f8f4b9"/><rect x="410.76" y="1407.36" width="27.76" height="27.76" fill="#f8f3b7"/><rect x="112.00" y="1434.52" width="27.76" height="27.76" fill="#d0e79c"/><rect x="139.16" y="1434.52" width="27.76" height="27.76" fill="#f8f4b9"/><rect x="166.32" y="1434.52" width="27.76" height="27.76" fill="#eef1ad"/><rect x="193.48" y="1434.52" width="27.76" height="27.76" fill="#f8f4b9"/><rect x="220.64" y="1434.52" width="27.76" height="27.76" fill="#fae293"/><rect x="247.80" y="1434.52" width="27.76" height="27.76" fill="#fae293"/><rect x="274.96" y="1434.52" width="27.76" height="27.76" fill="#f8f4b9"/><rect x="302.12" y="1434.52" width="27.76" height="27.76" fill="#dfec9a"/><rect x="329.28" y="1434.52" width="27.76" height="27.76" fill="#d0e79c"/><rect x="356.44" y="1434.52" width="27.76" height="27.76" fill="#f8f4b9"/><rect x="383.60" y="1434.52" width="27.76" height="27.76" fill="#fae89f"/><rect x="410.76" y="1434.52" width="27.76" height="27.76" fill="#f9f0b0"/><rect x="437.92" y="1434.52" width="27.76" height="27.76" fill="#f8f3b7"/><rect x="112.00" y="1461.68" width="27.76" height="27.76" fill="#80caa0"/><rect x="139.16" y="1461.68" width="27.76" height="27.76" fill="#d0e79c"/><rect x="166.32" y="1461.68" width="27.76" height="27.76" fill="#e5eea2"/><rect x="193.48" y="1461.68" width="27.76" height="27.76" fill="#fae89f"/><rect x="220.64" y="1461.68" width="27.76" height="27.76" fill="#93d2a0"/><rect x="247.80" y="1461.68" width="27.76" height="27.76" fill="#fae89f"/><rect x="274.96" y="1461.68" width="27.76" height="27.76" fill="#f2f2b1"/><rect x="302.12" y="1461.68" width="27.76" height="27.76" fill="#f8f3b7"/><rect x="329.28" y="1461.68" width="27.76" height="27.76" fill="#f8f3b7"/><rect x="356.44" y="1461.68" width="27.76" height="27.76" fill="#f9f0b0"/><rect x="383.60" y="1461.68" width="27.76" height="27.76" fill="#fae89f"/><rect x="410.76" y="1461.68" width="27.76" height="27.76" fill="#fbdc88"/><rect x="437.92" y="1461.68" width="27.76" height="27.76" fill="#fbdc88"/><rect x="465.08" y="1461.68" width="27.76" height="27.76" fill="#f8f3b7"/><rect x="112.00" y="1488.84" width="27.76" height="27.76" fill="#6ec3a0"/><rect x="139.16" y="1488.84" width="27.76" height="27.76" fill="#d0e79c"/><rect x="166.32" y="1488.84" width="27.76" height="27.76" fill="#d0e79c"/><rect x="193.48" y="1488.84" width="27.76" height="27.76" fill="#80caa0"/><rect x="220.64" y="1488.84" width="27.76" height="27.76" fill="#fbdc88"/><rect x="247.80" y="1488.84" width="27.76" height="27.76" fill="#fae293"/><rect x="274.96" y="1488.84" width="27.76" height="27.76" fill="#f2f2b1"/><rect x="302.12" y="1488.84" width="27.76" height="27.76" fill="#f8f4b9"/><rect x="329.28" y="1488.84" width="27.76" height="27.76" fill="#f8f4b9"/><rect x="356.44" y="1488.84" width="27.76" height="27.76" fill="#ecf0aa"/><rect x="383.60" y="1488.84" width="27.76" height="27.76" fill="#ecf0aa"/><rect x="410.76" y="1488.84" width="27.76" height="27.76" fill="#f2f2b1"/><rect x="437.92" y="1488.84" width="27.76" height="27.76" fill="#fbd07d"/><rect x="465.08" y="1488.84" width="27.76" height="27.76" fill="#f9edab"/><rect x="492.24" y="1488.84" width="27.76" height="27.76" fill="#f8f3b7"/><rect x="112.00" y="1516.00" width="27.76" height="27.76" fill="#80caa0"/><rect x="139.16" y="1516.00" width="27.76" height="27.76" fill="#d0e79c"/><rect x="166.32" y="1516.00" width="27.76" height="27.76" fill="#dfec9a"/><rect x="193.48" y="1516.00" width="27.76" height="27.76" fill="#ecf0aa"/><rect x="220.64" y="1516.00" width="27.76" height="27.76" fill="#fae293"/><rect x="247.80" y="1516.00" width="27.76" height="27.76" fill="#f89a56"/><rect x="274.96" y="1516.00" width="27.76" height="27.76" fill="#f9edab"/><rect x="302.12" y="1516.00" width="27.76" height="27.76" fill="#f6894d"/><rect x="329.28" y="1516.00" width="27.76" height="27.76" fill="#e5eea2"/><rect x="356.44" y="1516.00" width="27.76" height="27.76" fill="#f8f4b9"/><rect x="383.60" y="1516.00" width="27.76" height="27.76" fill="#f8f3b7"/><rect x="410.76" y="1516.00" width="27.76" height="27.76" fill="#f4f3b4"/><rect x="437.92" y="1516.00" width="27.76" height="27.76" fill="#fbdc88"/><rect x="465.08" y="1516.00" width="27.76" height="27.76" fill="#f9edab"/><rect x="492.24" y="1516.00" width="27.76" height="27.76" fill="#f8f4b9"/><rect x="519.40" y="1516.00" width="27.76" height="27.76" fill="#f8f3b7"/><rect x="112.00" y="1543.16" width="27.76" height="27.76" fill="#f9edab"/><rect x="139.16" y="1543.16" width="27.76" height="27.76" fill="#c2e29d"/><rect x="166.32" y="1543.16" width="27.76" height="27.76" fill="#e9efa6"/><rect x="193.48" y="1543.16" width="27.76" height="27.76" fill="#d0e79c"/><rect x="220.64" y="1543.16" width="27.76" height="27.76" fill="#f2f2b1"/><rect x="247.80" y="1543.16" width="27.76" height="27.76" fill="#fae89f"/><rect x="274.96" y="1543.16" width="27.76" height="27.76" fill="#f8f4b9"/><rect x="302.12" y="1543.16" width="27.76" height="27.76" fill="#fae293"/><rect x="329.28" y="1543.16" width="27.76" height="27.76" fill="#f9edab"/><rect x="356.44" y="1543.16" width="27.76" height="27.76" fill="#ecf0aa"/><rect x="383.60" y="1543.16" width="27.76" height="27.76" fill="#ecf0aa"/><rect x="410.76" y="1543.16" width="27.76" height="27.76" fill="#f2f2b1"/><rect x="437.92" y="1543.16" width="27.76" height="27.76" fill="#f2f2b1"/><rect x="465.08" y="1543.16" width="27.76" height="27.76" fill="#f2f2b1"/><rect x="492.24" y="1543.16" width="27.76" height="27.76" fill="#f4f3b4"/><rect x="519.40" y="1543.16" width="27.76" height="27.76" fill="#fae293"/><rect x="546.56" y="1543.16" width="27.76" height="27.76" fill="#f8f3b7"/><rect x="112.00" y="1570.32" width="27.76" height="27.76" fill="#fbd07d"/><rect x="139.16" y="1570.32" width="27.76" height="27.76" fill="#dfec9a"/><rect x="166.32" y="1570.32" width="27.76" height="27.76" fill="#f8f4b9"/><rect x="193.48" y="1570.32" width="27.76" height="27.76" fill="#e5eea2"/><rect x="220.64" y="1570.32" width="27.76" height="27.76" fill="#f8f4b9"/><rect x="247.80" y="1570.32" width="27.76" height="27.76" fill="#f8f4b9"/><rect x="274.96" y="1570.32" width="27.76" height="27.76" fill="#f8f4b9"/><rect x="302.12" y="1570.32" width="27.76" height="27.76" fill="#fbd07d"/><rect x="329.28" y="1570.32" width="27.76" height="27.76" fill="#fbab5e"/><rect x="356.44" y="1570.32" width="27.76" height="27.76" fill="#ecf0aa"/><rect x="383.60" y="1570.32" width="27.76" height="27.76" fill="#f8f3b7"/><rect x="410.76" y="1570.32" width="27.76" height="27.76" fill="#f8f4b9"/><rect x="437.92" y="1570.32" width="27.76" height="27.76" fill="#f9edab"/><rect x="465.08" y="1570.32" width="27.76" height="27.76" fill="#dfec9a"/><rect x="492.24" y="1570.32" width="27.76" height="27.76" fill="#fbdc88"/><rect x="519.40" y="1570.32" width="27.76" height="27.76" fill="#fbdc88"/><rect x="546.56" y="1570.32" width="27.76" height="27.76" fill="#fae293"/><rect x="573.72" y="1570.32" width="27.76" height="27.76" fill="#f8f3b7"/><rect x="112.00" y="1597.48" width="27.76" height="27.76" fill="#f8f3b7"/><rect x="139.16" y="1597.48" width="27.76" height="27.76" fill="#f8f3b7"/><rect x="166.32" y="1597.48" width="27.76" height="27.76" fill="#f8f3b7"/><rect x="193.48" y="1597.48" width="27.76" height="27.76" fill="#f8f4b9"/><rect x="220.64" y="1597.48" width="27.76" height="27.76" fill="#f8f4b9"/><rect x="247.80" y="1597.48" width="27.76" height="27.76" fill="#f9edab"/><rect x="274.96" y="1597.48" width="27.76" height="27.76" fill="#fae89f"/><rect x="302.12" y="1597.48" width="27.76" height="27.76" fill="#f8f4b9"/><rect x="329.28" y="1597.48" width="27.76" height="27.76" fill="#f8f3b7"/><rect x="356.44" y="1597.48" width="27.76" height="27.76" fill="#f8f3b7"/><rect x="383.60" y="1597.48" width="27.76" height="27.76" fill="#f8f3b7"/><rect x="410.76" y="1597.48" width="27.76" height="27.76" fill="#f8f3b7"/><rect x="437.92" y="1597.48" width="27.76" height="27.76" fill="#f8f4b9"/><rect x="465.08" y="1597.48" width="27.76" height="27.76" fill="#f8f4b9"/><rect x="492.24" y="1597.48" width="27.76" height="27.76" fill="#f8f4b9"/><rect x="519.40" y="1597.48" width="27.76" height="27.76" fill="#f8f3b7"/><rect x="546.56" y="1597.48" width="27.76" height="27.76" fill="#f9f0b0"/><rect x="573.72" y="1597.48" width="27.76" height="27.76" fill="#f8f4b9"/><rect x="600.88" y="1597.48" width="27.76" height="27.76" fill="#f8f3b7"/><rect x="112.00" y="1624.64" width="27.76" height="27.76" fill="#f8f3b7"/><rect x="139.16" y="1624.64" width="27.76" height="27.76" fill="#f4f3b4"/><rect x="166.32" y="1624.64" width="27.76" height="27.76" fill="#f8f3b7"/><rect x="193.48" y="1624.64" width="27.76" height="27.76" fill="#f8f4b9"/><rect x="220.64" y="1624.64" width="27.76" height="27.76" fill="#f9edab"/><rect x="247.80" y="1624.64" width="27.76" height="27.76" fill="#f9edab"/><rect x="274.96" y="1624.64" width="27.76" height="27.76" fill="#fbb868"/><rect x="302.12" y="1624.64" width="27.76" height="27.76" fill="#f8f3b7"/><rect x="329.28" y="1624.64" width="27.76" height="27.76" fill="#dfec9a"/><rect x="356.44" y="1624.64" width="27.76" height="27.76" fill="#fbdc88"/><rect x="383.60" y="1624.64" width="27.76" height="27.76" fill="#fae89f"/><rect x="410.76" y="1624.64" width="27.76" height="27.76" fill="#f8f4b9"/><rect x="437.92" y="1624.64" width="27.76" height="27.76" fill="#f8f4b9"/><rect x="465.08" y="1624.64" width="27.76" height="27.76" fill="#f2f2b1"/><rect x="492.24" y="1624.64" width="27.76" height="27.76" fill="#ecf0aa"/><rect x="519.40" y="1624.64" width="27.76" height="27.76" fill="#fae293"/><rect x="546.56" y="1624.64" width="27.76" height="27.76" fill="#eef1ad"/><rect x="573.72" y="1624.64" width="27.76" height="27.76" fill="#f9edab"/><rect x="600.88" y="1624.64" width="27.76" height="27.76" fill="#f9edab"/><rect x="628.04" y="1624.64" width="27.76" height="27.76" fill="#f8f3b7"/><rect x="112.00" y="1651.80" width="27.76" height="27.76" fill="#f8f3b7"/><rect x="139.16" y="1651.80" width="27.76" height="27.76" fill="#f8f4b9"/><rect x="166.32" y="1651.80" width="27.76" height="27.76" fill="#fbc473"/><rect x="193.48" y="1651.80" width="27.76" height="27.76" fill="#fbab5e"/><rect x="220.64" y="1651.80" width="27.76" height="27.76" fill="#f8f4b9"/><rect x="247.80" y="1651.80" width="27.76" height="27.76" fill="#eef1ad"/><rect x="274.96" y="1651.80" width="27.76" height="27.76" fill="#e5eea2"/><rect x="302.12" y="1651.80" width="27.76" height="27.76" fill="#f8f3b7"/><rect x="329.28" y="1651.80" width="27.76" height="27.76" fill="#f89a56"/><rect x="356.44" y="1651.80" width="27.76" height="27.76" fill="#fbc473"/><rect x="383.60" y="1651.80" width="27.76" height="27.76" fill="#fae89f"/><rect x="410.76" y="1651.80" width="27.76" height="27.76" fill="#f8f4b9"/><rect x="437.92" y="1651.80" width="27.76" height="27.76" fill="#f9edab"/><rect x="465.08" y="1651.80" width="27.76" height="27.76" fill="#f8f3b7"/><rect x="492.24" y="1651.80" width="27.76" height="27.76" fill="#f89a56"/><rect x="519.40" y="1651.80" width="27.76" height="27.76" fill="#f9edab"/><rect x="546.56" y="1651.80" width="27.76" height="27.76" fill="#f8f3b7"/><rect x="573.72" y="1651.80" width="27.76" height="27.76" fill="#f6894d"/><rect x="600.88" y="1651.80" width="27.76" height="27.76" fill="#f2f2b1"/><rect x="628.04" y="1651.80" width="27.76" height="27.76" fill="#fbab5e"/><rect x="655.20" y="1651.80" width="27.76" height="27.76" fill="#f8f3b7"/><rect x="112.00" y="1678.96" width="27.76" height="27.76" fill="#f8f3b7"/><rect x="139.16" y="1678.96" width="27.76" height="27.76" fill="#eef1ad"/><rect x="166.32" y="1678.96" width="27.76" height="27.76" fill="#eef1ad"/><rect x="193.48" y="1678.96" width="27.76" height="27.76" fill="#dfec9a"/><rect x="220.64" y="1678.96" width="27.76" height="27.76" fill="#93d2a0"/><rect x="247.80" y="1678.96" width="27.76" height="27.76" fill="#a5d9a0"/><rect x="274.96" y="1678.96" width="27.76" height="27.76" fill="#c2e29d"/><rect x="302.12" y="1678.96" width="27.76" height="27.76" fill="#a5d9a0"/><rect x="329.28" y="1678.96" width="27.76" height="27.76" fill="#f8f3b7"/><rect x="356.44" y="1678.96" width="27.76" height="27.76" fill="#f8f4b9"/><rect x="383.60" y="1678.96" width="27.76" height="27.76" fill="#fbdc88"/><rect x="410.76" y="1678.96" width="27.76" height="27.76" fill="#fbdc88"/><rect x="437.92" y="1678.96" width="27.76" height="27.76" fill="#f9edab"/><rect x="465.08" y="1678.96" width="27.76" height="27.76" fill="#eef1ad"/><rect x="492.24" y="1678.96" width="27.76" height="27.76" fill="#eef1ad"/><rect x="519.40" y="1678.96" width="27.76" height="27.76" fill="#f2f2b1"/><rect x="546.56" y="1678.96" width="27.76" height="27.76" fill="#ecf0aa"/><rect x="573.72" y="1678.96" width="27.76" height="27.76" fill="#ecf0aa"/><rect x="600.88" y="1678.96" width="27.76" height="27.76" fill="#f8f4b9"/><rect x="628.04" y="1678.96" width="27.76" height="27.76" fill="#f8f4b9"/><rect x="655.20" y="1678.96" width="27.76" height="27.76" fill="#e5eea2"/><rect x="682.36" y="1678.96" width="27.76" height="27.76" fill="#f8f3b7"/><rect x="112.00" y="1706.12" width="27.76" height="27.76" fill="#eef1ad"/><rect x="139.16" y="1706.12" width="27.76" height="27.76" fill="#eef1ad"/><rect x="166.32" y="1706.12" width="27.76" height="27.76" fill="#f4f3b4"/><rect x="193.48" y="1706.12" width="27.76" height="27.76" fill="#e9efa6"/><rect x="220.64" y="1706.12" width="27.76" height="27.76" fill="#e9efa6"/><rect x="247.80" y="1706.12" width="27.76" height="27.76" fill="#5cbca0"/><rect x="274.96" y="1706.12" width="27.76" height="27.76" fill="#c2e29d"/><rect x="302.12" y="1706.12" width="27.76" height="27.76" fill="#c2e29d"/><rect x="329.28" y="1706.12" width="27.76" height="27.76" fill="#80caa0"/><rect x="356.44" y="1706.12" width="27.76" height="27.76" fill="#f8f3b7"/><rect x="383.60" y="1706.12" width="27.76" height="27.76" fill="#fbd07d"/><rect x="410.76" y="1706.12" width="27.76" height="27.76" fill="#f9f0b0"/><rect x="437.92" y="1706.12" width="27.76" height="27.76" fill="#f9f0b0"/><rect x="465.08" y="1706.12" width="27.76" height="27.76" fill="#d0e79c"/><rect x="492.24" y="1706.12" width="27.76" height="27.76" fill="#f8f4b9"/><rect x="519.40" y="1706.12" width="27.76" height="27.76" fill="#e9efa6"/><rect x="546.56" y="1706.12" width="27.76" height="27.76" fill="#f8f3b7"/><rect x="573.72" y="1706.12" width="27.76" height="27.76" fill="#f8f3b7"/><rect x="600.88" y="1706.12" width="27.76" height="27.76" fill="#f8f3b7"/><rect x="628.04" y="1706.12" width="27.76" height="27.76" fill="#fbdc88"/><rect x="655.20" y="1706.12" width="27.76" height="27.76" fill="#fbdc88"/><rect x="682.36" y="1706.12" width="27.76" height="27.76" fill="#80caa0"/><rect x="709.52" y="1706.12" width="27.76" height="27.76" fill="#f8f3b7"/><rect x="112.00" y="1733.28" width="27.76" height="27.76" fill="#fae293"/><rect x="139.16" y="1733.28" width="27.76" height="27.76" fill="#fbdc88"/><rect x="166.32" y="1733.28" width="27.76" height="27.76" fill="#f8f4b9"/><rect x="193.48" y="1733.28" width="27.76" height="27.76" fill="#80caa0"/><rect x="220.64" y="1733.28" width="27.76" height="27.76" fill="#fae89f"/><rect x="247.80" y="1733.28" width="27.76" height="27.76" fill="#f9edab"/><rect x="274.96" y="1733.28" width="27.76" height="27.76" fill="#f89a56"/><rect x="302.12" y="1733.28" width="27.76" height="27.76" fill="#80caa0"/><rect x="329.28" y="1733.28" width="27.76" height="27.76" fill="#f8f4b9"/><rect x="356.44" y="1733.28" width="27.76" height="27.76" fill="#dfec9a"/><rect x="383.60" y="1733.28" width="27.76" height="27.76" fill="#fbd07d"/><rect x="410.76" y="1733.28" width="27.76" height="27.76" fill="#fbab5e"/><rect x="437.92" y="1733.28" width="27.76" height="27.76" fill="#dfec9a"/><rect x="465.08" y="1733.28" width="27.76" height="27.76" fill="#f8f4b9"/><rect x="492.24" y="1733.28" width="27.76" height="27.76" fill="#e9efa6"/><rect x="519.40" y="1733.28" width="27.76" height="27.76" fill="#fbd07d"/><rect x="546.56" y="1733.28" width="27.76" height="27.76" fill="#ecf0aa"/><rect x="573.72" y="1733.28" width="27.76" height="27.76" fill="#f8f4b9"/><rect x="600.88" y="1733.28" width="27.76" height="27.76" fill="#fbb868"/><rect x="628.04" y="1733.28" width="27.76" height="27.76" fill="#fbb868"/><rect x="655.20" y="1733.28" width="27.76" height="27.76" fill="#f8f3b7"/><rect x="682.36" y="1733.28" width="27.76" height="27.76" fill="#d0384c"/><rect x="709.52" y="1733.28" width="27.76" height="27.76" fill="#fbc473"/><rect x="736.68" y="1733.28" width="27.76" height="27.76" fill="#f8f3b7"/><rect x="112.00" y="1760.44" width="27.76" height="27.76" fill="#f9edab"/><rect x="139.16" y="1760.44" width="27.76" height="27.76" fill="#f8f3b7"/><rect x="166.32" y="1760.44" width="27.76" height="27.76" fill="#fbb868"/><rect x="193.48" y="1760.44" width="27.76" height="27.76" fill="#ecf0aa"/><rect x="220.64" y="1760.44" width="27.76" height="27.76" fill="#d0e79c"/><rect x="247.80" y="1760.44" width="27.76" height="27.76" fill="#f8f4b9"/><rect x="274.96" y="1760.44" width="27.76" height="27.76" fill="#f8f4b9"/><rect x="302.12" y="1760.44" width="27.76" height="27.76" fill="#fae293"/><rect x="329.28" y="1760.44" width="27.76" height="27.76" fill="#3875b5"/><rect x="356.44" y="1760.44" width="27.76" height="27.76" fill="#f89a56"/><rect x="383.60" y="1760.44" width="27.76" height="27.76" fill="#fbc473"/><rect x="410.76" y="1760.44" width="27.76" height="27.76" fill="#fbc473"/><rect x="437.92" y="1760.44" width="27.76" height="27.76" fill="#fae293"/><rect x="465.08" y="1760.44" width="27.76" height="27.76" fill="#eef1ad"/><rect x="492.24" y="1760.44" width="27.76" height="27.76" fill="#f8f3b7"/><rect x="519.40" y="1760.44" width="27.76" height="27.76" fill="#f8f3b7"/><rect x="546.56" y="1760.44" width="27.76" height="27.76" fill="#fae89f"/><rect x="573.72" y="1760.44" width="27.76" height="27.76" fill="#eef1ad"/><rect x="600.88" y="1760.44" width="27.76" height="27.76" fill="#f8f4b9"/><rect x="628.04" y="1760.44" width="27.76" height="27.76" fill="#fbd07d"/><rect x="655.20" y="1760.44" width="27.76" height="27.76" fill="#f8f3b7"/><rect x="682.36" y="1760.44" width="27.76" height="27.76" fill="#fae89f"/><rect x="709.52" y="1760.44" width="27.76" height="27.76" fill="#f47845"/><rect x="736.68" y="1760.44" width="27.76" height="27.76" fill="#93d2a0"/><rect x="763.84" y="1760.44" width="27.76" height="27.76" fill="#f8f3b7"/><rect x="112.00" y="1787.60" width="27.76" height="27.76" fill="#f8f3b7"/><rect x="139.16" y="1787.60" width="27.76" height="27.76" fill="#f8f3b7"/><rect x="166.32" y="1787.60" width="27.76" height="27.76" fill="#d0e79c"/><rect x="193.48" y="1787.60" width="27.76" height="27.76" fill="#80caa0"/><rect x="220.64" y="1787.60" width="27.76" height="27.76" fill="#fae293"/><rect x="247.80" y="1787.60" width="27.76" height="27.76" fill="#fae293"/><rect x="274.96" y="1787.60" width="27.76" height="27.76" fill="#e15046"/><rect x="302.12" y="1787.60" width="27.76" height="27.76" fill="#d94449"/><rect x="329.28" y="1787.60" width="27.76" height="27.76" fill="#f47845"/><rect x="356.44" y="1787.60" width="27.76" height="27.76" fill="#eef1ad"/><rect x="383.60" y="1787.60" width="27.76" height="27.76" fill="#dfec9a"/><rect x="410.76" y="1787.60" width="27.76" height="27.76" fill="#f8f3b7"/><rect x="437.92" y="1787.60" width="27.76" height="27.76" fill="#f8f3b7"/><rect x="465.08" y="1787.60" width="27.76" height="27.76" fill="#f8f3b7"/><rect x="492.24" y="1787.60" width="27.76" height="27.76" fill="#f89a56"/><rect x="519.40" y="1787.60" width="27.76" height="27.76" fill="#93d2a0"/><rect x="546.56" y="1787.60" width="27.76" height="27.76" fill="#dfec9a"/><rect x="573.72" y="1787.60" width="27.76" height="27.76" fill="#f8f3b7"/><rect x="600.88" y="1787.60" width="27.76" height="27.76" fill="#fbc473"/><rect x="628.04" y="1787.60" width="27.76" height="27.76" fill="#fbdc88"/><rect x="655.20" y="1787.60" width="27.76" height="27.76" fill="#f8f3b7"/><rect x="682.36" y="1787.60" width="27.76" height="27.76" fill="#f8f3b7"/><rect x="709.52" y="1787.60" width="27.76" height="27.76" fill="#fbc473"/><rect x="736.68" y="1787.60" width="27.76" height="27.76" fill="#dfec9a"/><rect x="763.84" y="1787.60" width="27.76" height="27.76" fill="#f6894d"/><rect x="791.00" y="1787.60" width="27.76" height="27.76" fill="#f8f3b7"/></g>
<text x="95.2" y="1129.4" font-size="21" letter-spacing="-1.3" text-anchor="end">LSY–2</text>
<text transform="translate(118.7,1830.4) rotate(90)" font-size="21" letter-spacing="-1.3">LSY–2</text>
<text x="95.2" y="1156.5" font-size="21" letter-spacing="-1.3" text-anchor="end">CES–1</text>
<text transform="translate(145.8,1830.4) rotate(90)" font-size="21" letter-spacing="-1.3">CES–1</text>
<text x="95.2" y="1183.7" font-size="21" letter-spacing="-1.3" text-anchor="end">MEP–1</text>
<text transform="translate(173.0,1830.4) rotate(90)" font-size="21" letter-spacing="-1.3">MEP–1</text>
<text x="95.2" y="1210.9" font-size="21" letter-spacing="-1.3" text-anchor="end">AMA–1</text>
<text transform="translate(200.2,1830.4) rotate(90)" font-size="21" letter-spacing="-1.3">AMA–1</text>
<text x="95.2" y="1238.0" font-size="21" letter-spacing="-1.3" text-anchor="end">NHR–28</text>
<text transform="translate(227.3,1830.4) rotate(90)" font-size="21" letter-spacing="-1.3">NHR–28</text>
<text x="95.2" y="1265.2" font-size="21" letter-spacing="-1.3" text-anchor="end">FKH–10</text>
<text transform="translate(254.5,1830.4) rotate(90)" font-size="21" letter-spacing="-1.3">FKH–10</text>
<text x="95.2" y="1292.3" font-size="21" letter-spacing="-1.3" text-anchor="end">ZTF–11</text>
<text transform="translate(281.6,1830.4) rotate(90)" font-size="21" letter-spacing="-1.3">ZTF–11</text>
<text x="95.2" y="1319.5" font-size="21" letter-spacing="-1.3" text-anchor="end">CEH–22</text>
<text transform="translate(308.8,1830.4) rotate(90)" font-size="21" letter-spacing="-1.3">CEH–22</text>
<text x="95.2" y="1346.7" font-size="21" letter-spacing="-1.3" text-anchor="end">NHR–76</text>
<text transform="translate(336.0,1830.4) rotate(90)" font-size="21" letter-spacing="-1.3">NHR–76</text>
<text x="95.2" y="1373.8" font-size="21" letter-spacing="-1.3" text-anchor="end">NHR–237</text>
<text transform="translate(363.1,1830.4) rotate(90)" font-size="21" letter-spacing="-1.3">NHR–237</text>
<text x="95.2" y="1401.0" font-size="21" letter-spacing="-1.3" text-anchor="end">LIN–13</text>
<text transform="translate(390.3,1830.4) rotate(90)" font-size="21" letter-spacing="-1.3">LIN–13</text>
<text x="95.2" y="1428.1" font-size="21" letter-spacing="-1.3" text-anchor="end">CEH–39</text>
<text transform="translate(417.4,1830.4) rotate(90)" font-size="21" letter-spacing="-1.3">CEH–39</text>
<text x="95.2" y="1455.3" font-size="21" letter-spacing="-1.3" text-anchor="end">PAX–1</text>
<text transform="translate(444.6,1830.4) rotate(90)" font-size="21" letter-spacing="-1.3">PAX–1</text>
<text x="95.2" y="1482.5" font-size="21" letter-spacing="-1.3" text-anchor="end">MAB–5</text>
<text transform="translate(471.8,1830.4) rotate(90)" font-size="21" letter-spacing="-1.3">MAB–5</text>
<text x="95.2" y="1509.6" font-size="21" letter-spacing="-1.3" text-anchor="end">CEH–30</text>
<text transform="translate(498.9,1830.4) rotate(90)" font-size="21" letter-spacing="-1.3">CEH–30</text>
<text x="95.2" y="1536.8" font-size="21" letter-spacing="-1.3" text-anchor="end">CEH–26</text>
<text transform="translate(526.1,1830.4) rotate(90)" font-size="21" letter-spacing="-1.3">CEH–26</text>
<text x="95.2" y="1563.9" font-size="21" letter-spacing="-1.3" text-anchor="end">BLMP–1</text>
<text transform="translate(553.2,1830.4) rotate(90)" font-size="21" letter-spacing="-1.3">BLMP–1</text>
<text x="95.2" y="1591.1" font-size="21" letter-spacing="-1.3" text-anchor="end">ELT–3</text>
<text transform="translate(580.4,1830.4) rotate(90)" font-size="21" letter-spacing="-1.3">ELT–3</text>
<text x="95.2" y="1618.3" font-size="21" letter-spacing="-1.3" text-anchor="end">F23F12.9</text>
<text transform="translate(607.6,1830.4) rotate(90)" font-size="21" letter-spacing="-1.3">F23F12.9</text>
<text x="95.2" y="1645.4" font-size="21" letter-spacing="-1.3" text-anchor="end">NHR–2</text>
<text transform="translate(634.7,1830.4) rotate(90)" font-size="21" letter-spacing="-1.3">NHR–2</text>
<text x="95.2" y="1672.6" font-size="21" letter-spacing="-1.3" text-anchor="end">NHR–11</text>
<text transform="translate(661.9,1830.4) rotate(90)" font-size="21" letter-spacing="-1.3">NHR–11</text>
<text x="95.2" y="1699.7" font-size="21" letter-spacing="-1.3" text-anchor="end">UNC–62</text>
<text transform="translate(689.0,1830.4) rotate(90)" font-size="21" letter-spacing="-1.3">UNC–62</text>
<text x="95.2" y="1726.9" font-size="21" letter-spacing="-1.3" text-anchor="end">HLH–1</text>
<text transform="translate(716.2,1830.4) rotate(90)" font-size="21" letter-spacing="-1.3">HLH–1</text>
<text x="95.2" y="1754.1" font-size="21" letter-spacing="-1.3" text-anchor="end">UNC–39</text>
<text transform="translate(743.4,1830.4) rotate(90)" font-size="21" letter-spacing="-1.3">UNC–39</text>
<text x="95.2" y="1781.2" font-size="21" letter-spacing="-1.3" text-anchor="end">GEI–11</text>
<text transform="translate(770.5,1830.4) rotate(90)" font-size="21" letter-spacing="-1.3">GEI–11</text>
<text x="95.2" y="1808.4" font-size="21" letter-spacing="-1.3" text-anchor="end">NHR–12</text>
<text transform="translate(797.7,1830.4) rotate(90)" font-size="21" letter-spacing="-1.3">NHR–12</text>
<rect x="302.8" y="809.7" width="321.40000000000003" height="20.399999999999977" fill="url(#gh)" stroke="#000" stroke-width="2"/>
<text x="292.8" y="829" font-size="24.5" text-anchor="end">-0.4</text>
<text x="632.2" y="829" font-size="24.5">+0.4</text>
<text x="463.5" y="794.6" font-size="24.5" text-anchor="middle">Δ Co-association Strength</text>
<rect x="302.8" y="1932.9" width="321.40000000000003" height="21.59999999999991" fill="url(#gh)" stroke="#000" stroke-width="2"/>
<text x="292.8" y="1953" font-size="24.5" text-anchor="end">-0.1</text>
<text x="632.2" y="1953" font-size="24.5">+0.1</text>
<text x="463.5" y="1983.5" font-size="24.5" text-anchor="middle">Δ Co-association Strength</text>
<path d="M118,991L393,1266" stroke="#000" stroke-width="2.2" stroke-dasharray="10,7" fill="none"/>
<path d="M514,1387L790,1663" stroke="#000" stroke-width="2.2" stroke-dasharray="10,7" fill="none"/>
<path d="M0,0 L-13,-6 L-9,0 L-13,6 Z" transform="translate(106.7,979.7) rotate(-135)" fill="#000"/>
<path d="M0,0 L-13,-6 L-9,0 L-13,6 Z" transform="translate(801.4,1674.4) rotate(45)" fill="#000"/>
<path d="M139,1090L413.7,1364.7" stroke="#000" stroke-width="2.2" stroke-dasharray="10,7" fill="none"/>
<path d="M534.6,1485.6L806,1757" stroke="#000" stroke-width="2.2" stroke-dasharray="10,7" fill="none"/>
<path d="M0,0 L-13,-6 L-9,0 L-13,6 Z" transform="translate(127.7,1078.7) rotate(-135)" fill="#000"/>
<path d="M0,0 L-13,-6 L-9,0 L-13,6 Z" transform="translate(816.5,1767.5) rotate(45)" fill="#000"/>
<text transform="translate(410,1299.5) rotate(45)" font-size="24">Larval L1</text>
<text transform="translate(438.5,1399) rotate(45)" font-size="24">Embryo</text>
<g shape-rendering="crispEdges"><rect x="1411.88" y="857.50" width="26.52" height="26.56" fill="#f8f3b7"/><rect x="1385.96" y="883.46" width="26.52" height="26.56" fill="#f8f3b7"/><rect x="1411.88" y="883.46" width="26.52" height="26.56" fill="#f47845"/><rect x="1360.04" y="909.42" width="26.52" height="26.56" fill="#f8f3b7"/><rect x="1385.96" y="909.42" width="26.52" height="26.56" fill="#c22f4a"/><rect x="1411.88" y="909.42" width="26.52" height="26.56" fill="#d94449"/><rect x="1334.12" y="935.38" width="26.52" height="26.56" fill="#f8f3b7"/><rect x="1360.04" y="935.38" width="26.52" height="26.56" fill="#f89a56"/><rect x="1385.96" y="935.38" width="26.52" height="26.56" fill="#fae293"/><rect x="1411.88" y="935.38" width="26.52" height="26.56" fill="#fbb868"/><rect x="1308.20" y="961.34" width="26.52" height="26.56" fill="#f8f3b7"/><rect x="1334.12" y="961.34" width="26.52" height="26.56" fill="#f9edab"/><rect x="1360.04" y="961.34" width="26.52" height="26.56" fill="#fbc473"/><rect x="1385.96" y="961.34" width="26.52" height="26.56" fill="#fbb868"/><rect x="1411.88" y="961.34" width="26.52" height="26.56" fill="#fbc473"/><rect x="1282.28" y="987.30" width="26.52" height="26.56" fill="#f8f3b7"/><rect x="1308.20" y="987.30" width="26.52" height="26.56" fill="#fbc473"/><rect x="1334.12" y="987.30" width="26.52" height="26.56" fill="#f2f2b1"/><rect x="1360.04" y="987.30" width="26.52" height="26.56" fill="#f47845"/><rect x="1385.96" y="987.30" width="26.52" height="26.56" fill="#fbab5e"/><rect x="1411.88" y="987.30" width="26.52" height="26.56" fill="#f6894d"/><rect x="1256.36" y="1013.26" width="26.52" height="26.56" fill="#f8f3b7"/><rect x="1282.28" y="1013.26" width="26.52" height="26.56" fill="#fbb868"/><rect x="1308.20" y="1013.26" width="26.52" height="26.56" fill="#fbc473"/><rect x="1334.12" y="1013.26" width="26.52" height="26.56" fill="#fbc473"/><rect x="1360.04" y="1013.26" width="26.52" height="26.56" fill="#fbab5e"/><rect x="1385.96" y="1013.26" width="26.52" height="26.56" fill="#f0683f"/><rect x="1411.88" y="1013.26" width="26.52" height="26.56" fill="#fbdc88"/><rect x="1230.44" y="1039.22" width="26.52" height="26.56" fill="#f8f3b7"/><rect x="1256.36" y="1039.22" width="26.52" height="26.56" fill="#f8f3b7"/><rect x="1282.28" y="1039.22" width="26.52" height="26.56" fill="#fbc473"/><rect x="1308.20" y="1039.22" width="26.52" height="26.56" fill="#f9edab"/><rect x="1334.12" y="1039.22" width="26.52" height="26.56" fill="#f8f3b7"/><rect x="1360.04" y="1039.22" width="26.52" height="26.56" fill="#f89a56"/><rect x="1385.96" y="1039.22" width="26.52" height="26.56" fill="#f89a56"/><rect x="1411.88" y="1039.22" width="26.52" height="26.56" fill="#fbc473"/><rect x="1204.52" y="1065.18" width="26.52" height="26.56" fill="#f8f3b7"/><rect x="1230.44" y="1065.18" width="26.52" height="26.56" fill="#fbb868"/><rect x="1256.36" y="1065.18" width="26.52" height="26.56" fill="#f0683f"/><rect x="1282.28" y="1065.18" width="26.52" height="26.56" fill="#d0384c"/><rect x="1308.20" y="1065.18" width="26.52" height="26.56" fill="#f89a56"/><rect x="1334.12" y="1065.18" width="26.52" height="26.56" fill="#f47845"/><rect x="1360.04" y="1065.18" width="26.52" height="26.56" fill="#e15046"/><rect x="1385.96" y="1065.18" width="26.52" height="26.56" fill="#e95c42"/><rect x="1411.88" y="1065.18" width="26.52" height="26.56" fill="#e15046"/><rect x="1178.60" y="1091.14" width="26.52" height="26.56" fill="#f8f3b7"/><rect x="1204.52" y="1091.14" width="26.52" height="26.56" fill="#f9edab"/><rect x="1230.44" y="1091.14" width="26.52" height="26.56" fill="#f8f4b9"/><rect x="1256.36" y="1091.14" width="26.52" height="26.56" fill="#fbc473"/><rect x="1282.28" y="1091.14" width="26.52" height="26.56" fill="#fbab5e"/><rect x="1308.20" y="1091.14" width="26.52" height="26.56" fill="#fbb868"/><rect x="1334.12" y="1091.14" width="26.52" height="26.56" fill="#fbd07d"/><rect x="1360.04" y="1091.14" width="26.52" height="26.56" fill="#e15046"/><rect x="1385.96" y="1091.14" width="26.52" height="26.56" fill="#e95c42"/><rect x="1411.88" y="1091.14" width="26.52" height="26.56" fill="#e95c42"/><rect x="1152.68" y="1117.10" width="26.52" height="26.56" fill="#f8f3b7"/><rect x="1178.60" y="1117.10" width="26.52" height="26.56" fill="#3084bc"/><rect x="1204.52" y="1117.10" width="26.52" height="26.56" fill="#93d2a0"/><rect x="1230.44" y="1117.10" width="26.52" height="26.56" fill="#6ec3a0"/><rect x="1256.36" y="1117.10" width="26.52" height="26.56" fill="#a5d9a0"/><rect x="1282.28" y="1117.10" width="26.52" height="26.56" fill="#dfec9a"/><rect x="1308.20" y="1117.10" width="26.52" height="26.56" fill="#dfec9a"/><rect x="1334.12" y="1117.10" width="26.52" height="26.56" fill="#dfec9a"/><rect x="1360.04" y="1117.10" width="26.52" height="26.56" fill="#e5eea2"/><rect x="1385.96" y="1117.10" width="26.52" height="26.56" fill="#e5eea2"/><rect x="1411.88" y="1117.10" width="26.52" height="26.56" fill="#e5eea2"/><rect x="1126.76" y="1143.06" width="26.52" height="26.56" fill="#f8f3b7"/><rect x="1152.68" y="1143.06" width="26.52" height="26.56" fill="#4066ae"/><rect x="1178.60" y="1143.06" width="26.52" height="26.56" fill="#b4de9e"/><rect x="1204.52" y="1143.06" width="26.52" height="26.56" fill="#c2e29d"/><rect x="1230.44" y="1143.06" width="26.52" height="26.56" fill="#ecf0aa"/><rect x="1256.36" y="1143.06" width="26.52" height="26.56" fill="#c2e29d"/><rect x="1282.28" y="1143.06" width="26.52" height="26.56" fill="#fae293"/><rect x="1308.20" y="1143.06" width="26.52" height="26.56" fill="#f8f3b7"/><rect x="1334.12" y="1143.06" width="26.52" height="26.56" fill="#f9edab"/><rect x="1360.04" y="1143.06" width="26.52" height="26.56" fill="#f47845"/><rect x="1385.96" y="1143.06" width="26.52" height="26.56" fill="#fbab5e"/><rect x="1411.88" y="1143.06" width="26.52" height="26.56" fill="#fbc473"/><rect x="1100.84" y="1169.02" width="26.52" height="26.56" fill="#f8f3b7"/><rect x="1126.76" y="1169.02" width="26.52" height="26.56" fill="#e5eea2"/><rect x="1152.68" y="1169.02" width="26.52" height="26.56" fill="#f89a56"/><rect x="1178.60" y="1169.02" width="26.52" height="26.56" fill="#f8f4b9"/><rect x="1204.52" y="1169.02" width="26.52" height="26.56" fill="#f8f4b9"/><rect x="1230.44" y="1169.02" width="26.52" height="26.56" fill="#f2f2b1"/><rect x="1256.36" y="1169.02" width="26.52" height="26.56" fill="#f2f2b1"/><rect x="1282.28" y="1169.02" width="26.52" height="26.56" fill="#f8f3b7"/><rect x="1308.20" y="1169.02" width="26.52" height="26.56" fill="#f8f3b7"/><rect x="1334.12" y="1169.02" width="26.52" height="26.56" fill="#fbd07d"/><rect x="1360.04" y="1169.02" width="26.52" height="26.56" fill="#f8f3b7"/><rect x="1385.96" y="1169.02" width="26.52" height="26.56" fill="#f8f3b7"/><rect x="1411.88" y="1169.02" width="26.52" height="26.56" fill="#fbb868"/><rect x="1074.92" y="1194.98" width="26.52" height="26.56" fill="#f8f3b7"/><rect x="1100.84" y="1194.98" width="26.52" height="26.56" fill="#f8f4b9"/><rect x="1126.76" y="1194.98" width="26.52" height="26.56" fill="#dfec9a"/><rect x="1152.68" y="1194.98" width="26.52" height="26.56" fill="#51aea7"/><rect x="1178.60" y="1194.98" width="26.52" height="26.56" fill="#c2e29d"/><rect x="1204.52" y="1194.98" width="26.52" height="26.56" fill="#d0e79c"/><rect x="1230.44" y="1194.98" width="26.52" height="26.56" fill="#f8f3b7"/><rect x="1256.36" y="1194.98" width="26.52" height="26.56" fill="#f8f4b9"/><rect x="1282.28" y="1194.98" width="26.52" height="26.56" fill="#f2f2b1"/><rect x="1308.20" y="1194.98" width="26.52" height="26.56" fill="#ecf0aa"/><rect x="1334.12" y="1194.98" width="26.52" height="26.56" fill="#f2f2b1"/><rect x="1360.04" y="1194.98" width="26.52" height="26.56" fill="#f8f4b9"/><rect x="1385.96" y="1194.98" width="26.52" height="26.56" fill="#f8f4b9"/><rect x="1411.88" y="1194.98" width="26.52" height="26.56" fill="#eef1ad"/><rect x="1049.00" y="1220.94" width="26.52" height="26.56" fill="#f8f3b7"/><rect x="1074.92" y="1220.94" width="26.52" height="26.56" fill="#a5d9a0"/><rect x="1100.84" y="1220.94" width="26.52" height="26.56" fill="#d0e79c"/><rect x="1126.76" y="1220.94" width="26.52" height="26.56" fill="#c2e29d"/><rect x="1152.68" y="1220.94" width="26.52" height="26.56" fill="#b4de9e"/><rect x="1178.60" y="1220.94" width="26.52" height="26.56" fill="#f2f2b1"/><rect x="1204.52" y="1220.94" width="26.52" height="26.56" fill="#fae293"/><rect x="1230.44" y="1220.94" width="26.52" height="26.56" fill="#d0e79c"/><rect x="1256.36" y="1220.94" width="26.52" height="26.56" fill="#e5eea2"/><rect x="1282.28" y="1220.94" width="26.52" height="26.56" fill="#f8f4b9"/><rect x="1308.20" y="1220.94" width="26.52" height="26.56" fill="#d0e79c"/><rect x="1334.12" y="1220.94" width="26.52" height="26.56" fill="#f8f4b9"/><rect x="1360.04" y="1220.94" width="26.52" height="26.56" fill="#f4f3b4"/><rect x="1385.96" y="1220.94" width="26.52" height="26.56" fill="#e9efa6"/><rect x="1411.88" y="1220.94" width="26.52" height="26.56" fill="#f8f3b7"/></g>
<text x="1451.4" y="877.3" font-size="20.5">GEI –11</text>
<text x="1451.4" y="903.2" font-size="20.5">ELT– 3</text>
<text x="1451.4" y="929.2" font-size="20.5">BLMP –1</text>
<text x="1451.4" y="955.2" font-size="20.5">NHR –76</text>
<text x="1451.4" y="981.1" font-size="20.5">AMA –1</text>
<text x="1451.4" y="1007.1" font-size="20.5">NHR –11</text>
<text x="1451.4" y="1033.0" font-size="20.5">NHR –12</text>
<text x="1451.4" y="1059.0" font-size="20.5">NHR –28</text>
<text x="1451.4" y="1085.0" font-size="20.5">LSY –2</text>
<text x="1451.4" y="1110.9" font-size="20.5">LIN –13</text>
<text x="1451.4" y="1136.9" font-size="20.5">CES –1</text>
<text x="1451.4" y="1162.8" font-size="20.5">NHR –237</text>
<text x="1451.4" y="1188.8" font-size="20.5">FKH –10</text>
<text x="1451.4" y="1214.8" font-size="20.5">ZTF –11</text>
<text x="1451.4" y="1240.7" font-size="20.5">UNC –62</text>
<text transform="translate(1068.8,1257) rotate(-90)" font-size="20.5" text-anchor="end">UNC –62</text>
<text transform="translate(1094.7,1257) rotate(-90)" font-size="20.5" text-anchor="end">ZTF –11</text>
<text transform="translate(1120.6,1257) rotate(-90)" font-size="20.5" text-anchor="end">FKH –10</text>
<text transform="translate(1146.5,1257) rotate(-90)" font-size="20.5" text-anchor="end">NHR –237</text>
<text transform="translate(1172.4,1257) rotate(-90)" font-size="20.5" text-anchor="end">CES –1</text>
<text transform="translate(1198.4,1257) rotate(-90)" font-size="20.5" text-anchor="end">LIN –13</text>
<text transform="translate(1224.3,1257) rotate(-90)" font-size="20.5" text-anchor="end">LSY –2</text>
<text transform="translate(1250.2,1257) rotate(-90)" font-size="20.5" text-anchor="end">NHR –28</text>
<text transform="translate(1276.1,1257) rotate(-90)" font-size="20.5" text-anchor="end">NHR –12</text>
<text transform="translate(1302.0,1257) rotate(-90)" font-size="20.5" text-anchor="end">NHR –11</text>
<text transform="translate(1328.0,1257) rotate(-90)" font-size="20.5" text-anchor="end">AMA –1</text>
<text transform="translate(1353.9,1257) rotate(-90)" font-size="20.5" text-anchor="end">NHR –76</text>
<text transform="translate(1379.8,1257) rotate(-90)" font-size="20.5" text-anchor="end">BLMP –1</text>
<text transform="translate(1405.7,1257) rotate(-90)" font-size="20.5" text-anchor="end">ELT –3</text>
<text transform="translate(1431.6,1257) rotate(-90)" font-size="20.5" text-anchor="end">GEI –11</text>
<rect x="1011.8" y="869" width="21.799999999999955" height="321.29999999999995" fill="url(#gv)" stroke="#000" stroke-width="2"/>
<text transform="translate(1032.6,862) rotate(-90)" font-size="24.5">+0.4</text>
<text transform="translate(1032.6,1200) rotate(-90)" font-size="24.5" text-anchor="end">-0.4</text>
<text transform="translate(995.5,1030) rotate(-90)" font-size="24.5" text-anchor="middle">Δ Co-association Strength</text>
<text x="1246.4" y="837.8" font-size="24.3" text-anchor="middle">Embryo vs. Larval L1</text>
<g shape-rendering="crispEdges"><rect x="2000.84" y="856.90" width="23.56" height="23.54" fill="#f8f3b7"/><rect x="1977.88" y="879.84" width="23.56" height="23.54" fill="#f8f3b7"/><rect x="2000.84" y="879.84" width="23.56" height="23.54" fill="#fae293"/><rect x="1954.92" y="902.77" width="23.56" height="23.54" fill="#f8f3b7"/><rect x="1977.88" y="902.77" width="23.56" height="23.54" fill="#f2f2b1"/><rect x="2000.84" y="902.77" width="23.56" height="23.54" fill="#fae293"/><rect x="1931.96" y="925.71" width="23.56" height="23.54" fill="#f8f3b7"/><rect x="1954.92" y="925.71" width="23.56" height="23.54" fill="#fbdc88"/><rect x="1977.88" y="925.71" width="23.56" height="23.54" fill="#fae89f"/><rect x="2000.84" y="925.71" width="23.56" height="23.54" fill="#fae293"/><rect x="1909.01" y="948.64" width="23.56" height="23.54" fill="#f8f3b7"/><rect x="1931.96" y="948.64" width="23.56" height="23.54" fill="#f8f3b7"/><rect x="1954.92" y="948.64" width="23.56" height="23.54" fill="#eff1ae"/><rect x="1977.88" y="948.64" width="23.56" height="23.54" fill="#e9efa6"/><rect x="2000.84" y="948.64" width="23.56" height="23.54" fill="#eff1ae"/><rect x="1886.05" y="971.58" width="23.56" height="23.54" fill="#f8f3b7"/><rect x="1909.01" y="971.58" width="23.56" height="23.54" fill="#f8f3b7"/><rect x="1931.96" y="971.58" width="23.56" height="23.54" fill="#fbdc88"/><rect x="1954.92" y="971.58" width="23.56" height="23.54" fill="#f9edab"/><rect x="1977.88" y="971.58" width="23.56" height="23.54" fill="#fae293"/><rect x="2000.84" y="971.58" width="23.56" height="23.54" fill="#c22f4a"/><rect x="1863.09" y="994.51" width="23.56" height="23.54" fill="#f8f3b7"/><rect x="1886.05" y="994.51" width="23.56" height="23.54" fill="#fbd07d"/><rect x="1909.01" y="994.51" width="23.56" height="23.54" fill="#fae293"/><rect x="1931.96" y="994.51" width="23.56" height="23.54" fill="#fbdc88"/><rect x="1954.92" y="994.51" width="23.56" height="23.54" fill="#fae89f"/><rect x="1977.88" y="994.51" width="23.56" height="23.54" fill="#fbc473"/><rect x="2000.84" y="994.51" width="23.56" height="23.54" fill="#fae293"/><rect x="1840.13" y="1017.45" width="23.56" height="23.54" fill="#f8f3b7"/><rect x="1863.09" y="1017.45" width="23.56" height="23.54" fill="#f8f3b7"/><rect x="1886.05" y="1017.45" width="23.56" height="23.54" fill="#fbc473"/><rect x="1909.01" y="1017.45" width="23.56" height="23.54" fill="#fbd07d"/><rect x="1931.96" y="1017.45" width="23.56" height="23.54" fill="#f8f3b7"/><rect x="1954.92" y="1017.45" width="23.56" height="23.54" fill="#fae293"/><rect x="1977.88" y="1017.45" width="23.56" height="23.54" fill="#fae293"/><rect x="2000.84" y="1017.45" width="23.56" height="23.54" fill="#fae293"/><rect x="1817.17" y="1040.38" width="23.56" height="23.54" fill="#f8f3b7"/><rect x="1840.13" y="1040.38" width="23.56" height="23.54" fill="#fbdc88"/><rect x="1863.09" y="1040.38" width="23.56" height="23.54" fill="#f9edab"/><rect x="1886.05" y="1040.38" width="23.56" height="23.54" fill="#fae89f"/><rect x="1909.01" y="1040.38" width="23.56" height="23.54" fill="#fbdc88"/><rect x="1931.96" y="1040.38" width="23.56" height="23.54" fill="#fbd07d"/><rect x="1954.92" y="1040.38" width="23.56" height="23.54" fill="#fbd07d"/><rect x="1977.88" y="1040.38" width="23.56" height="23.54" fill="#fbd07d"/><rect x="2000.84" y="1040.38" width="23.56" height="23.54" fill="#f47845"/><rect x="1794.21" y="1063.32" width="23.56" height="23.54" fill="#f8f3b7"/><rect x="1817.17" y="1063.32" width="23.56" height="23.54" fill="#fbd07d"/><rect x="1840.13" y="1063.32" width="23.56" height="23.54" fill="#fbc473"/><rect x="1863.09" y="1063.32" width="23.56" height="23.54" fill="#fae89f"/><rect x="1886.05" y="1063.32" width="23.56" height="23.54" fill="#fbc473"/><rect x="1909.01" y="1063.32" width="23.56" height="23.54" fill="#fbd07d"/><rect x="1931.96" y="1063.32" width="23.56" height="23.54" fill="#fbc473"/><rect x="1954.92" y="1063.32" width="23.56" height="23.54" fill="#f2f2b1"/><rect x="1977.88" y="1063.32" width="23.56" height="23.54" fill="#f9f0b0"/><rect x="2000.84" y="1063.32" width="23.56" height="23.54" fill="#fbc473"/><rect x="1771.25" y="1086.25" width="23.56" height="23.54" fill="#f8f3b7"/><rect x="1794.21" y="1086.25" width="23.56" height="23.54" fill="#f8f3b7"/><rect x="1817.17" y="1086.25" width="23.56" height="23.54" fill="#fae89f"/><rect x="1840.13" y="1086.25" width="23.56" height="23.54" fill="#fbc473"/><rect x="1863.09" y="1086.25" width="23.56" height="23.54" fill="#fbd07d"/><rect x="1886.05" y="1086.25" width="23.56" height="23.54" fill="#f47845"/><rect x="1909.01" y="1086.25" width="23.56" height="23.54" fill="#fbc473"/><rect x="1931.96" y="1086.25" width="23.56" height="23.54" fill="#fbdc88"/><rect x="1954.92" y="1086.25" width="23.56" height="23.54" fill="#fbc473"/><rect x="1977.88" y="1086.25" width="23.56" height="23.54" fill="#fbc473"/><rect x="2000.84" y="1086.25" width="23.56" height="23.54" fill="#e95c42"/><rect x="1748.29" y="1109.19" width="23.56" height="23.54" fill="#f8f3b7"/><rect x="1771.25" y="1109.19" width="23.56" height="23.54" fill="#fbdc88"/><rect x="1794.21" y="1109.19" width="23.56" height="23.54" fill="#fbdc88"/><rect x="1817.17" y="1109.19" width="23.56" height="23.54" fill="#f9f0b0"/><rect x="1840.13" y="1109.19" width="23.56" height="23.54" fill="#fae293"/><rect x="1863.09" y="1109.19" width="23.56" height="23.54" fill="#fbdc88"/><rect x="1886.05" y="1109.19" width="23.56" height="23.54" fill="#fbb868"/><rect x="1909.01" y="1109.19" width="23.56" height="23.54" fill="#fae293"/><rect x="1931.96" y="1109.19" width="23.56" height="23.54" fill="#f2f2b1"/><rect x="1954.92" y="1109.19" width="23.56" height="23.54" fill="#fbd07d"/><rect x="1977.88" y="1109.19" width="23.56" height="23.54" fill="#f9edab"/><rect x="2000.84" y="1109.19" width="23.56" height="23.54" fill="#fae293"/><rect x="1725.34" y="1132.12" width="23.56" height="23.54" fill="#f8f3b7"/><rect x="1748.29" y="1132.12" width="23.56" height="23.54" fill="#f8f3b7"/><rect x="1771.25" y="1132.12" width="23.56" height="23.54" fill="#fae89f"/><rect x="1794.21" y="1132.12" width="23.56" height="23.54" fill="#dfec9a"/><rect x="1817.17" y="1132.12" width="23.56" height="23.54" fill="#ecf0aa"/><rect x="1840.13" y="1132.12" width="23.56" height="23.54" fill="#f9f0b0"/><rect x="1863.09" y="1132.12" width="23.56" height="23.54" fill="#f9edab"/><rect x="1886.05" y="1132.12" width="23.56" height="23.54" fill="#fbdc88"/><rect x="1909.01" y="1132.12" width="23.56" height="23.54" fill="#f8f3b7"/><rect x="1931.96" y="1132.12" width="23.56" height="23.54" fill="#d0e79c"/><rect x="1954.92" y="1132.12" width="23.56" height="23.54" fill="#f9f0b0"/><rect x="1977.88" y="1132.12" width="23.56" height="23.54" fill="#fae89f"/><rect x="2000.84" y="1132.12" width="23.56" height="23.54" fill="#fae293"/><rect x="1702.38" y="1155.06" width="23.56" height="23.54" fill="#f9f0b0"/><rect x="1725.34" y="1155.06" width="23.56" height="23.54" fill="#3084bc"/><rect x="1748.29" y="1155.06" width="23.56" height="23.54" fill="#3875b5"/><rect x="1771.25" y="1155.06" width="23.56" height="23.54" fill="#51aea7"/><rect x="1794.21" y="1155.06" width="23.56" height="23.54" fill="#ecf0aa"/><rect x="1817.17" y="1155.06" width="23.56" height="23.54" fill="#f8f3b7"/><rect x="1840.13" y="1155.06" width="23.56" height="23.54" fill="#dfec9a"/><rect x="1863.09" y="1155.06" width="23.56" height="23.54" fill="#f8f4b9"/><rect x="1886.05" y="1155.06" width="23.56" height="23.54" fill="#b4de9e"/><rect x="1909.01" y="1155.06" width="23.56" height="23.54" fill="#4066ae"/><rect x="1931.96" y="1155.06" width="23.56" height="23.54" fill="#93d2a0"/><rect x="1954.92" y="1155.06" width="23.56" height="23.54" fill="#f2f2b1"/><rect x="1977.88" y="1155.06" width="23.56" height="23.54" fill="#ecf0aa"/><rect x="2000.84" y="1155.06" width="23.56" height="23.54" fill="#d0e79c"/><rect x="1679.42" y="1177.99" width="23.56" height="23.54" fill="#f8f3b7"/><rect x="1702.38" y="1177.99" width="23.56" height="23.54" fill="#3875b5"/><rect x="1725.34" y="1177.99" width="23.56" height="23.54" fill="#d0e79c"/><rect x="1748.29" y="1177.99" width="23.56" height="23.54" fill="#c2e29d"/><rect x="1771.25" y="1177.99" width="23.56" height="23.54" fill="#f8f3b7"/><rect x="1794.21" y="1177.99" width="23.56" height="23.54" fill="#ecf0aa"/><rect x="1817.17" y="1177.99" width="23.56" height="23.54" fill="#f2f2b1"/><rect x="1840.13" y="1177.99" width="23.56" height="23.54" fill="#f2f2b1"/><rect x="1863.09" y="1177.99" width="23.56" height="23.54" fill="#f8f4b9"/><rect x="1886.05" y="1177.99" width="23.56" height="23.54" fill="#f8f3b7"/><rect x="1909.01" y="1177.99" width="23.56" height="23.54" fill="#f8f4b9"/><rect x="1931.96" y="1177.99" width="23.56" height="23.54" fill="#f4f3b4"/><rect x="1954.92" y="1177.99" width="23.56" height="23.54" fill="#f8f3b7"/><rect x="1977.88" y="1177.99" width="23.56" height="23.54" fill="#fae89f"/><rect x="2000.84" y="1177.99" width="23.56" height="23.54" fill="#f8f4b9"/><rect x="1656.46" y="1200.93" width="23.56" height="23.54" fill="#f8f3b7"/><rect x="1679.42" y="1200.93" width="23.56" height="23.54" fill="#b4de9e"/><rect x="1702.38" y="1200.93" width="23.56" height="23.54" fill="#b4de9e"/><rect x="1725.34" y="1200.93" width="23.56" height="23.54" fill="#b4de9e"/><rect x="1748.29" y="1200.93" width="23.56" height="23.54" fill="#b4de9e"/><rect x="1771.25" y="1200.93" width="23.56" height="23.54" fill="#e5eea2"/><rect x="1794.21" y="1200.93" width="23.56" height="23.54" fill="#e5eea2"/><rect x="1817.17" y="1200.93" width="23.56" height="23.54" fill="#dfec9a"/><rect x="1840.13" y="1200.93" width="23.56" height="23.54" fill="#e9efa6"/><rect x="1863.09" y="1200.93" width="23.56" height="23.54" fill="#b4de9e"/><rect x="1886.05" y="1200.93" width="23.56" height="23.54" fill="#f8f3b7"/><rect x="1909.01" y="1200.93" width="23.56" height="23.54" fill="#dfec9a"/><rect x="1931.96" y="1200.93" width="23.56" height="23.54" fill="#f4f3b4"/><rect x="1954.92" y="1200.93" width="23.56" height="23.54" fill="#d0e79c"/><rect x="1977.88" y="1200.93" width="23.56" height="23.54" fill="#f8f4b9"/><rect x="2000.84" y="1200.93" width="23.56" height="23.54" fill="#f8f3b7"/><rect x="1633.50" y="1223.86" width="23.56" height="23.54" fill="#f8f3b7"/><rect x="1656.46" y="1223.86" width="23.56" height="23.54" fill="#e9efa6"/><rect x="1679.42" y="1223.86" width="23.56" height="23.54" fill="#b4de9e"/><rect x="1702.38" y="1223.86" width="23.56" height="23.54" fill="#3b92b5"/><rect x="1725.34" y="1223.86" width="23.56" height="23.54" fill="#3b92b5"/><rect x="1748.29" y="1223.86" width="23.56" height="23.54" fill="#46a0ae"/><rect x="1771.25" y="1223.86" width="23.56" height="23.54" fill="#d0e79c"/><rect x="1794.21" y="1223.86" width="23.56" height="23.54" fill="#b4de9e"/><rect x="1817.17" y="1223.86" width="23.56" height="23.54" fill="#d9ea9b"/><rect x="1840.13" y="1223.86" width="23.56" height="23.54" fill="#ecf0aa"/><rect x="1863.09" y="1223.86" width="23.56" height="23.54" fill="#ecf0aa"/><rect x="1886.05" y="1223.86" width="23.56" height="23.54" fill="#fbd07d"/><rect x="1909.01" y="1223.86" width="23.56" height="23.54" fill="#ecf0aa"/><rect x="1931.96" y="1223.86" width="23.56" height="23.54" fill="#6ec3a0"/><rect x="1954.92" y="1223.86" width="23.56" height="23.54" fill="#fbc473"/><rect x="1977.88" y="1223.86" width="23.56" height="23.54" fill="#e9efa6"/><rect x="2000.84" y="1223.86" width="23.56" height="23.54" fill="#f8f3b7"/></g>
<text x="2035.9" y="875.2" font-size="20.5">SAX –3</text>
<text x="2035.9" y="898.1" font-size="20.5">UNC –62</text>
<text x="2035.9" y="921.0" font-size="20.5">ZTF –11</text>
<text x="2035.9" y="944.0" font-size="20.5">NHR –11</text>
<text x="2035.9" y="966.9" font-size="20.5">NHR –237</text>
<text x="2035.9" y="989.8" font-size="20.5">ZAG –1</text>
<text x="2035.9" y="1012.8" font-size="20.5">AMA –1</text>
<text x="2035.9" y="1035.7" font-size="20.5">ZTF –4</text>
<text x="2035.9" y="1058.6" font-size="20.5">FOS –1</text>
<text x="2035.9" y="1081.6" font-size="20.5">NHR –12</text>
<text x="2035.9" y="1104.5" font-size="20.5">LIN –13</text>
<text x="2035.9" y="1127.5" font-size="20.5">GEI –11</text>
<text x="2035.9" y="1150.4" font-size="20.5">LSY–2</text>
<text x="2035.9" y="1173.3" font-size="20.5">SKN –1</text>
<text x="2035.9" y="1196.3" font-size="20.5">NHR –77</text>
<text x="2035.9" y="1219.2" font-size="20.5">ALY –2</text>
<text x="2035.9" y="1242.1" font-size="20.5">LIN –39</text>
<text transform="translate(1651.8,1258.3) rotate(-90)" font-size="20.5" text-anchor="end">LIN –39</text>
<text transform="translate(1674.7,1258.3) rotate(-90)" font-size="20.5" text-anchor="end">ALY –2</text>
<text transform="translate(1697.7,1258.3) rotate(-90)" font-size="20.5" text-anchor="end">NHR –77</text>
<text transform="translate(1720.7,1258.3) rotate(-90)" font-size="20.5" text-anchor="end">SKN –1</text>
<text transform="translate(1743.6,1258.3) rotate(-90)" font-size="20.5" text-anchor="end">LSY –2</text>
<text transform="translate(1766.6,1258.3) rotate(-90)" font-size="20.5" text-anchor="end">GEI –11</text>
<text transform="translate(1789.5,1258.3) rotate(-90)" font-size="20.5" text-anchor="end">LIN –13</text>
<text transform="translate(1812.5,1258.3) rotate(-90)" font-size="20.5" text-anchor="end">NHR –12</text>
<text transform="translate(1835.5,1258.3) rotate(-90)" font-size="20.5" text-anchor="end">FOS –1</text>
<text transform="translate(1858.4,1258.3) rotate(-90)" font-size="20.5" text-anchor="end">ZTF –4</text>
<text transform="translate(1881.4,1258.3) rotate(-90)" font-size="20.5" text-anchor="end">AMA –1</text>
<text transform="translate(1904.3,1258.3) rotate(-90)" font-size="20.5" text-anchor="end">ZAG –1</text>
<text transform="translate(1927.3,1258.3) rotate(-90)" font-size="20.5" text-anchor="end">NHR– 237</text>
<text transform="translate(1950.2,1258.3) rotate(-90)" font-size="20.5" text-anchor="end">NHR –11</text>
<text transform="translate(1973.2,1258.3) rotate(-90)" font-size="20.5" text-anchor="end">ZTF –11</text>
<text transform="translate(1996.2,1258.3) rotate(-90)" font-size="20.5" text-anchor="end">UNC –62</text>
<text transform="translate(2019.1,1258.3) rotate(-90)" font-size="20.5" text-anchor="end">SAX –3</text>
<rect x="1609.9" y="878.7" width="21.5" height="321.20000000000005" fill="url(#gv)" stroke="#000" stroke-width="2"/>
<text transform="translate(1630.4,871) rotate(-90)" font-size="24.5">+0.4</text>
<text transform="translate(1630.4,1204) rotate(-90)" font-size="24.5" text-anchor="end">-0.4</text>
<text transform="translate(1592,1040.5) rotate(-90)" font-size="24.5" text-anchor="middle">Δ Co-association Strength</text>
<text x="1832.2" y="837.8" font-size="24.3" text-anchor="middle">Larval L1 vs. Larval L2</text>
<g shape-rendering="crispEdges"><rect x="1415.60" y="1459.10" width="18.30" height="18.33" fill="#f8f3b7"/><rect x="1397.91" y="1476.83" width="18.30" height="18.33" fill="#f8f3b7"/><rect x="1415.60" y="1476.83" width="18.30" height="18.33" fill="#b42548"/><rect x="1380.21" y="1494.55" width="18.30" height="18.33" fill="#f8f3b7"/><rect x="1397.91" y="1494.55" width="18.30" height="18.33" fill="#f47845"/><rect x="1415.60" y="1494.55" width="18.30" height="18.33" fill="#d94449"/><rect x="1362.52" y="1512.28" width="18.30" height="18.33" fill="#f8f3b7"/><rect x="1380.21" y="1512.28" width="18.30" height="18.33" fill="#fbd07d"/><rect x="1397.91" y="1512.28" width="18.30" height="18.33" fill="#fbb868"/><rect x="1415.60" y="1512.28" width="18.30" height="18.33" fill="#e15046"/><rect x="1344.82" y="1530.01" width="18.30" height="18.33" fill="#f8f3b7"/><rect x="1362.52" y="1530.01" width="18.30" height="18.33" fill="#fbb868"/><rect x="1380.21" y="1530.01" width="18.30" height="18.33" fill="#f9edab"/><rect x="1397.91" y="1530.01" width="18.30" height="18.33" fill="#fbdc88"/><rect x="1415.60" y="1530.01" width="18.30" height="18.33" fill="#f89a56"/><rect x="1327.13" y="1547.74" width="18.30" height="18.33" fill="#f8f3b7"/><rect x="1344.82" y="1547.74" width="18.30" height="18.33" fill="#fae293"/><rect x="1362.52" y="1547.74" width="18.30" height="18.33" fill="#f4f3b4"/><rect x="1380.21" y="1547.74" width="18.30" height="18.33" fill="#fae89f"/><rect x="1397.91" y="1547.74" width="18.30" height="18.33" fill="#fbb868"/><rect x="1415.60" y="1547.74" width="18.30" height="18.33" fill="#fbab5e"/><rect x="1309.43" y="1565.46" width="18.30" height="18.33" fill="#f8f3b7"/><rect x="1327.13" y="1565.46" width="18.30" height="18.33" fill="#fbb868"/><rect x="1344.82" y="1565.46" width="18.30" height="18.33" fill="#fbdc88"/><rect x="1362.52" y="1565.46" width="18.30" height="18.33" fill="#f9edab"/><rect x="1380.21" y="1565.46" width="18.30" height="18.33" fill="#fbdc88"/><rect x="1397.91" y="1565.46" width="18.30" height="18.33" fill="#fbab5e"/><rect x="1415.60" y="1565.46" width="18.30" height="18.33" fill="#ecf0aa"/><rect x="1291.74" y="1583.19" width="18.30" height="18.33" fill="#f8f3b7"/><rect x="1309.43" y="1583.19" width="18.30" height="18.33" fill="#fbab5e"/><rect x="1327.13" y="1583.19" width="18.30" height="18.33" fill="#fbd07d"/><rect x="1344.82" y="1583.19" width="18.30" height="18.33" fill="#f9f0b0"/><rect x="1362.52" y="1583.19" width="18.30" height="18.33" fill="#fae89f"/><rect x="1380.21" y="1583.19" width="18.30" height="18.33" fill="#f47845"/><rect x="1397.91" y="1583.19" width="18.30" height="18.33" fill="#fbc473"/><rect x="1415.60" y="1583.19" width="18.30" height="18.33" fill="#a51c46"/><rect x="1274.04" y="1600.92" width="18.30" height="18.33" fill="#f8f3b7"/><rect x="1291.74" y="1600.92" width="18.30" height="18.33" fill="#f8f3b7"/><rect x="1309.43" y="1600.92" width="18.30" height="18.33" fill="#fbdc88"/><rect x="1327.13" y="1600.92" width="18.30" height="18.33" fill="#f9edab"/><rect x="1344.82" y="1600.92" width="18.30" height="18.33" fill="#f8f3b7"/><rect x="1362.52" y="1600.92" width="18.30" height="18.33" fill="#eef1ad"/><rect x="1380.21" y="1600.92" width="18.30" height="18.33" fill="#fbd07d"/><rect x="1397.91" y="1600.92" width="18.30" height="18.33" fill="#fae89f"/><rect x="1415.60" y="1600.92" width="18.30" height="18.33" fill="#d0384c"/><rect x="1256.35" y="1618.65" width="18.30" height="18.33" fill="#f8f3b7"/><rect x="1274.04" y="1618.65" width="18.30" height="18.33" fill="#e5eea2"/><rect x="1291.74" y="1618.65" width="18.30" height="18.33" fill="#c2e29d"/><rect x="1309.43" y="1618.65" width="18.30" height="18.33" fill="#fbdc88"/><rect x="1327.13" y="1618.65" width="18.30" height="18.33" fill="#f2f2b1"/><rect x="1344.82" y="1618.65" width="18.30" height="18.33" fill="#eef1ad"/><rect x="1362.52" y="1618.65" width="18.30" height="18.33" fill="#f8f4b9"/><rect x="1380.21" y="1618.65" width="18.30" height="18.33" fill="#f8f4b9"/><rect x="1397.91" y="1618.65" width="18.30" height="18.33" fill="#f8f3b7"/><rect x="1415.60" y="1618.65" width="18.30" height="18.33" fill="#f0683f"/><rect x="1238.65" y="1636.37" width="18.30" height="18.33" fill="#f8f3b7"/><rect x="1256.35" y="1636.37" width="18.30" height="18.33" fill="#dfec9a"/><rect x="1274.04" y="1636.37" width="18.30" height="18.33" fill="#fbdc88"/><rect x="1291.74" y="1636.37" width="18.30" height="18.33" fill="#f8f4b9"/><rect x="1309.43" y="1636.37" width="18.30" height="18.33" fill="#fbdc88"/><rect x="1327.13" y="1636.37" width="18.30" height="18.33" fill="#f8f4b9"/><rect x="1344.82" y="1636.37" width="18.30" height="18.33" fill="#fae293"/><rect x="1362.52" y="1636.37" width="18.30" height="18.33" fill="#f89a56"/><rect x="1380.21" y="1636.37" width="18.30" height="18.33" fill="#f89a56"/><rect x="1397.91" y="1636.37" width="18.30" height="18.33" fill="#d94449"/><rect x="1415.60" y="1636.37" width="18.30" height="18.33" fill="#d94449"/><rect x="1220.95" y="1654.10" width="18.30" height="18.33" fill="#f8f3b7"/><rect x="1238.65" y="1654.10" width="18.30" height="18.33" fill="#f8f4b9"/><rect x="1256.35" y="1654.10" width="18.30" height="18.33" fill="#e9efa6"/><rect x="1274.04" y="1654.10" width="18.30" height="18.33" fill="#fbc473"/><rect x="1291.74" y="1654.10" width="18.30" height="18.33" fill="#fae89f"/><rect x="1309.43" y="1654.10" width="18.30" height="18.33" fill="#f9f0b0"/><rect x="1327.13" y="1654.10" width="18.30" height="18.33" fill="#f9f0b0"/><rect x="1344.82" y="1654.10" width="18.30" height="18.33" fill="#f9eba6"/><rect x="1362.52" y="1654.10" width="18.30" height="18.33" fill="#fae89f"/><rect x="1380.21" y="1654.10" width="18.30" height="18.33" fill="#fbb868"/><rect x="1397.91" y="1654.10" width="18.30" height="18.33" fill="#fbc473"/><rect x="1415.60" y="1654.10" width="18.30" height="18.33" fill="#fbb868"/><rect x="1203.26" y="1671.83" width="18.30" height="18.33" fill="#f8f3b7"/><rect x="1220.95" y="1671.83" width="18.30" height="18.33" fill="#e9efa6"/><rect x="1238.65" y="1671.83" width="18.30" height="18.33" fill="#fae293"/><rect x="1256.35" y="1671.83" width="18.30" height="18.33" fill="#dfec9a"/><rect x="1274.04" y="1671.83" width="18.30" height="18.33" fill="#d0e79c"/><rect x="1291.74" y="1671.83" width="18.30" height="18.33" fill="#c2e29d"/><rect x="1309.43" y="1671.83" width="18.30" height="18.33" fill="#fbb868"/><rect x="1327.13" y="1671.83" width="18.30" height="18.33" fill="#fbb868"/><rect x="1344.82" y="1671.83" width="18.30" height="18.33" fill="#f6894d"/><rect x="1362.52" y="1671.83" width="18.30" height="18.33" fill="#fae89f"/><rect x="1380.21" y="1671.83" width="18.30" height="18.33" fill="#fae89f"/><rect x="1397.91" y="1671.83" width="18.30" height="18.33" fill="#f4f3b4"/><rect x="1415.60" y="1671.83" width="18.30" height="18.33" fill="#fae293"/><rect x="1185.56" y="1689.55" width="18.30" height="18.33" fill="#f8f3b7"/><rect x="1203.26" y="1689.55" width="18.30" height="18.33" fill="#fbd07d"/><rect x="1220.95" y="1689.55" width="18.30" height="18.33" fill="#ecf0aa"/><rect x="1238.65" y="1689.55" width="18.30" height="18.33" fill="#fbdc88"/><rect x="1256.35" y="1689.55" width="18.30" height="18.33" fill="#ecf0aa"/><rect x="1274.04" y="1689.55" width="18.30" height="18.33" fill="#eef1ad"/><rect x="1291.74" y="1689.55" width="18.30" height="18.33" fill="#f4f3b4"/><rect x="1309.43" y="1689.55" width="18.30" height="18.33" fill="#fbc473"/><rect x="1327.13" y="1689.55" width="18.30" height="18.33" fill="#f9edab"/><rect x="1344.82" y="1689.55" width="18.30" height="18.33" fill="#f6894d"/><rect x="1362.52" y="1689.55" width="18.30" height="18.33" fill="#fae89f"/><rect x="1380.21" y="1689.55" width="18.30" height="18.33" fill="#fae89f"/><rect x="1397.91" y="1689.55" width="18.30" height="18.33" fill="#fae293"/><rect x="1415.60" y="1689.55" width="18.30" height="18.33" fill="#f89a56"/><rect x="1167.87" y="1707.28" width="18.30" height="18.33" fill="#f8f3b7"/><rect x="1185.56" y="1707.28" width="18.30" height="18.33" fill="#e5eea2"/><rect x="1203.26" y="1707.28" width="18.30" height="18.33" fill="#fbd07d"/><rect x="1220.95" y="1707.28" width="18.30" height="18.33" fill="#fbc473"/><rect x="1238.65" y="1707.28" width="18.30" height="18.33" fill="#fbdc88"/><rect x="1256.35" y="1707.28" width="18.30" height="18.33" fill="#e5eea2"/><rect x="1274.04" y="1707.28" width="18.30" height="18.33" fill="#b4de9e"/><rect x="1291.74" y="1707.28" width="18.30" height="18.33" fill="#f8f3b7"/><rect x="1309.43" y="1707.28" width="18.30" height="18.33" fill="#fbdc88"/><rect x="1327.13" y="1707.28" width="18.30" height="18.33" fill="#fbd07d"/><rect x="1344.82" y="1707.28" width="18.30" height="18.33" fill="#fae293"/><rect x="1362.52" y="1707.28" width="18.30" height="18.33" fill="#f9f0b0"/><rect x="1380.21" y="1707.28" width="18.30" height="18.33" fill="#fbdc88"/><rect x="1397.91" y="1707.28" width="18.30" height="18.33" fill="#fbd07d"/><rect x="1415.60" y="1707.28" width="18.30" height="18.33" fill="#fbdc88"/><rect x="1150.17" y="1725.01" width="18.30" height="18.33" fill="#f8f3b7"/><rect x="1167.87" y="1725.01" width="18.30" height="18.33" fill="#b4de9e"/><rect x="1185.56" y="1725.01" width="18.30" height="18.33" fill="#b4de9e"/><rect x="1203.26" y="1725.01" width="18.30" height="18.33" fill="#f8f3b7"/><rect x="1220.95" y="1725.01" width="18.30" height="18.33" fill="#f8f4b9"/><rect x="1238.65" y="1725.01" width="18.30" height="18.33" fill="#fbd07d"/><rect x="1256.35" y="1725.01" width="18.30" height="18.33" fill="#5cbca0"/><rect x="1274.04" y="1725.01" width="18.30" height="18.33" fill="#d0e79c"/><rect x="1291.74" y="1725.01" width="18.30" height="18.33" fill="#c2e29d"/><rect x="1309.43" y="1725.01" width="18.30" height="18.33" fill="#f89a56"/><rect x="1327.13" y="1725.01" width="18.30" height="18.33" fill="#fbd07d"/><rect x="1344.82" y="1725.01" width="18.30" height="18.33" fill="#fbd07d"/><rect x="1362.52" y="1725.01" width="18.30" height="18.33" fill="#fbd07d"/><rect x="1380.21" y="1725.01" width="18.30" height="18.33" fill="#d0e79c"/><rect x="1397.91" y="1725.01" width="18.30" height="18.33" fill="#fae89f"/><rect x="1415.60" y="1725.01" width="18.30" height="18.33" fill="#fbc473"/><rect x="1132.48" y="1742.74" width="18.30" height="18.33" fill="#f8f3b7"/><rect x="1150.17" y="1742.74" width="18.30" height="18.33" fill="#fbc473"/><rect x="1167.87" y="1742.74" width="18.30" height="18.33" fill="#fae89f"/><rect x="1185.56" y="1742.74" width="18.30" height="18.33" fill="#f8f4b9"/><rect x="1203.26" y="1742.74" width="18.30" height="18.33" fill="#f8f3b7"/><rect x="1220.95" y="1742.74" width="18.30" height="18.33" fill="#e5eea2"/><rect x="1238.65" y="1742.74" width="18.30" height="18.33" fill="#ecf0aa"/><rect x="1256.35" y="1742.74" width="18.30" height="18.33" fill="#d0e79c"/><rect x="1274.04" y="1742.74" width="18.30" height="18.33" fill="#e5eea2"/><rect x="1291.74" y="1742.74" width="18.30" height="18.33" fill="#ecf0aa"/><rect x="1309.43" y="1742.74" width="18.30" height="18.33" fill="#f8f3b7"/><rect x="1327.13" y="1742.74" width="18.30" height="18.33" fill="#ecf0aa"/><rect x="1344.82" y="1742.74" width="18.30" height="18.33" fill="#fbc473"/><rect x="1362.52" y="1742.74" width="18.30" height="18.33" fill="#fae293"/><rect x="1380.21" y="1742.74" width="18.30" height="18.33" fill="#fae89f"/><rect x="1397.91" y="1742.74" width="18.30" height="18.33" fill="#fae293"/><rect x="1415.60" y="1742.74" width="18.30" height="18.33" fill="#f6894d"/><rect x="1114.78" y="1760.46" width="18.30" height="18.33" fill="#f8f3b7"/><rect x="1132.48" y="1760.46" width="18.30" height="18.33" fill="#f8f4b9"/><rect x="1150.17" y="1760.46" width="18.30" height="18.33" fill="#f8f4b9"/><rect x="1167.87" y="1760.46" width="18.30" height="18.33" fill="#f8f4b9"/><rect x="1185.56" y="1760.46" width="18.30" height="18.33" fill="#f8f4b9"/><rect x="1203.26" y="1760.46" width="18.30" height="18.33" fill="#f8f3b7"/><rect x="1220.95" y="1760.46" width="18.30" height="18.33" fill="#f8f4b9"/><rect x="1238.65" y="1760.46" width="18.30" height="18.33" fill="#f4f3b4"/><rect x="1256.35" y="1760.46" width="18.30" height="18.33" fill="#f4f3b4"/><rect x="1274.04" y="1760.46" width="18.30" height="18.33" fill="#e5eea2"/><rect x="1291.74" y="1760.46" width="18.30" height="18.33" fill="#eef1ad"/><rect x="1309.43" y="1760.46" width="18.30" height="18.33" fill="#a5d9a0"/><rect x="1327.13" y="1760.46" width="18.30" height="18.33" fill="#dfec9a"/><rect x="1344.82" y="1760.46" width="18.30" height="18.33" fill="#f8f3b7"/><rect x="1362.52" y="1760.46" width="18.30" height="18.33" fill="#f2f2b1"/><rect x="1380.21" y="1760.46" width="18.30" height="18.33" fill="#f9f0b0"/><rect x="1397.91" y="1760.46" width="18.30" height="18.33" fill="#fae89f"/><rect x="1415.60" y="1760.46" width="18.30" height="18.33" fill="#f9edab"/><rect x="1097.09" y="1778.19" width="18.30" height="18.33" fill="#f8f3b7"/><rect x="1114.78" y="1778.19" width="18.30" height="18.33" fill="#e5eea2"/><rect x="1132.48" y="1778.19" width="18.30" height="18.33" fill="#d0e79c"/><rect x="1150.17" y="1778.19" width="18.30" height="18.33" fill="#ecf0aa"/><rect x="1167.87" y="1778.19" width="18.30" height="18.33" fill="#f8f3b7"/><rect x="1185.56" y="1778.19" width="18.30" height="18.33" fill="#f8f4b9"/><rect x="1203.26" y="1778.19" width="18.30" height="18.33" fill="#f9f0b0"/><rect x="1220.95" y="1778.19" width="18.30" height="18.33" fill="#dfec9a"/><rect x="1238.65" y="1778.19" width="18.30" height="18.33" fill="#dfec9a"/><rect x="1256.35" y="1778.19" width="18.30" height="18.33" fill="#dfec9a"/><rect x="1274.04" y="1778.19" width="18.30" height="18.33" fill="#f2f2b1"/><rect x="1291.74" y="1778.19" width="18.30" height="18.33" fill="#f2f2b1"/><rect x="1309.43" y="1778.19" width="18.30" height="18.33" fill="#fbc473"/><rect x="1327.13" y="1778.19" width="18.30" height="18.33" fill="#f9edab"/><rect x="1344.82" y="1778.19" width="18.30" height="18.33" fill="#f8f4b9"/><rect x="1362.52" y="1778.19" width="18.30" height="18.33" fill="#eef1ad"/><rect x="1380.21" y="1778.19" width="18.30" height="18.33" fill="#f9edab"/><rect x="1397.91" y="1778.19" width="18.30" height="18.33" fill="#fae293"/><rect x="1415.60" y="1778.19" width="18.30" height="18.33" fill="#f0683f"/><rect x="1079.39" y="1795.92" width="18.30" height="18.33" fill="#f8f3b7"/><rect x="1097.09" y="1795.92" width="18.30" height="18.33" fill="#6ec3a0"/><rect x="1114.78" y="1795.92" width="18.30" height="18.33" fill="#dfec9a"/><rect x="1132.48" y="1795.92" width="18.30" height="18.33" fill="#d0e79c"/><rect x="1150.17" y="1795.92" width="18.30" height="18.33" fill="#dfec9a"/><rect x="1167.87" y="1795.92" width="18.30" height="18.33" fill="#f8f3b7"/><rect x="1185.56" y="1795.92" width="18.30" height="18.33" fill="#f9edab"/><rect x="1203.26" y="1795.92" width="18.30" height="18.33" fill="#dfec9a"/><rect x="1220.95" y="1795.92" width="18.30" height="18.33" fill="#b4de9e"/><rect x="1238.65" y="1795.92" width="18.30" height="18.33" fill="#b4de9e"/><rect x="1256.35" y="1795.92" width="18.30" height="18.33" fill="#c2e29d"/><rect x="1274.04" y="1795.92" width="18.30" height="18.33" fill="#d0e79c"/><rect x="1291.74" y="1795.92" width="18.30" height="18.33" fill="#ecf0aa"/><rect x="1309.43" y="1795.92" width="18.30" height="18.33" fill="#fbc473"/><rect x="1327.13" y="1795.92" width="18.30" height="18.33" fill="#f9f0b0"/><rect x="1344.82" y="1795.92" width="18.30" height="18.33" fill="#f8f3b7"/><rect x="1362.52" y="1795.92" width="18.30" height="18.33" fill="#f8f3b7"/><rect x="1380.21" y="1795.92" width="18.30" height="18.33" fill="#f9edab"/><rect x="1397.91" y="1795.92" width="18.30" height="18.33" fill="#fbdc88"/><rect x="1415.60" y="1795.92" width="18.30" height="18.33" fill="#fbdc88"/><rect x="1061.70" y="1813.65" width="18.30" height="18.33" fill="#f9f0b0"/><rect x="1079.39" y="1813.65" width="18.30" height="18.33" fill="#f9edab"/><rect x="1097.09" y="1813.65" width="18.30" height="18.33" fill="#fae89f"/><rect x="1114.78" y="1813.65" width="18.30" height="18.33" fill="#f8f3b7"/><rect x="1132.48" y="1813.65" width="18.30" height="18.33" fill="#a5d9a0"/><rect x="1150.17" y="1813.65" width="18.30" height="18.33" fill="#e5eea2"/><rect x="1167.87" y="1813.65" width="18.30" height="18.33" fill="#f2f2b1"/><rect x="1185.56" y="1813.65" width="18.30" height="18.33" fill="#a5d9a0"/><rect x="1203.26" y="1813.65" width="18.30" height="18.33" fill="#f9f0b0"/><rect x="1220.95" y="1813.65" width="18.30" height="18.33" fill="#f9f0b0"/><rect x="1238.65" y="1813.65" width="18.30" height="18.33" fill="#fae89f"/><rect x="1256.35" y="1813.65" width="18.30" height="18.33" fill="#3b92b5"/><rect x="1274.04" y="1813.65" width="18.30" height="18.33" fill="#4857a7"/><rect x="1291.74" y="1813.65" width="18.30" height="18.33" fill="#3875b5"/><rect x="1309.43" y="1813.65" width="18.30" height="18.33" fill="#f9f0b0"/><rect x="1327.13" y="1813.65" width="18.30" height="18.33" fill="#f9edab"/><rect x="1344.82" y="1813.65" width="18.30" height="18.33" fill="#f8f3b7"/><rect x="1362.52" y="1813.65" width="18.30" height="18.33" fill="#3084bc"/><rect x="1380.21" y="1813.65" width="18.30" height="18.33" fill="#f9f0b0"/><rect x="1397.91" y="1813.65" width="18.30" height="18.33" fill="#e5eea2"/><rect x="1415.60" y="1813.65" width="18.30" height="18.33" fill="#f8f3b7"/><rect x="1044.00" y="1831.37" width="18.30" height="18.33" fill="#f9f0b0"/><rect x="1061.70" y="1831.37" width="18.30" height="18.33" fill="#3b92b5"/><rect x="1079.39" y="1831.37" width="18.30" height="18.33" fill="#3b92b5"/><rect x="1097.09" y="1831.37" width="18.30" height="18.33" fill="#3084bc"/><rect x="1114.78" y="1831.37" width="18.30" height="18.33" fill="#3b92b5"/><rect x="1132.48" y="1831.37" width="18.30" height="18.33" fill="#4857a7"/><rect x="1150.17" y="1831.37" width="18.30" height="18.33" fill="#80caa0"/><rect x="1167.87" y="1831.37" width="18.30" height="18.33" fill="#5cbca0"/><rect x="1185.56" y="1831.37" width="18.30" height="18.33" fill="#f2f2b1"/><rect x="1203.26" y="1831.37" width="18.30" height="18.33" fill="#dfec9a"/><rect x="1220.95" y="1831.37" width="18.30" height="18.33" fill="#dfec9a"/><rect x="1238.65" y="1831.37" width="18.30" height="18.33" fill="#3b92b5"/><rect x="1256.35" y="1831.37" width="18.30" height="18.33" fill="#6ec3a0"/><rect x="1274.04" y="1831.37" width="18.30" height="18.33" fill="#a5d9a0"/><rect x="1291.74" y="1831.37" width="18.30" height="18.33" fill="#6ec3a0"/><rect x="1309.43" y="1831.37" width="18.30" height="18.33" fill="#e5eea2"/><rect x="1327.13" y="1831.37" width="18.30" height="18.33" fill="#b4de9e"/><rect x="1344.82" y="1831.37" width="18.30" height="18.33" fill="#f2f2b1"/><rect x="1362.52" y="1831.37" width="18.30" height="18.33" fill="#5cbca0"/><rect x="1380.21" y="1831.37" width="18.30" height="18.33" fill="#46a0ae"/><rect x="1397.91" y="1831.37" width="18.30" height="18.33" fill="#51aea7"/><rect x="1415.60" y="1831.37" width="18.30" height="18.33" fill="#fbd07d"/></g>
<text x="1446.3" y="1474.8" font-size="20.5">NHR –23</text>
<text x="1446.3" y="1492.5" font-size="20.5">R02D3.7</text>
<text x="1446.3" y="1510.2" font-size="20.5">SKN –1</text>
<text x="1446.3" y="1527.9" font-size="20.5">NHR –77</text>
<text x="1446.3" y="1545.7" font-size="20.5">ALY –2</text>
<text x="1446.3" y="1563.4" font-size="20.5">UNC –62</text>
<text x="1446.3" y="1581.1" font-size="20.5">ELT –1</text>
<text x="1446.3" y="1598.9" font-size="20.5">GEI –11</text>
<text x="1446.3" y="1616.6" font-size="20.5">NHR –25</text>
<text x="1446.3" y="1634.3" font-size="20.5">ZTF –4</text>
<text x="1446.3" y="1652.0" font-size="20.5">F45C12.2</text>
<text x="1446.3" y="1669.8" font-size="20.5">UNC –39</text>
<text x="1446.3" y="1687.5" font-size="20.5">ZTF –11</text>
<text x="1446.3" y="1705.2" font-size="20.5">AMA –1</text>
<text x="1446.3" y="1722.9" font-size="20.5">NHR –11</text>
<text x="1446.3" y="1740.7" font-size="20.5">NHR –12</text>
<text x="1446.3" y="1758.4" font-size="20.5">ZK546.5</text>
<text x="1446.3" y="1776.1" font-size="20.5">CEH –16</text>
<text x="1446.3" y="1793.9" font-size="20.5">SAX –3</text>
<text x="1446.3" y="1811.6" font-size="20.5">ZAG –1</text>
<text x="1446.3" y="1829.3" font-size="20.5">NHR –237</text>
<text x="1446.3" y="1847.0" font-size="20.5">FOS –1</text>
<text transform="translate(1059.6,1860.4) rotate(-90)" font-size="20.5" text-anchor="end">FOS –1</text>
<text transform="translate(1077.3,1860.4) rotate(-90)" font-size="20.5" text-anchor="end">NHR –237</text>
<text transform="translate(1095.0,1860.4) rotate(-90)" font-size="20.5" text-anchor="end">ZAG –1</text>
<text transform="translate(1112.7,1860.4) rotate(-90)" font-size="20.5" text-anchor="end">SAX –3</text>
<text transform="translate(1130.4,1860.4) rotate(-90)" font-size="20.5" text-anchor="end">CEH –16</text>
<text transform="translate(1148.1,1860.4) rotate(-90)" font-size="20.5" text-anchor="end">ZK546.5</text>
<text transform="translate(1165.8,1860.4) rotate(-90)" font-size="20.5" text-anchor="end">NHR –12</text>
<text transform="translate(1183.5,1860.4) rotate(-90)" font-size="20.5" text-anchor="end">NHR –11</text>
<text transform="translate(1201.2,1860.4) rotate(-90)" font-size="20.5" text-anchor="end">AMA –1</text>
<text transform="translate(1218.9,1860.4) rotate(-90)" font-size="20.5" text-anchor="end">ZTF –11</text>
<text transform="translate(1236.6,1860.4) rotate(-90)" font-size="20.5" text-anchor="end">UNC –39</text>
<text transform="translate(1254.3,1860.4) rotate(-90)" font-size="20.5" text-anchor="end">F45C12.2</text>
<text transform="translate(1272.0,1860.4) rotate(-90)" font-size="20.5" text-anchor="end">ZTF –4</text>
<text transform="translate(1289.7,1860.4) rotate(-90)" font-size="20.5" text-anchor="end">NHR –25</text>
<text transform="translate(1307.4,1860.4) rotate(-90)" font-size="20.5" text-anchor="end">GEI –11</text>
<text transform="translate(1325.1,1860.4) rotate(-90)" font-size="20.5" text-anchor="end">ELT –1</text>
<text transform="translate(1342.8,1860.4) rotate(-90)" font-size="20.5" text-anchor="end">UNC –62</text>
<text transform="translate(1360.5,1860.4) rotate(-90)" font-size="20.5" text-anchor="end">ALY –2</text>
<text transform="translate(1378.2,1860.4) rotate(-90)" font-size="20.5" text-anchor="end">NHR –77</text>
<text transform="translate(1395.9,1860.4) rotate(-90)" font-size="20.5" text-anchor="end">SKN –1</text>
<text transform="translate(1413.6,1860.4) rotate(-90)" font-size="20.5" text-anchor="end">R02D3.7</text>
<text transform="translate(1431.3,1860.4) rotate(-90)" font-size="20.5" text-anchor="end">NHR –23</text>
<rect x="1012.3" y="1485" width="20.40000000000009" height="321.20000000000005" fill="url(#gv)" stroke="#000" stroke-width="2"/>
<text transform="translate(1031.7,1477) rotate(-90)" font-size="24.5">+0.4</text>
<text transform="translate(1031.7,1816) rotate(-90)" font-size="24.5" text-anchor="end">-0.4</text>
<text transform="translate(996.5,1645.5) rotate(-90)" font-size="24.5" text-anchor="middle">Δ Co-association Strength</text>
<text x="1243.5" y="1439.4" font-size="24.3" text-anchor="middle">Larval L2 vs. Larval L3</text>
<g shape-rendering="crispEdges"><rect x="2016.63" y="1459.10" width="15.57" height="15.60" fill="#f8f3b7"/><rect x="2001.66" y="1474.10" width="15.57" height="15.60" fill="#f8f3b7"/><rect x="2016.63" y="1474.10" width="15.57" height="15.60" fill="#b42548"/><rect x="1986.69" y="1489.09" width="15.57" height="15.60" fill="#f8f3b7"/><rect x="2001.66" y="1489.09" width="15.57" height="15.60" fill="#d94449"/><rect x="2016.63" y="1489.09" width="15.57" height="15.60" fill="#d94449"/><rect x="1971.72" y="1504.09" width="15.57" height="15.60" fill="#f8f3b7"/><rect x="1986.69" y="1504.09" width="15.57" height="15.60" fill="#fae293"/><rect x="2001.66" y="1504.09" width="15.57" height="15.60" fill="#d94449"/><rect x="2016.63" y="1504.09" width="15.57" height="15.60" fill="#b42548"/><rect x="1956.75" y="1519.08" width="15.57" height="15.60" fill="#f8f3b7"/><rect x="1971.72" y="1519.08" width="15.57" height="15.60" fill="#fbc473"/><rect x="1986.69" y="1519.08" width="15.57" height="15.60" fill="#fbb868"/><rect x="2001.66" y="1519.08" width="15.57" height="15.60" fill="#e15046"/><rect x="2016.63" y="1519.08" width="15.57" height="15.60" fill="#f47845"/><rect x="1941.78" y="1534.08" width="15.57" height="15.60" fill="#f8f3b7"/><rect x="1956.75" y="1534.08" width="15.57" height="15.60" fill="#f0683f"/><rect x="1971.72" y="1534.08" width="15.57" height="15.60" fill="#fbc473"/><rect x="1986.69" y="1534.08" width="15.57" height="15.60" fill="#fbc473"/><rect x="2001.66" y="1534.08" width="15.57" height="15.60" fill="#b42548"/><rect x="2016.63" y="1534.08" width="15.57" height="15.60" fill="#d0384c"/><rect x="1926.82" y="1549.08" width="15.57" height="15.60" fill="#f8f3b7"/><rect x="1941.78" y="1549.08" width="15.57" height="15.60" fill="#fbb868"/><rect x="1956.75" y="1549.08" width="15.57" height="15.60" fill="#f89a56"/><rect x="1971.72" y="1549.08" width="15.57" height="15.60" fill="#fbdc88"/><rect x="1986.69" y="1549.08" width="15.57" height="15.60" fill="#fae293"/><rect x="2001.66" y="1549.08" width="15.57" height="15.60" fill="#f89a56"/><rect x="2016.63" y="1549.08" width="15.57" height="15.60" fill="#f47845"/><rect x="1911.85" y="1564.07" width="15.57" height="15.60" fill="#f8f3b7"/><rect x="1926.82" y="1564.07" width="15.57" height="15.60" fill="#f9f0b0"/><rect x="1941.78" y="1564.07" width="15.57" height="15.60" fill="#fbd07d"/><rect x="1956.75" y="1564.07" width="15.57" height="15.60" fill="#fbc473"/><rect x="1971.72" y="1564.07" width="15.57" height="15.60" fill="#f9edab"/><rect x="1986.69" y="1564.07" width="15.57" height="15.60" fill="#fbdc88"/><rect x="2001.66" y="1564.07" width="15.57" height="15.60" fill="#fbab5e"/><rect x="2016.63" y="1564.07" width="15.57" height="15.60" fill="#fbc473"/><rect x="1896.88" y="1579.07" width="15.57" height="15.60" fill="#f8f3b7"/><rect x="1911.85" y="1579.07" width="15.57" height="15.60" fill="#f8f3b7"/><rect x="1926.82" y="1579.07" width="15.57" height="15.60" fill="#f4f3b4"/><rect x="1941.78" y="1579.07" width="15.57" height="15.60" fill="#f6894d"/><rect x="1956.75" y="1579.07" width="15.57" height="15.60" fill="#fbd07d"/><rect x="1971.72" y="1579.07" width="15.57" height="15.60" fill="#fbb868"/><rect x="1986.69" y="1579.07" width="15.57" height="15.60" fill="#f89a56"/><rect x="2001.66" y="1579.07" width="15.57" height="15.60" fill="#c22f4a"/><rect x="2016.63" y="1579.07" width="15.57" height="15.60" fill="#c22f4a"/><rect x="1881.91" y="1594.07" width="15.57" height="15.60" fill="#f8f3b7"/><rect x="1896.88" y="1594.07" width="15.57" height="15.60" fill="#f8f3b7"/><rect x="1911.85" y="1594.07" width="15.57" height="15.60" fill="#f8f4b9"/><rect x="1926.82" y="1594.07" width="15.57" height="15.60" fill="#f8f4b9"/><rect x="1941.78" y="1594.07" width="15.57" height="15.60" fill="#f8f3b7"/><rect x="1956.75" y="1594.07" width="15.57" height="15.60" fill="#fbdc88"/><rect x="1971.72" y="1594.07" width="15.57" height="15.60" fill="#fbab5e"/><rect x="1986.69" y="1594.07" width="15.57" height="15.60" fill="#e15046"/><rect x="2001.66" y="1594.07" width="15.57" height="15.60" fill="#f8f3b7"/><rect x="2016.63" y="1594.07" width="15.57" height="15.60" fill="#ecf0aa"/><rect x="1866.94" y="1609.06" width="15.57" height="15.60" fill="#f8f3b7"/><rect x="1881.91" y="1609.06" width="15.57" height="15.60" fill="#f8f3b7"/><rect x="1896.88" y="1609.06" width="15.57" height="15.60" fill="#f2f2b1"/><rect x="1911.85" y="1609.06" width="15.57" height="15.60" fill="#f8f4b9"/><rect x="1926.82" y="1609.06" width="15.57" height="15.60" fill="#ecf0aa"/><rect x="1941.78" y="1609.06" width="15.57" height="15.60" fill="#f8f4b9"/><rect x="1956.75" y="1609.06" width="15.57" height="15.60" fill="#f2f2b1"/><rect x="1971.72" y="1609.06" width="15.57" height="15.60" fill="#fae89f"/><rect x="1986.69" y="1609.06" width="15.57" height="15.60" fill="#fae293"/><rect x="2001.66" y="1609.06" width="15.57" height="15.60" fill="#f8f3b7"/><rect x="2016.63" y="1609.06" width="15.57" height="15.60" fill="#fae89f"/><rect x="1851.97" y="1624.06" width="15.57" height="15.60" fill="#f8f3b7"/><rect x="1866.94" y="1624.06" width="15.57" height="15.60" fill="#e9efa6"/><rect x="1881.91" y="1624.06" width="15.57" height="15.60" fill="#f2f2b1"/><rect x="1896.88" y="1624.06" width="15.57" height="15.60" fill="#fae293"/><rect x="1911.85" y="1624.06" width="15.57" height="15.60" fill="#fae293"/><rect x="1926.82" y="1624.06" width="15.57" height="15.60" fill="#f9edab"/><rect x="1941.78" y="1624.06" width="15.57" height="15.60" fill="#f9f0b0"/><rect x="1956.75" y="1624.06" width="15.57" height="15.60" fill="#f8f3b7"/><rect x="1971.72" y="1624.06" width="15.57" height="15.60" fill="#f8f3b7"/><rect x="1986.69" y="1624.06" width="15.57" height="15.60" fill="#fae89f"/><rect x="2001.66" y="1624.06" width="15.57" height="15.60" fill="#f2f2b1"/><rect x="2016.63" y="1624.06" width="15.57" height="15.60" fill="#fbd07d"/><rect x="1837.00" y="1639.05" width="15.57" height="15.60" fill="#f8f3b7"/><rect x="1851.97" y="1639.05" width="15.57" height="15.60" fill="#fbdc88"/><rect x="1866.94" y="1639.05" width="15.57" height="15.60" fill="#fbdc88"/><rect x="1881.91" y="1639.05" width="15.57" height="15.60" fill="#f9edab"/><rect x="1896.88" y="1639.05" width="15.57" height="15.60" fill="#f6894d"/><rect x="1911.85" y="1639.05" width="15.57" height="15.60" fill="#fae89f"/><rect x="1926.82" y="1639.05" width="15.57" height="15.60" fill="#fae89f"/><rect x="1941.78" y="1639.05" width="15.57" height="15.60" fill="#f6894d"/><rect x="1956.75" y="1639.05" width="15.57" height="15.60" fill="#f89a56"/><rect x="1971.72" y="1639.05" width="15.57" height="15.60" fill="#fbab5e"/><rect x="1986.69" y="1639.05" width="15.57" height="15.60" fill="#fae89f"/><rect x="2001.66" y="1639.05" width="15.57" height="15.60" fill="#d94449"/><rect x="2016.63" y="1639.05" width="15.57" height="15.60" fill="#c22f4a"/><rect x="1822.03" y="1654.05" width="15.57" height="15.60" fill="#f8f3b7"/><rect x="1837.00" y="1654.05" width="15.57" height="15.60" fill="#fae89f"/><rect x="1851.97" y="1654.05" width="15.57" height="15.60" fill="#f4f3b4"/><rect x="1866.94" y="1654.05" width="15.57" height="15.60" fill="#eef1ad"/><rect x="1881.91" y="1654.05" width="15.57" height="15.60" fill="#fbc473"/><rect x="1896.88" y="1654.05" width="15.57" height="15.60" fill="#fbb868"/><rect x="1911.85" y="1654.05" width="15.57" height="15.60" fill="#fbdc88"/><rect x="1926.82" y="1654.05" width="15.57" height="15.60" fill="#fbb868"/><rect x="1941.78" y="1654.05" width="15.57" height="15.60" fill="#f47845"/><rect x="1956.75" y="1654.05" width="15.57" height="15.60" fill="#f0683f"/><rect x="1971.72" y="1654.05" width="15.57" height="15.60" fill="#f2f2b1"/><rect x="1986.69" y="1654.05" width="15.57" height="15.60" fill="#fbb868"/><rect x="2001.66" y="1654.05" width="15.57" height="15.60" fill="#fbb868"/><rect x="2016.63" y="1654.05" width="15.57" height="15.60" fill="#c22f4a"/><rect x="1807.06" y="1669.05" width="15.57" height="15.60" fill="#f8f3b7"/><rect x="1822.03" y="1669.05" width="15.57" height="15.60" fill="#f8f4b9"/><rect x="1837.00" y="1669.05" width="15.57" height="15.60" fill="#fbdc88"/><rect x="1851.97" y="1669.05" width="15.57" height="15.60" fill="#f4f3b4"/><rect x="1866.94" y="1669.05" width="15.57" height="15.60" fill="#fae89f"/><rect x="1881.91" y="1669.05" width="15.57" height="15.60" fill="#e5eea2"/><rect x="1896.88" y="1669.05" width="15.57" height="15.60" fill="#fae89f"/><rect x="1911.85" y="1669.05" width="15.57" height="15.60" fill="#fbc473"/><rect x="1926.82" y="1669.05" width="15.57" height="15.60" fill="#f9edab"/><rect x="1941.78" y="1669.05" width="15.57" height="15.60" fill="#f47845"/><rect x="1956.75" y="1669.05" width="15.57" height="15.60" fill="#fbb868"/><rect x="1971.72" y="1669.05" width="15.57" height="15.60" fill="#fbd07d"/><rect x="1986.69" y="1669.05" width="15.57" height="15.60" fill="#f8f3b7"/><rect x="2001.66" y="1669.05" width="15.57" height="15.60" fill="#f47845"/><rect x="2016.63" y="1669.05" width="15.57" height="15.60" fill="#f89a56"/><rect x="1792.09" y="1684.04" width="15.57" height="15.60" fill="#f8f3b7"/><rect x="1807.06" y="1684.04" width="15.57" height="15.60" fill="#fae293"/><rect x="1822.03" y="1684.04" width="15.57" height="15.60" fill="#f9f0b0"/><rect x="1837.00" y="1684.04" width="15.57" height="15.60" fill="#f8f3b7"/><rect x="1851.97" y="1684.04" width="15.57" height="15.60" fill="#fbdc88"/><rect x="1866.94" y="1684.04" width="15.57" height="15.60" fill="#fbb868"/><rect x="1881.91" y="1684.04" width="15.57" height="15.60" fill="#f8f3b7"/><rect x="1896.88" y="1684.04" width="15.57" height="15.60" fill="#f0683f"/><rect x="1911.85" y="1684.04" width="15.57" height="15.60" fill="#fbc473"/><rect x="1926.82" y="1684.04" width="15.57" height="15.60" fill="#f9edab"/><rect x="1941.78" y="1684.04" width="15.57" height="15.60" fill="#fbb868"/><rect x="1956.75" y="1684.04" width="15.57" height="15.60" fill="#fae293"/><rect x="1971.72" y="1684.04" width="15.57" height="15.60" fill="#f9edab"/><rect x="1986.69" y="1684.04" width="15.57" height="15.60" fill="#f2f2b1"/><rect x="2001.66" y="1684.04" width="15.57" height="15.60" fill="#e95c42"/><rect x="2016.63" y="1684.04" width="15.57" height="15.60" fill="#fbb868"/><rect x="1777.12" y="1699.04" width="15.57" height="15.60" fill="#f8f3b7"/><rect x="1792.09" y="1699.04" width="15.57" height="15.60" fill="#f8f3b7"/><rect x="1807.06" y="1699.04" width="15.57" height="15.60" fill="#f8f4b9"/><rect x="1822.03" y="1699.04" width="15.57" height="15.60" fill="#f2f2b1"/><rect x="1837.00" y="1699.04" width="15.57" height="15.60" fill="#f8f3b7"/><rect x="1851.97" y="1699.04" width="15.57" height="15.60" fill="#f8f4b9"/><rect x="1866.94" y="1699.04" width="15.57" height="15.60" fill="#f8f4b9"/><rect x="1881.91" y="1699.04" width="15.57" height="15.60" fill="#e5eea2"/><rect x="1896.88" y="1699.04" width="15.57" height="15.60" fill="#fbc473"/><rect x="1911.85" y="1699.04" width="15.57" height="15.60" fill="#fae293"/><rect x="1926.82" y="1699.04" width="15.57" height="15.60" fill="#fbb868"/><rect x="1941.78" y="1699.04" width="15.57" height="15.60" fill="#fbd07d"/><rect x="1956.75" y="1699.04" width="15.57" height="15.60" fill="#fbc473"/><rect x="1971.72" y="1699.04" width="15.57" height="15.60" fill="#f8f3b7"/><rect x="1986.69" y="1699.04" width="15.57" height="15.60" fill="#f8f3b7"/><rect x="2001.66" y="1699.04" width="15.57" height="15.60" fill="#f9f0b0"/><rect x="2016.63" y="1699.04" width="15.57" height="15.60" fill="#fbc473"/><rect x="1762.15" y="1714.03" width="15.57" height="15.60" fill="#f8f3b7"/><rect x="1777.12" y="1714.03" width="15.57" height="15.60" fill="#cee69c"/><rect x="1792.09" y="1714.03" width="15.57" height="15.60" fill="#f2f2b1"/><rect x="1807.06" y="1714.03" width="15.57" height="15.60" fill="#f8f3b7"/><rect x="1822.03" y="1714.03" width="15.57" height="15.60" fill="#ecf0aa"/><rect x="1837.00" y="1714.03" width="15.57" height="15.60" fill="#eef1ad"/><rect x="1851.97" y="1714.03" width="15.57" height="15.60" fill="#f8f4b9"/><rect x="1866.94" y="1714.03" width="15.57" height="15.60" fill="#f8f4b9"/><rect x="1881.91" y="1714.03" width="15.57" height="15.60" fill="#f8f4b9"/><rect x="1896.88" y="1714.03" width="15.57" height="15.60" fill="#e15046"/><rect x="1911.85" y="1714.03" width="15.57" height="15.60" fill="#f8f3b7"/><rect x="1926.82" y="1714.03" width="15.57" height="15.60" fill="#f8f4b9"/><rect x="1941.78" y="1714.03" width="15.57" height="15.60" fill="#f8f3b7"/><rect x="1956.75" y="1714.03" width="15.57" height="15.60" fill="#f9edab"/><rect x="1971.72" y="1714.03" width="15.57" height="15.60" fill="#fbd07d"/><rect x="1986.69" y="1714.03" width="15.57" height="15.60" fill="#fbd07d"/><rect x="2001.66" y="1714.03" width="15.57" height="15.60" fill="#f89a56"/><rect x="2016.63" y="1714.03" width="15.57" height="15.60" fill="#b42548"/><rect x="1747.18" y="1729.03" width="15.57" height="15.60" fill="#f8f3b7"/><rect x="1762.15" y="1729.03" width="15.57" height="15.60" fill="#4aa6ab"/><rect x="1777.12" y="1729.03" width="15.57" height="15.60" fill="#abdb9f"/><rect x="1792.09" y="1729.03" width="15.57" height="15.60" fill="#58b6a3"/><rect x="1807.06" y="1729.03" width="15.57" height="15.60" fill="#fae293"/><rect x="1822.03" y="1729.03" width="15.57" height="15.60" fill="#ecf0aa"/><rect x="1837.00" y="1729.03" width="15.57" height="15.60" fill="#f8f4b9"/><rect x="1851.97" y="1729.03" width="15.57" height="15.60" fill="#f8f4b9"/><rect x="1866.94" y="1729.03" width="15.57" height="15.60" fill="#f8f4b9"/><rect x="1881.91" y="1729.03" width="15.57" height="15.60" fill="#f8f4b9"/><rect x="1896.88" y="1729.03" width="15.57" height="15.60" fill="#fbab5e"/><rect x="1911.85" y="1729.03" width="15.57" height="15.60" fill="#f8f3b7"/><rect x="1926.82" y="1729.03" width="15.57" height="15.60" fill="#f8f4b9"/><rect x="1941.78" y="1729.03" width="15.57" height="15.60" fill="#f8f3b7"/><rect x="1956.75" y="1729.03" width="15.57" height="15.60" fill="#fbc473"/><rect x="1971.72" y="1729.03" width="15.57" height="15.60" fill="#f89a56"/><rect x="1986.69" y="1729.03" width="15.57" height="15.60" fill="#f6894d"/><rect x="2001.66" y="1729.03" width="15.57" height="15.60" fill="#fbab5e"/><rect x="2016.63" y="1729.03" width="15.57" height="15.60" fill="#fbb868"/><rect x="1732.22" y="1744.03" width="15.57" height="15.60" fill="#f8f3b7"/><rect x="1747.18" y="1744.03" width="15.57" height="15.60" fill="#ecf0aa"/><rect x="1762.15" y="1744.03" width="15.57" height="15.60" fill="#3084bc"/><rect x="1777.12" y="1744.03" width="15.57" height="15.60" fill="#cee69c"/><rect x="1792.09" y="1744.03" width="15.57" height="15.60" fill="#e5eea2"/><rect x="1807.06" y="1744.03" width="15.57" height="15.60" fill="#f8f3b7"/><rect x="1822.03" y="1744.03" width="15.57" height="15.60" fill="#fae89f"/><rect x="1837.00" y="1744.03" width="15.57" height="15.60" fill="#fbb868"/><rect x="1851.97" y="1744.03" width="15.57" height="15.60" fill="#f8f4b9"/><rect x="1866.94" y="1744.03" width="15.57" height="15.60" fill="#fbdc88"/><rect x="1881.91" y="1744.03" width="15.57" height="15.60" fill="#f9edab"/><rect x="1896.88" y="1744.03" width="15.57" height="15.60" fill="#f8f4b9"/><rect x="1911.85" y="1744.03" width="15.57" height="15.60" fill="#f8f3b7"/><rect x="1926.82" y="1744.03" width="15.57" height="15.60" fill="#f8f4b9"/><rect x="1941.78" y="1744.03" width="15.57" height="15.60" fill="#f8f3b7"/><rect x="1956.75" y="1744.03" width="15.57" height="15.60" fill="#fbc473"/><rect x="1971.72" y="1744.03" width="15.57" height="15.60" fill="#f89a56"/><rect x="1986.69" y="1744.03" width="15.57" height="15.60" fill="#fae293"/><rect x="2001.66" y="1744.03" width="15.57" height="15.60" fill="#f8f4b9"/><rect x="2016.63" y="1744.03" width="15.57" height="15.60" fill="#f47845"/><rect x="1717.25" y="1759.02" width="15.57" height="15.60" fill="#f8f3b7"/><rect x="1732.22" y="1759.02" width="15.57" height="15.60" fill="#3a72b4"/><rect x="1747.18" y="1759.02" width="15.57" height="15.60" fill="#96d3a0"/><rect x="1762.15" y="1759.02" width="15.57" height="15.60" fill="#96d3a0"/><rect x="1777.12" y="1759.02" width="15.57" height="15.60" fill="#bce19e"/><rect x="1792.09" y="1759.02" width="15.57" height="15.60" fill="#bce19e"/><rect x="1807.06" y="1759.02" width="15.57" height="15.60" fill="#ecf0aa"/><rect x="1822.03" y="1759.02" width="15.57" height="15.60" fill="#cee69c"/><rect x="1837.00" y="1759.02" width="15.57" height="15.60" fill="#ecf0aa"/><rect x="1851.97" y="1759.02" width="15.57" height="15.60" fill="#e5eea2"/><rect x="1866.94" y="1759.02" width="15.57" height="15.60" fill="#f8f3b7"/><rect x="1881.91" y="1759.02" width="15.57" height="15.60" fill="#f8f4b9"/><rect x="1896.88" y="1759.02" width="15.57" height="15.60" fill="#fae89f"/><rect x="1911.85" y="1759.02" width="15.57" height="15.60" fill="#f8f3b7"/><rect x="1926.82" y="1759.02" width="15.57" height="15.60" fill="#f8f4b9"/><rect x="1941.78" y="1759.02" width="15.57" height="15.60" fill="#f8f3b7"/><rect x="1956.75" y="1759.02" width="15.57" height="15.60" fill="#fbb868"/><rect x="1971.72" y="1759.02" width="15.57" height="15.60" fill="#fae293"/><rect x="1986.69" y="1759.02" width="15.57" height="15.60" fill="#fbc473"/><rect x="2001.66" y="1759.02" width="15.57" height="15.60" fill="#fbc473"/><rect x="2016.63" y="1759.02" width="15.57" height="15.60" fill="#e15046"/><rect x="1702.28" y="1774.02" width="15.57" height="15.60" fill="#f8f3b7"/><rect x="1717.25" y="1774.02" width="15.57" height="15.60" fill="#abdb9f"/><rect x="1732.22" y="1774.02" width="15.57" height="15.60" fill="#5048a0"/><rect x="1747.18" y="1774.02" width="15.57" height="15.60" fill="#bce19e"/><rect x="1762.15" y="1774.02" width="15.57" height="15.60" fill="#dfec9a"/><rect x="1777.12" y="1774.02" width="15.57" height="15.60" fill="#dfec9a"/><rect x="1792.09" y="1774.02" width="15.57" height="15.60" fill="#cee69c"/><rect x="1807.06" y="1774.02" width="15.57" height="15.60" fill="#3084bc"/><rect x="1822.03" y="1774.02" width="15.57" height="15.60" fill="#abdb9f"/><rect x="1837.00" y="1774.02" width="15.57" height="15.60" fill="#cee69c"/><rect x="1851.97" y="1774.02" width="15.57" height="15.60" fill="#e5eea2"/><rect x="1866.94" y="1774.02" width="15.57" height="15.60" fill="#f8f3b7"/><rect x="1881.91" y="1774.02" width="15.57" height="15.60" fill="#f8f4b9"/><rect x="1896.88" y="1774.02" width="15.57" height="15.60" fill="#f2f2b1"/><rect x="1911.85" y="1774.02" width="15.57" height="15.60" fill="#f2f2b1"/><rect x="1926.82" y="1774.02" width="15.57" height="15.60" fill="#f8f4b9"/><rect x="1941.78" y="1774.02" width="15.57" height="15.60" fill="#f8f3b7"/><rect x="1956.75" y="1774.02" width="15.57" height="15.60" fill="#f6894d"/><rect x="1971.72" y="1774.02" width="15.57" height="15.60" fill="#f9edab"/><rect x="1986.69" y="1774.02" width="15.57" height="15.60" fill="#fbd07d"/><rect x="2001.66" y="1774.02" width="15.57" height="15.60" fill="#f47845"/><rect x="2016.63" y="1774.02" width="15.57" height="15.60" fill="#d94449"/><rect x="1687.31" y="1789.02" width="15.57" height="15.60" fill="#f8f3b7"/><rect x="1702.28" y="1789.02" width="15.57" height="15.60" fill="#5048a0"/><rect x="1717.25" y="1789.02" width="15.57" height="15.60" fill="#4360ab"/><rect x="1732.22" y="1789.02" width="15.57" height="15.60" fill="#5048a0"/><rect x="1747.18" y="1789.02" width="15.57" height="15.60" fill="#96d3a0"/><rect x="1762.15" y="1789.02" width="15.57" height="15.60" fill="#bce19e"/><rect x="1777.12" y="1789.02" width="15.57" height="15.60" fill="#cee69c"/><rect x="1792.09" y="1789.02" width="15.57" height="15.60" fill="#cee69c"/><rect x="1807.06" y="1789.02" width="15.57" height="15.60" fill="#3084bc"/><rect x="1822.03" y="1789.02" width="15.57" height="15.60" fill="#80caa0"/><rect x="1837.00" y="1789.02" width="15.57" height="15.60" fill="#eef1ad"/><rect x="1851.97" y="1789.02" width="15.57" height="15.60" fill="#f8f3b7"/><rect x="1866.94" y="1789.02" width="15.57" height="15.60" fill="#f8f4b9"/><rect x="1881.91" y="1789.02" width="15.57" height="15.60" fill="#f8f4b9"/><rect x="1896.88" y="1789.02" width="15.57" height="15.60" fill="#ecf0aa"/><rect x="1911.85" y="1789.02" width="15.57" height="15.60" fill="#f2f2b1"/><rect x="1926.82" y="1789.02" width="15.57" height="15.60" fill="#cee69c"/><rect x="1941.78" y="1789.02" width="15.57" height="15.60" fill="#e5eea2"/><rect x="1956.75" y="1789.02" width="15.57" height="15.60" fill="#f8f3b7"/><rect x="1971.72" y="1789.02" width="15.57" height="15.60" fill="#f8f4b9"/><rect x="1986.69" y="1789.02" width="15.57" height="15.60" fill="#f8f4b9"/><rect x="2001.66" y="1789.02" width="15.57" height="15.60" fill="#f2f2b1"/><rect x="2016.63" y="1789.02" width="15.57" height="15.60" fill="#fbd07d"/><rect x="1672.34" y="1804.01" width="15.57" height="15.60" fill="#f8f3b7"/><rect x="1687.31" y="1804.01" width="15.57" height="15.60" fill="#5048a0"/><rect x="1702.28" y="1804.01" width="15.57" height="15.60" fill="#5048a0"/><rect x="1717.25" y="1804.01" width="15.57" height="15.60" fill="#6bc2a0"/><rect x="1732.22" y="1804.01" width="15.57" height="15.60" fill="#3d95b4"/><rect x="1747.18" y="1804.01" width="15.57" height="15.60" fill="#96d3a0"/><rect x="1762.15" y="1804.01" width="15.57" height="15.60" fill="#96d3a0"/><rect x="1777.12" y="1804.01" width="15.57" height="15.60" fill="#dfec9a"/><rect x="1792.09" y="1804.01" width="15.57" height="15.60" fill="#f8f3b7"/><rect x="1807.06" y="1804.01" width="15.57" height="15.60" fill="#bce19e"/><rect x="1822.03" y="1804.01" width="15.57" height="15.60" fill="#cee69c"/><rect x="1837.00" y="1804.01" width="15.57" height="15.60" fill="#ecf0aa"/><rect x="1851.97" y="1804.01" width="15.57" height="15.60" fill="#eef1ad"/><rect x="1866.94" y="1804.01" width="15.57" height="15.60" fill="#f8f3b7"/><rect x="1881.91" y="1804.01" width="15.57" height="15.60" fill="#f2f2b1"/><rect x="1896.88" y="1804.01" width="15.57" height="15.60" fill="#ecf0aa"/><rect x="1911.85" y="1804.01" width="15.57" height="15.60" fill="#f8f3b7"/><rect x="1926.82" y="1804.01" width="15.57" height="15.60" fill="#f2f2b1"/><rect x="1941.78" y="1804.01" width="15.57" height="15.60" fill="#f8f4b9"/><rect x="1956.75" y="1804.01" width="15.57" height="15.60" fill="#f4f3b4"/><rect x="1971.72" y="1804.01" width="15.57" height="15.60" fill="#f8f4b9"/><rect x="1986.69" y="1804.01" width="15.57" height="15.60" fill="#f2f2b1"/><rect x="2001.66" y="1804.01" width="15.57" height="15.60" fill="#f2f2b1"/><rect x="2016.63" y="1804.01" width="15.57" height="15.60" fill="#fae293"/><rect x="1657.37" y="1819.01" width="15.57" height="15.60" fill="#f8f3b7"/><rect x="1672.34" y="1819.01" width="15.57" height="15.60" fill="#80caa0"/><rect x="1687.31" y="1819.01" width="15.57" height="15.60" fill="#96d3a0"/><rect x="1702.28" y="1819.01" width="15.57" height="15.60" fill="#3084bc"/><rect x="1717.25" y="1819.01" width="15.57" height="15.60" fill="#cee69c"/><rect x="1732.22" y="1819.01" width="15.57" height="15.60" fill="#abdb9f"/><rect x="1747.18" y="1819.01" width="15.57" height="15.60" fill="#dfec9a"/><rect x="1762.15" y="1819.01" width="15.57" height="15.60" fill="#96d3a0"/><rect x="1777.12" y="1819.01" width="15.57" height="15.60" fill="#f8f3b7"/><rect x="1792.09" y="1819.01" width="15.57" height="15.60" fill="#f8f3b7"/><rect x="1807.06" y="1819.01" width="15.57" height="15.60" fill="#eef1ad"/><rect x="1822.03" y="1819.01" width="15.57" height="15.60" fill="#f2f2b1"/><rect x="1837.00" y="1819.01" width="15.57" height="15.60" fill="#f2f2b1"/><rect x="1851.97" y="1819.01" width="15.57" height="15.60" fill="#dfec9a"/><rect x="1866.94" y="1819.01" width="15.57" height="15.60" fill="#f8f3b7"/><rect x="1881.91" y="1819.01" width="15.57" height="15.60" fill="#f8f4b9"/><rect x="1896.88" y="1819.01" width="15.57" height="15.60" fill="#f9edab"/><rect x="1911.85" y="1819.01" width="15.57" height="15.60" fill="#fbdc88"/><rect x="1926.82" y="1819.01" width="15.57" height="15.60" fill="#f2f2b1"/><rect x="1941.78" y="1819.01" width="15.57" height="15.60" fill="#f8f4b9"/><rect x="1956.75" y="1819.01" width="15.57" height="15.60" fill="#f8f3b7"/><rect x="1971.72" y="1819.01" width="15.57" height="15.60" fill="#f8f3b7"/><rect x="1986.69" y="1819.01" width="15.57" height="15.60" fill="#fbc473"/><rect x="2001.66" y="1819.01" width="15.57" height="15.60" fill="#f8f3b7"/><rect x="2016.63" y="1819.01" width="15.57" height="15.60" fill="#f8f3b7"/><rect x="1642.40" y="1834.00" width="15.57" height="15.60" fill="#f8f3b7"/><rect x="1657.37" y="1834.00" width="15.57" height="15.60" fill="#80caa0"/><rect x="1672.34" y="1834.00" width="15.57" height="15.60" fill="#3a72b4"/><rect x="1687.31" y="1834.00" width="15.57" height="15.60" fill="#3084bc"/><rect x="1702.28" y="1834.00" width="15.57" height="15.60" fill="#3084bc"/><rect x="1717.25" y="1834.00" width="15.57" height="15.60" fill="#96d3a0"/><rect x="1732.22" y="1834.00" width="15.57" height="15.60" fill="#abdb9f"/><rect x="1747.18" y="1834.00" width="15.57" height="15.60" fill="#abdb9f"/><rect x="1762.15" y="1834.00" width="15.57" height="15.60" fill="#abdb9f"/><rect x="1777.12" y="1834.00" width="15.57" height="15.60" fill="#abdb9f"/><rect x="1792.09" y="1834.00" width="15.57" height="15.60" fill="#ecf0aa"/><rect x="1807.06" y="1834.00" width="15.57" height="15.60" fill="#eef1ad"/><rect x="1822.03" y="1834.00" width="15.57" height="15.60" fill="#f2f2b1"/><rect x="1837.00" y="1834.00" width="15.57" height="15.60" fill="#f2f2b1"/><rect x="1851.97" y="1834.00" width="15.57" height="15.60" fill="#eef1ad"/><rect x="1866.94" y="1834.00" width="15.57" height="15.60" fill="#f8f4b9"/><rect x="1881.91" y="1834.00" width="15.57" height="15.60" fill="#f2f2b1"/><rect x="1896.88" y="1834.00" width="15.57" height="15.60" fill="#f2f2b1"/><rect x="1911.85" y="1834.00" width="15.57" height="15.60" fill="#f8f4b9"/><rect x="1926.82" y="1834.00" width="15.57" height="15.60" fill="#f8f4b9"/><rect x="1941.78" y="1834.00" width="15.57" height="15.60" fill="#eef1ad"/><rect x="1956.75" y="1834.00" width="15.57" height="15.60" fill="#f8f3b7"/><rect x="1971.72" y="1834.00" width="15.57" height="15.60" fill="#fbd07d"/><rect x="1986.69" y="1834.00" width="15.57" height="15.60" fill="#f8f3b7"/><rect x="2001.66" y="1834.00" width="15.57" height="15.60" fill="#f2f2b1"/><rect x="2016.63" y="1834.00" width="15.57" height="15.60" fill="#f8f3b7"/></g>
<text x="2044.6" y="1473.4" font-size="20.5">NHR –28</text>
<text x="2044.6" y="1488.4" font-size="20.5">NHR –77</text>
<text x="2044.6" y="1503.4" font-size="20.5">NHR –237</text>
<text x="2044.6" y="1518.4" font-size="20.5">NHR –12</text>
<text x="2044.6" y="1533.4" font-size="20.5">NHR –11</text>
<text x="2044.6" y="1548.4" font-size="20.5">SAX –3</text>
<text x="2044.6" y="1563.4" font-size="20.5">FKH –10</text>
<text x="2044.6" y="1578.4" font-size="20.5">CES –1</text>
<text x="2044.6" y="1593.4" font-size="20.5">UNC –62</text>
<text x="2044.6" y="1608.4" font-size="20.5">AMA –1</text>
<text x="2044.6" y="1623.4" font-size="20.5">ZTF –11</text>
<text x="2044.6" y="1638.4" font-size="20.5">ALY –2</text>
<text x="2044.6" y="1653.4" font-size="20.5">NHR –76</text>
<text x="2044.6" y="1668.3" font-size="20.5">ZK546.5</text>
<text x="2044.6" y="1683.3" font-size="20.5">ZAG –1</text>
<text x="2044.6" y="1698.3" font-size="20.5">FOS –1</text>
<text x="2044.6" y="1713.3" font-size="20.5">UNC –39</text>
<text x="2044.6" y="1728.3" font-size="20.5">PQM –1</text>
<text x="2044.6" y="1743.3" font-size="20.5">JUN –1</text>
<text x="2044.6" y="1758.3" font-size="20.5">SKN –1</text>
<text x="2044.6" y="1773.3" font-size="20.5">PHA –4</text>
<text x="2044.6" y="1788.3" font-size="20.5">LIN –15B</text>
<text x="2044.6" y="1803.3" font-size="20.5">GEI –11</text>
<text x="2044.6" y="1818.3" font-size="20.5">R02D3.7</text>
<text x="2044.6" y="1833.3" font-size="20.5">F45C12.2</text>
<text x="2044.6" y="1848.3" font-size="20.5">CEH –38</text>
<text transform="translate(1656.7,1860.3) rotate(-90)" font-size="20.5" text-anchor="end">CEH –38</text>
<text transform="translate(1671.7,1860.3) rotate(-90)" font-size="20.5" text-anchor="end">F45C12.2</text>
<text transform="translate(1686.6,1860.3) rotate(-90)" font-size="20.5" text-anchor="end">R02D3.7</text>
<text transform="translate(1701.6,1860.3) rotate(-90)" font-size="20.5" text-anchor="end">GEI –11</text>
<text transform="translate(1716.6,1860.3) rotate(-90)" font-size="20.5" text-anchor="end">LIN –15B</text>
<text transform="translate(1731.5,1860.3) rotate(-90)" font-size="20.5" text-anchor="end">PHA –4</text>
<text transform="translate(1746.5,1860.3) rotate(-90)" font-size="20.5" text-anchor="end">SKN –1</text>
<text transform="translate(1761.5,1860.3) rotate(-90)" font-size="20.5" text-anchor="end">JUN –1</text>
<text transform="translate(1776.4,1860.3) rotate(-90)" font-size="20.5" text-anchor="end">PQM –1</text>
<text transform="translate(1791.4,1860.3) rotate(-90)" font-size="20.5" text-anchor="end">UNC –39</text>
<text transform="translate(1806.4,1860.3) rotate(-90)" font-size="20.5" text-anchor="end">FOS –1</text>
<text transform="translate(1821.3,1860.3) rotate(-90)" font-size="20.5" text-anchor="end">ZAG –1</text>
<text transform="translate(1836.3,1860.3) rotate(-90)" font-size="20.5" text-anchor="end">ZK546.5</text>
<text transform="translate(1851.3,1860.3) rotate(-90)" font-size="20.5" text-anchor="end">NHR –76</text>
<text transform="translate(1866.3,1860.3) rotate(-90)" font-size="20.5" text-anchor="end">ALY –2</text>
<text transform="translate(1881.2,1860.3) rotate(-90)" font-size="20.5" text-anchor="end">ZTF –11</text>
<text transform="translate(1896.2,1860.3) rotate(-90)" font-size="20.5" text-anchor="end">AMA –1</text>
<text transform="translate(1911.2,1860.3) rotate(-90)" font-size="20.5" text-anchor="end">UNC –62</text>
<text transform="translate(1926.1,1860.3) rotate(-90)" font-size="20.5" text-anchor="end">CES –1</text>
<text transform="translate(1941.1,1860.3) rotate(-90)" font-size="20.5" text-anchor="end">FKH –10</text>
<text transform="translate(1956.1,1860.3) rotate(-90)" font-size="20.5" text-anchor="end">SAX –3</text>
<text transform="translate(1971.0,1860.3) rotate(-90)" font-size="20.5" text-anchor="end">NHR –11</text>
<text transform="translate(1986.0,1860.3) rotate(-90)" font-size="20.5" text-anchor="end">NHR –12</text>
<text transform="translate(2001.0,1860.3) rotate(-90)" font-size="20.5" text-anchor="end">NHR –237</text>
<text transform="translate(2015.9,1860.3) rotate(-90)" font-size="20.5" text-anchor="end">NHR –77</text>
<text transform="translate(2030.9,1860.3) rotate(-90)" font-size="20.5" text-anchor="end">NHR –28</text>
<rect x="1610" y="1494.7" width="21" height="322.0" fill="url(#gv)" stroke="#000" stroke-width="2"/>
<text transform="translate(1630,1487) rotate(-90)" font-size="24.5">+0.4</text>
<text transform="translate(1630,1825.5) rotate(-90)" font-size="24.5" text-anchor="end">-0.4</text>
<text transform="translate(1595.5,1657) rotate(-90)" font-size="24.5" text-anchor="middle">Δ Co-association Strength</text>
<text x="1841.9" y="1439.4" font-size="24.3" text-anchor="middle">Larval L3 vs. Larval L4</text>
</svg>
</body></html>
